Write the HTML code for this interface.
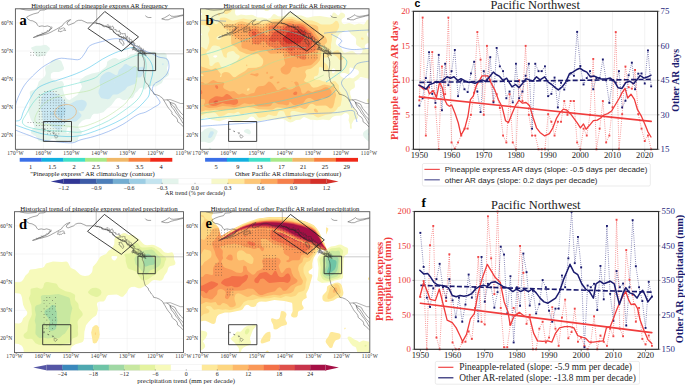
<!DOCTYPE html>
<html><head><meta charset="utf-8"><title>AR trends</title>
<style>html,body{margin:0;padding:0;background:#fff;width:685px;height:385px;overflow:hidden}svg{display:block}text{white-space:pre}</style>
</head><body>
<svg width="685" height="385" viewBox="0 0 685 385"><clipPath id="clipa"><rect x="15.4" y="8.8" width="168.2" height="140.5"/></clipPath>
<g clip-path="url(#clipa)">
<path d="M43.4 8.8V149.3M71.5 8.8V149.3M99.5 8.8V149.3M127.5 8.8V149.3M155.6 8.8V149.3M15.4 135.2H183.6M15.4 107.1H183.6M15.4 79H183.6M15.4 51H183.6M15.4 22.9H183.6" stroke="#e4e4e4" stroke-width="0.35" fill="none"/>
<path d="M39.4 56.8L37.4 56.8L35.9 55.6L34.5 53.8L33.3 50.8L31.3 48.8L31.1 47.8L31.9 47.2L35.9 45.8L40.4 45.8L44.9 44.8L46.7 45.3L49.6 47.8L49.9 48.8L49.6 49.8L47.9 51.6L45.4 55.1L39.4 56.8ZM76.4 142.0L73.4 142.0L67.9 140.5L62.4 141.8L58.9 141.9L57.4 141.4L54.4 139.1L52.9 138.6L51.4 139.0L48.4 141.3L46.9 142.0L44.9 142.2L41.0 141.8L38.6 140.8L35.8 136.3L31.6 133.8L30.8 132.8L31.0 130.8L31.9 129.8L34.2 128.3L34.6 127.3L33.1 123.3L30.9 119.7L28.4 111.8L28.3 109.3L29.3 105.8L29.4 102.3L30.4 98.3L29.7 92.8L30.1 91.8L30.9 90.9L34.4 89.7L36.1 88.3L37.4 86.3L38.7 81.8L44.8 76.3L45.5 74.8L45.8 72.8L44.9 68.3L45.9 66.1L49.4 64.5L51.4 60.9L53.4 59.8L55.9 59.3L58.4 59.6L60.3 60.3L61.4 61.3L64.0 67.8L64.0 69.3L62.4 70.5L58.9 72.0L53.9 71.9L52.4 72.4L51.4 73.3L50.9 74.3L50.7 77.8L51.2 78.8L51.9 79.3L56.4 81.2L57.9 81.5L61.4 81.0L62.9 81.7L64.1 84.8L62.8 87.8L62.8 89.3L64.4 94.8L65.6 97.3L66.9 98.9L67.9 99.6L69.4 99.9L70.9 99.3L73.4 97.4L77.4 95.1L81.4 88.3L81.9 86.8L81.8 85.8L79.7 81.8L79.7 80.8L80.4 79.8L85.4 76.0L91.9 73.6L97.9 72.3L100.4 71.2L105.9 66.7L106.7 65.3L107.1 62.3L107.6 61.3L112.4 58.5L114.4 57.9L115.9 57.9L118.4 59.6L119.4 59.7L121.4 58.7L126.4 57.6L127.9 56.8L130.4 54.4L133.9 54.0L137.4 51.6L139.4 51.0L141.4 51.1L145.9 52.6L153.9 51.5L158.4 53.0L164.4 52.7L166.2 53.8L166.7 54.8L166.7 57.3L168.1 60.3L168.5 62.3L168.3 64.3L167.0 67.8L166.9 69.3L169.0 73.3L169.1 74.3L168.1 75.8L163.8 78.8L161.9 83.0L155.9 86.5L154.9 86.6L151.4 85.8L148.9 86.4L147.4 87.3L145.4 89.6L144.4 89.4L142.4 87.5L140.4 87.9L139.3 88.8L137.5 91.3L135.2 93.3L133.2 97.3L131.9 98.3L128.9 98.6L124.9 100.3L122.9 99.9L119.4 97.9L117.1 98.3L115.4 99.7L111.4 105.2L106.9 108.7L103.4 112.3L97.9 113.8L93.9 113.7L92.1 115.3L90.7 118.3L89.9 119.1L85.9 119.2L82.2 120.8L79.3 123.8L78.5 125.3L78.2 126.8L78.9 128.5L81.5 131.3L81.9 132.3L81.8 133.3L78.6 136.8L77.6 140.8L76.4 142.0ZM68.1 133.3L69.7 131.8L70.5 129.8L70.0 127.8L68.9 127.2L67.4 127.9L66.4 130.3L66.4 132.3L66.8 133.3L67.4 133.5L68.1 133.3Z" fill="#e4f4ec" fill-rule="evenodd"/>
<path d="M163.4 65.0L162.9 65.2L162.2 64.8L162.2 63.8L162.9 63.3L163.8 63.8L163.4 65.0ZM107.9 99.3L101.4 98.2L100.1 96.8L98.5 93.3L98.6 90.8L100.2 86.8L99.5 82.3L99.7 79.8L100.8 76.8L102.6 74.8L105.9 72.4L108.4 71.8L110.4 72.3L115.4 75.0L116.9 75.1L117.7 74.3L118.4 71.3L119.1 69.8L121.9 67.5L124.4 64.4L125.4 63.9L126.4 63.9L129.2 65.8L130.9 66.4L133.9 66.6L137.9 67.6L142.9 66.8L144.4 67.4L145.0 68.3L145.1 69.8L141.4 76.6L139.9 77.4L136.9 77.3L135.9 78.3L136.2 81.8L135.4 83.4L134.0 84.3L127.4 86.8L125.1 89.8L118.4 93.9L116.9 94.4L113.9 94.5L112.8 94.8L109.9 98.4L107.9 99.3ZM114.6 82.3L114.7 81.8L114.4 81.7L113.7 82.3L114.6 82.3ZM59.4 130.6L57.9 130.4L55.3 128.3L51.9 126.7L48.4 123.5L47.4 123.4L45.4 123.9L44.4 123.7L43.2 121.8L42.5 118.3L42.0 112.3L40.2 108.3L40.0 106.8L41.3 102.3L41.4 97.3L43.9 93.6L45.9 92.2L49.4 91.3L50.9 91.2L58.9 94.9L60.4 96.2L65.4 102.2L67.9 103.8L69.4 104.0L70.9 103.6L76.4 100.6L81.9 99.7L84.4 100.4L86.0 101.8L86.6 102.8L86.8 104.3L86.4 105.8L83.9 110.2L81.9 111.2L78.4 110.4L78.4 111.3L81.5 114.8L81.3 116.3L80.1 117.8L76.9 120.7L75.4 121.6L73.9 121.7L69.9 120.5L68.4 120.7L64.1 124.3L59.4 130.6Z" fill="#cae7f1" fill-rule="evenodd"/>
<path d="M59.9 122.9L59.0 122.8L58.8 122.3L60.0 118.8L60.1 117.3L59.5 116.3L56.8 113.8L56.2 112.8L59.3 104.8L59.9 104.1L60.9 104.0L61.9 104.5L65.1 107.8L65.6 108.8L65.8 110.3L65.2 112.8L62.8 116.8L61.9 120.5L60.9 122.1L59.9 122.9ZM52.9 114.8L51.4 114.9L50.4 114.3L49.7 113.3L49.9 112.5L51.9 112.1L54.3 112.8L54.5 113.3L54.3 113.8L52.9 114.8Z" fill="#b3dbec" fill-rule="evenodd"/>
<path d="M13 114C13.3 113.6 14.5 113.4 15 111.6C15.5 109.8 15.1 106.4 16 103.3C16.9 100.2 18.4 96.4 20.2 92.9C21.9 89.4 23.4 86.3 26.5 82.5C29.6 78.7 35.5 73.1 39 70C42.5 66.9 44.3 65.9 47.6 64C50.9 62.1 55.2 59.3 58.9 58.5C62.6 57.7 66.6 58.9 70 59C73.4 59.1 76.9 60.4 79.4 59.4C81.9 58.4 83.2 55.2 85 52.9C86.8 50.6 87.1 47.5 90 45.6C92.9 43.7 98.3 42.5 102.5 41.4C106.7 40.2 111.2 38.9 115 38.7C118.8 38.5 122.2 39 125.3 40C128.4 41 131.1 43 133.7 44.6C136.3 46.2 138.2 48.1 141 49.5C143.8 50.9 147.4 51.6 150.3 52.9C153.2 54.1 155.8 56 158.6 57C161.4 58 165.3 57.5 167 59.1C168.7 60.7 169 64 169 66.4C169 68.8 168.4 71.4 167 73.7C165.6 76 162.8 78.3 160.7 80C158.6 81.7 155.8 82.3 154.4 84C153 85.7 152.1 88.2 152.4 90.3C152.8 92.4 155.2 94.4 156.5 96.5C157.8 98.6 160.4 101.1 160 102.9C159.6 104.7 156.7 105.6 154.3 107.1C151.9 108.6 148.6 110.8 145.7 112.1C142.8 113.4 140.9 113 137.1 115C133.3 117 127.7 121.6 122.9 124.3C118.2 127 113.4 129.4 108.6 131.4C103.8 133.4 99.1 135 94.3 136.4C89.5 137.8 83.7 138.9 80 140C76.3 141.1 76.3 142.5 72.2 142.8C68.1 143.1 60.8 142.2 55.6 141.7C50.4 141.2 45.9 140.8 41 139.6C36.1 138.4 30.7 135.9 26.5 134.4C22.3 132.9 18.2 131.2 16 130.3C13.8 129.4 13.5 129.2 13 129" fill="none" stroke="#5a8ce4" stroke-width="0.5" stroke-linejoin="round"/>
<path d="M13 121C14.2 120.8 18.5 121.5 20.2 119.9C21.9 118.3 22 114.7 23.4 111.6C24.8 108.5 26.4 105 28.6 101.2C30.9 97.4 33.5 91.8 36.9 88.7C40.3 85.6 45.8 84 49.3 82.5C52.8 81 53.5 81.5 58 80C62.5 78.5 71.1 75.8 76.4 73.6C81.7 71.4 85.7 69.4 90 67C94.3 64.6 98.3 61.5 102.5 59.1C106.7 56.8 110.8 54.6 115 52.9C119.2 51.2 124.3 49.6 127.4 48.7C130.5 47.8 131.4 47 133.7 47.7C136 48.4 138.6 51.3 141 53C143.4 54.7 146.1 55.8 148 58C149.9 60.2 151.7 63.2 152.4 66C153.1 68.8 152.8 72 152.4 75C152 78 150.5 80.8 150 84C149.5 87.2 150 91.6 149.3 94.3C148.6 97 147.7 97.6 145.7 100C143.7 102.4 140.9 105.5 137.1 108.6C133.3 111.7 127.7 115.8 122.9 118.6C118.2 121.4 113.4 123.6 108.6 125.7C103.8 127.8 99.1 129.7 94.3 131.4C89.5 133.1 84.7 134.8 80 135.7C75.3 136.5 71.8 136.7 66 136.5C60.2 136.3 51.1 135.4 45.2 134.4C39.3 133.4 35.1 131.7 30.6 130.3C26.1 128.9 21.1 127 18.2 126C15.3 125 13.9 124.3 13 124" fill="none" stroke="#30bce6" stroke-width="0.5" stroke-linejoin="round"/>
<path d="M26.5 113.7C28.2 110.6 30.3 106.4 32.7 103.3C35.1 100.2 37.2 97.4 41 95C44.8 92.6 50.4 90.4 55.6 88.7C60.8 87 65.8 86.3 72.2 84.6C78.6 82.9 89 80.5 94 78.3C99 76.1 99 73.8 102.5 71.6C106 69.4 110.8 67.4 115 65.3C119.2 63.2 123.6 60.8 127.4 59.1C131.2 57.4 135 55.4 137.8 55C140.6 54.6 142.6 55.3 144 57C145.4 58.7 145.9 61.8 146.1 65.3C146.3 68.8 145.5 73.9 145 78C144.5 82.1 144.2 86.3 142.9 90C141.6 93.7 140.4 96.4 137.1 100C133.8 103.6 127.7 108 122.9 111.4C118.2 114.9 113.4 118.1 108.6 120.7C103.8 123.3 99.1 125.2 94.3 127.1C89.5 129 84.7 131.4 80 132.1C75.3 132.8 71.8 131.6 66 131.3C60.2 131 51.5 131 45.2 130.3C38.9 129.6 31.8 128.4 28 127C24.2 125.6 22.6 124.2 22.3 122C22.1 119.8 24.8 116.8 26.5 113.7" fill="none" stroke="#5ad8c8" stroke-width="0.5" stroke-linejoin="round"/>
<path d="M39 109.5C41.1 106.4 43.8 103.5 47.3 101.2C50.8 99 54.9 97.4 59.7 96C64.6 94.6 71.4 93.9 76.4 92.9C81.5 92 85.7 91.8 90 90.3C94.3 88.8 98.3 86.1 102.5 84C106.7 81.9 110.8 79.9 115 77.8C119.2 75.7 124 73.5 127.4 71.6C130.8 69.7 134.1 65.8 135.7 66.4C137.3 67 137.2 71.1 137 75C136.8 78.9 135.8 85.8 134.3 90C132.8 94.2 129.9 97.4 128 100C126.1 102.6 126.1 103.1 122.9 105.7C119.7 108.3 113.4 112.8 108.6 115.7C103.8 118.6 99.1 121 94.3 122.9C89.5 124.8 84.7 126.6 80 127.1C75.3 127.6 72.5 126.5 66 126C59.5 125.5 46.2 125 41 124C35.8 123 35.1 122.3 34.8 119.9C34.5 117.5 36.9 112.6 39 109.5" fill="none" stroke="#b4e296" stroke-width="0.5" stroke-linejoin="round"/>
<ellipse cx="65.5" cy="112.3" rx="11.0" ry="7.8" fill="none" stroke="#eeb06c" stroke-width="0.6" transform="rotate(-8 65.5 112.3)"/>
<path d="M27.7 122.3h.7v.7h-.7zM30.5 122.3h.7v.7h-.7zM33.3 122.3h.7v.7h-.7zM36.1 125.1h.7v.7h-.7zM36.1 122.3h.7v.7h-.7zM38.9 125.1h.7v.7h-.7zM38.9 122.3h.7v.7h-.7zM38.9 119.4h.7v.7h-.7zM38.9 116.6h.7v.7h-.7zM38.9 113.8h.7v.7h-.7zM38.9 111h.7v.7h-.7zM38.9 108.2h.7v.7h-.7zM38.9 105.4h.7v.7h-.7zM38.9 102.6h.7v.7h-.7zM38.9 99.8h.7v.7h-.7zM38.9 97h.7v.7h-.7zM38.9 94.2h.7v.7h-.7zM41.7 127.9h.7v.7h-.7zM41.7 125.1h.7v.7h-.7zM41.7 122.3h.7v.7h-.7zM41.7 119.4h.7v.7h-.7zM41.7 116.6h.7v.7h-.7zM41.7 113.8h.7v.7h-.7zM41.7 111h.7v.7h-.7zM41.7 108.2h.7v.7h-.7zM41.7 105.4h.7v.7h-.7zM41.7 102.6h.7v.7h-.7zM41.7 99.8h.7v.7h-.7zM41.7 97h.7v.7h-.7zM41.7 94.2h.7v.7h-.7zM44.5 130.7h.7v.7h-.7zM44.5 127.9h.7v.7h-.7zM44.5 125.1h.7v.7h-.7zM44.5 122.3h.7v.7h-.7zM44.5 119.4h.7v.7h-.7zM44.5 116.6h.7v.7h-.7zM44.5 113.8h.7v.7h-.7zM44.5 111h.7v.7h-.7zM44.5 108.2h.7v.7h-.7zM44.5 105.4h.7v.7h-.7zM44.5 102.6h.7v.7h-.7zM44.5 99.8h.7v.7h-.7zM44.5 97h.7v.7h-.7zM44.5 94.2h.7v.7h-.7zM44.5 91.3h.7v.7h-.7zM47.3 133.5h.7v.7h-.7zM47.3 130.7h.7v.7h-.7zM47.3 127.9h.7v.7h-.7zM47.3 125.1h.7v.7h-.7zM47.3 122.3h.7v.7h-.7zM47.3 119.4h.7v.7h-.7zM47.3 116.6h.7v.7h-.7zM47.3 113.8h.7v.7h-.7zM47.3 111h.7v.7h-.7zM47.3 108.2h.7v.7h-.7zM47.3 105.4h.7v.7h-.7zM47.3 102.6h.7v.7h-.7zM47.3 99.8h.7v.7h-.7zM47.3 97h.7v.7h-.7zM47.3 94.2h.7v.7h-.7zM47.3 91.3h.7v.7h-.7zM50.1 133.5h.7v.7h-.7zM50.1 130.7h.7v.7h-.7zM50.1 127.9h.7v.7h-.7zM50.1 125.1h.7v.7h-.7zM50.1 122.3h.7v.7h-.7zM50.1 119.4h.7v.7h-.7zM50.1 116.6h.7v.7h-.7zM50.1 113.8h.7v.7h-.7zM50.1 111h.7v.7h-.7zM50.1 108.2h.7v.7h-.7zM50.1 105.4h.7v.7h-.7zM50.1 102.6h.7v.7h-.7zM50.1 99.8h.7v.7h-.7zM50.1 97h.7v.7h-.7zM50.1 94.2h.7v.7h-.7zM50.1 91.3h.7v.7h-.7zM52.9 133.5h.7v.7h-.7zM52.9 130.7h.7v.7h-.7zM52.9 127.9h.7v.7h-.7zM52.9 125.1h.7v.7h-.7zM52.9 122.3h.7v.7h-.7zM52.9 119.4h.7v.7h-.7zM52.9 116.6h.7v.7h-.7zM52.9 113.8h.7v.7h-.7zM52.9 111h.7v.7h-.7zM52.9 108.2h.7v.7h-.7zM52.9 105.4h.7v.7h-.7zM52.9 102.6h.7v.7h-.7zM52.9 99.8h.7v.7h-.7zM52.9 97h.7v.7h-.7zM52.9 94.2h.7v.7h-.7zM52.9 91.3h.7v.7h-.7zM55.7 133.5h.7v.7h-.7zM55.7 130.7h.7v.7h-.7zM55.7 127.9h.7v.7h-.7zM55.7 125.1h.7v.7h-.7zM55.7 122.3h.7v.7h-.7zM55.7 119.4h.7v.7h-.7zM55.7 116.6h.7v.7h-.7zM55.7 113.8h.7v.7h-.7zM55.7 111h.7v.7h-.7zM55.7 108.2h.7v.7h-.7zM55.7 105.4h.7v.7h-.7zM55.7 102.6h.7v.7h-.7zM55.7 99.8h.7v.7h-.7zM55.7 97h.7v.7h-.7zM55.7 94.2h.7v.7h-.7zM55.7 91.3h.7v.7h-.7zM58.5 133.5h.7v.7h-.7zM58.5 130.7h.7v.7h-.7zM58.5 127.9h.7v.7h-.7zM58.5 125.1h.7v.7h-.7zM58.5 122.3h.7v.7h-.7zM58.5 119.4h.7v.7h-.7zM58.5 116.6h.7v.7h-.7zM58.5 113.8h.7v.7h-.7zM58.5 111h.7v.7h-.7zM58.5 108.2h.7v.7h-.7zM58.5 105.4h.7v.7h-.7zM58.5 102.6h.7v.7h-.7zM58.5 99.8h.7v.7h-.7zM58.5 97h.7v.7h-.7zM58.5 94.2h.7v.7h-.7zM61.3 130.7h.7v.7h-.7zM61.3 127.9h.7v.7h-.7zM61.3 125.1h.7v.7h-.7zM61.3 122.3h.7v.7h-.7zM61.3 119.4h.7v.7h-.7zM61.3 116.6h.7v.7h-.7zM61.3 113.8h.7v.7h-.7zM61.3 111h.7v.7h-.7zM61.3 108.2h.7v.7h-.7zM61.3 105.4h.7v.7h-.7zM61.3 102.6h.7v.7h-.7zM61.3 99.8h.7v.7h-.7zM61.3 97h.7v.7h-.7zM64.1 125.1h.7v.7h-.7zM64.1 122.3h.7v.7h-.7zM64.1 119.4h.7v.7h-.7zM64.1 116.6h.7v.7h-.7zM64.1 113.8h.7v.7h-.7zM64.1 111h.7v.7h-.7zM64.1 108.2h.7v.7h-.7zM64.1 105.4h.7v.7h-.7zM64.1 102.6h.7v.7h-.7zM64.1 99.8h.7v.7h-.7zM30.5 54.8h.7v.7h-.7zM30.5 52h.7v.7h-.7zM33.3 54.8h.7v.7h-.7zM33.3 52h.7v.7h-.7zM36.1 54.8h.7v.7h-.7zM36.1 52h.7v.7h-.7zM38.9 54.8h.7v.7h-.7zM38.9 52h.7v.7h-.7zM41.7 54.8h.7v.7h-.7zM41.7 52h.7v.7h-.7zM44.5 54.8h.7v.7h-.7zM44.5 52h.7v.7h-.7z" fill="#333" opacity="0.8"/>
<polyline points="47.6,8.2 44.8,9.9 40.1,10.2 38.4,12.7 33.6,13.9 30,15.3 26.6,17.2 28.3,19.5 30.5,20.6 32.8,20.9 36.4,22.9 37.5,25.1 38.9,26.5 42,25.9 44.8,26.5 47.4,25.9 50.4,26.8 51.3,28.8 49,30.7 46.8,32.4 43.4,33.8 39.5,34.9 36.1,36.3 33.3,37.5 36.1,36.9 38.9,35.8 42,35.2 44.8,34.4 47.9,33.5 51,32.1 53.5,30.7 56.3,29.3 59.7,27.3 62.2,25.9 63.1,24.3 65.3,22.3 67,20.9 70.6,19.5 69.2,21.2 67.5,22 67,24 68.7,25.1 71.5,24 74.3,22.9 76.2,21.2 78.5,20.3 81.6,20.3 84.1,21.4 87.2,22.9 91.1,22.9 95.3,23.1 98.7,23.7 101.2,24.5 104.3,25.7 107.3,27.1 109.9,27.9 112.1,29.9 114.4,32.4 116.9,34.7 120.2,36.6 123.9,38 126.7,39.1 128.1,41.4 130.3,43.1 133.1,45.3 134.3,47.3 133.4,49.3 135.9,50.7 138.7,52.1 141,53.8 143.2,54.9 142.4,56 143.8,58.8 144.4,61.6 144.4,65 144.1,67.8 143.2,70.6 143.8,73.4 143.8,76.2 144.4,78.2 144.9,80.5 145.5,82.1 147.2,84.1 148.6,85.2 148.8,86.9 150.2,88.6 151.6,90.9 153.3,92.5 153.9,94.2 156.7,94.8 159.5,95.9 160.6,96.8 162.3,97.9 163.4,99.6 164,100.7 165.1,102.4 166.2,104.3 167.3,106.3 168.7,108.3 170.7,110.5 172.1,112.8 171.8,113.9 174.1,115.9 176.3,117.5 177.4,119.5 177.7,121.8 179.7,123.2 181.9,125.1 183.6,127.1 185.3,126.8" fill="none" stroke="#333" stroke-width="0.45" stroke-linejoin="round"/>
<polyline points="185.3,126.8 184.4,124.6 182.8,123.2 181.9,121.5 180.5,119 179.1,117 177.7,115 176,113.1 174.9,111.1 173.5,109.1 171.8,107.1 170.7,104.9 170.1,102.4 171.8,102.9 173.8,103.5 175.5,104.6 176.3,106.6 177.4,108.6 179.1,110.5 180.8,112.8 182.2,114.2 183.9,115.6 185.3,117.3 186.1,119.5" fill="none" stroke="#333" stroke-width="0.45" stroke-linejoin="round"/>
<polyline points="166.8,99.8 169,101 171.3,104.3 173.5,106 175.2,108.3 176.9,111.1 178.6,113.9 180.2,116.1 182.5,118.4 184.2,120.6" fill="none" stroke="#333" stroke-width="0.45" stroke-linejoin="round"/>
<polyline points="19.3,8.2 21.6,9.1 25.5,9.9 28.9,10.2 32.8,9.9 36.7,9.6 38.9,8.2" fill="none" stroke="#333" stroke-width="0.45" stroke-linejoin="round"/>
<polyline points="161.7,18.9 165.4,19.8 168.2,19.8 171.3,18.4 174.6,17.5 177.2,16.9 180.2,16.1 183,15.5 183.6,14.7 180,15.5 176.6,16.1 173.8,16.4 171,16.1 169.6,14.7 167.9,15.8 164.5,17.8 161.7,18.9" fill="none" stroke="#333" stroke-width="0.45" stroke-linejoin="round"/>
<polyline points="145.5,15.5 146.3,16.7 148.3,17.5 151.4,17.5" fill="none" stroke="#333" stroke-width="0.45" stroke-linejoin="round"/>
<polyline points="95.3,23.1 95.7,22.6 96.1,22.2 96.4,23 96.6,23.7 96.9,23.8 97.3,23.5 97.7,23.3 98,23.3 98.2,24.1 98.6,23.8 99.2,23.2 99.5,23.7 99.8,23.8 100,24.4 100.5,24.3 101,23.9 101.3,24.3 101.5,24.8 101.9,24.6 102.2,25 102.2,26 102.7,25.6 103.2,25.4 103.2,26.4 103.5,26.6 104.1,26.2 104.3,26.4 104.4,27 104.9,26.6 105.7,25.9 105.9,26.1 105.9,26.9 106.4,26.8 106.9,26.4 107.1,26.8 107.4,27 107.9,26.6 108.2,27 108.3,27.8 108.7,27.7 109.2,27.4 109.7,27.3 109.8,28 109.6,28.8 110,28.9 110,29.5 110.6,29.4 111.5,28.9 111.5,29.4 112,29.4 112.8,29.2 112.8,29.7 112.9,30.1 113.2,30.3 112.9,31 113,31.3 113.8,31.1 113.3,32 113.5,32.3 114.2,32.1 114.5,32.2 114.7,32.5 114.7,33 115.2,33 115.2,33.5 115.5,33.6 116,33.6 116.2,33.9 116.4,34.2 116.8,34.3 117.3,34.1 117.3,34.7 117.6,34.8 118.2,34.5 118.7,34.3 118.5,35.5 118.6,36 119.3,35.4 119.4,35.9 119.4,36.7 120,36.4 120.2,36.6 120.5,37 121.2,36.1 121.2,37.1 121.3,37.9 121.7,37.9 122.1,37.8 122.8,36.8 123.4,36.3 123.3,37.7 123.2,38.8 123.9,38 124.6,37.3 124.9,37.5 124.9,38.6 125.2,38.8 125.7,38.6 126,39 126.2,39.4 126.6,39.3 127.1,39.3 127.2,39.7 127.2,40.2 127,40.8 127.1,41.1 128.1,40.9 128.4,41.1 128,42.2 128.6,41.9 129.4,41.4 129.9,41.4 130,41.7 129.7,42.8 129.6,43.5 130.3,43.1 131.6,42 131.4,43 130.8,44.2 131.4,44 131.7,44.3 131.7,44.8 132.1,44.9 132.5,44.9 133.2,44.7 133.5,45 133.7,45.5 133.7,45.9 133.7,46.3 133.2,47 132.8,47.7 134,47.5 134.6,47.5 134.7,47.9 135.3,47.8 135.8,47.9 136.1,48.1 136.3,48.5 136.2,49 136.2,49.7 136.4,50.1 136.8,50.1 137.1,50.4 137.4,50.5 137.9,50.2 138.3,50 138.6,50.2 138.7,51.2 139,51.2 139.6,50.5 140.2,50.2 140.6,50.2 140.5,51 140.6,51.7 141.4,50.8 142,50.4 142.3,50.7 142.8,50.3 142.7,51.5 142.7,52.3 143.2,51.9 143.5,52 143.9,52.2 144.1,52.5 144.4,52.7 144.4,53.5 144.6,53.8 145.1,53.7 145.5,53.8 145.9,53.8 146.3,53.8 146.9,53.5" fill="none" stroke="#222" stroke-width="0.45" stroke-linejoin="round"/>
<polyline points="106.5,25.7 107,25.1 107.4,24.7 107.7,25 108.2,24.6 108.3,25.8 108.4,27.2 108.7,27.3 109.1,27 109.8,25.8 110.2,25.9 110.4,26.3 110.3,27.5 110.6,27.9 111.1,27.4 111.8,26.6 112.5,25.8 112.7,26.3 112.8,27 113.1,27.3 113.7,27.2 113.6,27.9 113.5,28.6 113.9,28.7 114.1,29 114.2,29.4 114.6,29.4 114.9,29.7 115.5,29.4 115.5,30 115.8,30.2 116.4,29.9 116.2,30.8 116.2,31.3 116.6,31.3 117.3,31 117.7,31 117.9,31.3 118.1,31.6 119.2,30.6 119.7,30.7 119.1,32.1 119.5,32 120,32 120.1,32.4 120.7,32.3 120.6,33 120,34.4 120.3,34.7 121.5,33.6 121.8,33.8 122,34 122.7,33.5 122.8,34.1 123.1,34.2 124.1,33.2 124.3,33.5 124.5,33.9 124.7,34 125.3,33.5 125.4,34.1 125.3,35.5 125.7,35.4 125.9,36.1 125.7,37.4 126.1,37.6 126.8,36.6 127.6,36.3 126.9,37.3 126,38.4 126.8,38.3 127.8,37.9 128.1,38.1 128.7,38.1 129.5,37.8 129.5,38.1 129.5,38.6 129.3,39.5 129,40.5 129.7,40.1 130.7,39.4 131.1,39.4 131.4,39.7 131.7,39.9 132.1,40.1 131.2,41.4 130.8,42.3 132,41.6 132.8,41.3 132.3,42.4 132.7,42.4 133.5,42.2 133.1,43.1 133.7,43 134.3,42.8 133.8,43.8 134.2,44 135.1,43.6 134.6,44.6 134.7,45 134.4,45.9 134.6,46.3 135.8,45.4 136,45.7 136.1,46.1 136.6,46.1 137,46.1 137.7,45.8 138,46 137.8,46.9 138.3,46.8 139.4,45.8 139.3,46.5 139.1,47.4 138.9,48.2 139.5,48 140.6,47.1 140.8,47.3 140.9,47.9 140.3,49.2 140.9,49 141.8,48.3 141.5,49.3 141,50.6 141.8,50.2 142.5,49.7 143.5,48.9 143.6,49.3 142.8,51 143.3,51 143.2,51.7 143.2,52.3 144.6,50.9 145.2,50.8 144.6,52.1 144.5,52.8 145.2,52.5 146.2,51.8" fill="none" stroke="#333" stroke-width="0.4" stroke-linejoin="round"/>
<polyline points="119.2,39 119.5,39.8 119.8,40 120.3,39.3 120.7,39.3 121,39.2 121.6,39.2 122,39.7 121.8,40.4 122.2,40.5 122.7,40.7 122.8,41.1 122.8,41.5 123.3,41.7 123.7,41.9 123.6,42.4 123.6,42.8 123.5,43.3 124.1,43.4 124.2,43.9 123.9,44.1 123.8,44.5 123.7,44.9 123.1,45.6 122.5,44.9 122.2,44.6 122.1,44.1 121.9,43.9 121.7,43.5 121.5,43.1 120.8,43.3 120.6,43 120.6,42.5 120.6,42.1 120.4,41.8 119.8,41.8 119.3,41.6 119.4,41.1 119.9,40.6 119.5,40.4 119.5,40 119.7,39.6 119.4,39.3" fill="none" stroke="#333" stroke-width="0.4" stroke-linejoin="round"/>
<polyline points="132.1,48.5 132.3,48.9 132.5,49.5 132.7,50.1 133.1,49.9 133.8,49.1 134.2,49.2 134.5,49.5 134.9,49.4 135.1,49.8 135.6,49.5 135.9,49.7 136.1,50.3 136.7,49.6 137,49.9 137.2,50.6 137.5,50.8 137.8,50.9 138,51.3 138.1,51.7 138.9,51.1 139.3,51.1 139.3,51.7 139.6,51.9 140,51.9 140.2,52.1 140.5,52.3 140.6,52.8 140.8,53.1 141.3,53.1 141.6,53.2 141.9,53.3 142,53.9 142.2,54.1 142.5,54.3 143,54.3 143.4,54.2 143.7,54.4 144,54.8 144.4,54.7 144.8,54.6 145.1,54.8 145.5,54.7 145.7,55.4 146.2,55.6 145.9,55.1 145.6,54.9 145,54.9 144.7,54.6 144.6,54.3 144.6,53.8 144.5,53.4 144,53.5 143.6,53.5 143.4,53.1 143.2,52.8 142.8,52.8 142.8,52.1 142.8,51.6 142.2,51.8 141.9,51.6 141.9,51 141.3,51.2 140.8,51.3 140.7,50.9 140.4,50.6 140.1,50.4 139.9,50.1 139.6,49.9 139.2,50 138.7,50.2 138.4,49.8 138.3,49.3 137.9,49.2 137.7,48.8 137.3,48.8 136.8,49.2 136.5,48.9 136.2,48.8 135.8,48.8 135.5,48.7 135,49.1 134.8,48.6 134.4,47.9 134.1,47.9 133.7,48.1 133.4,47.9 133,48.2 132.7,48.9 132.4,49 132,48.6" fill="none" stroke="#333" stroke-width="0.4" stroke-linejoin="round"/>
<polyline points="57.9,31 58.2,31.4 58.7,31.1 59.1,31.2 59.4,31.3 59.9,31.1 60.1,31.7 60.4,31.8 60.8,31.7 61,31.4 61.2,31 61.8,31.4 62.1,31.4 62.4,31.1 62.7,30.9 62.9,30.6 63.2,30.4 63.5,30.2 63.9,30.1 64.3,30.3 64.8,30.6 65.6,30.5 65.3,29.8 64.7,29.5 64.4,29.2 64.6,28.8 64.8,28.4 64.4,28.3 64,28.1 63.7,27.7 63.3,28 62.9,28.3 62.6,28.1 62.2,28.3 61.9,28.5 61.4,28.3 61.2,28.7 61,29.2 60.6,29.2 60.1,29 59.6,28.7 59,28.7 58.8,29.3 58.8,29.9 58.5,30.1 58.5,30.6 58.3,31.1" fill="none" stroke="#333" stroke-width="0.4" stroke-linejoin="round"/>
<polyline points="51.7,26.4 51.7,26.8 52,27.4 52,27.8 52,28.2 51.4,28.3 50.9,28.4 50.7,28.7 50,28.7 49.7,28.9 50,29.5 49.7,29.6 49.4,29.6 49.5,30.4 49.4,30.8 49,30.9 48.7,31 48.2,31 47.5,30.5 47.5,31 47.2,31.3 46.8,31.2 46.7,31.8 46.3,31.9 46,32.2 45.6,32.2 45.4,32.5 44.9,32.4 44.6,32.5 44.2,32.5 43.9,32.8 43.7,33.3 43.3,33.2 43.2,33.9 42.6,33.2 42.1,32.7 42.1,33.8 41.9,34.3 41.6,34.6 41.3,34.7 40.9,34.5 40.5,34.5 40.1,34.5 39.8,34.6 39.5,34.9 39.2,35.1 38.8,35.1 38.6,35.7 38.4,36 37.8,35.4 37.3,35.1 37.1,35.6 36.7,35.5" fill="none" stroke="#444" stroke-width="0.4" stroke-linejoin="round"/>
<polyline points="54.9,134.7 57.2,135.5 58,136.7 55.8,138.2 54.8,136.9 54.9,134.7" fill="none" stroke="#444" stroke-width="0.4" stroke-linejoin="round"/>
<polyline points="52.7,132.6 54.6,133 53.5,133.7 52.7,132.6" fill="none" stroke="#444" stroke-width="0.4" stroke-linejoin="round"/>
<polyline points="48.2,130.8 49.9,131.6 48.8,131.6 48.2,130.8" fill="none" stroke="#444" stroke-width="0.4" stroke-linejoin="round"/>
<polyline points="44,129.1 45.4,129.1 44.8,129.9 44,129.1" fill="none" stroke="#444" stroke-width="0.4" stroke-linejoin="round"/>
<polyline points="146.6,53.8 189.2,53.8" fill="none" stroke="#999" stroke-width="0.5" stroke-linejoin="round"/>
<polyline points="96.7,7.4 96.7,22" fill="none" stroke="#666" stroke-width="0.4" stroke-linejoin="round"/>
<polyline points="163.7,100 170.4,99.6 180.5,103.5 188.6,103.5" fill="none" stroke="#555" stroke-width="0.45" stroke-linejoin="round"/>
<polygon points="104.8,11.5 138.5,36.9 121.6,51.2 88,28.5" fill="none" stroke="#222" stroke-width="0.85"/>
<polygon points="138.2,53.2 155.6,53.2 155.6,70.6 138.2,70.6" fill="none" stroke="#222" stroke-width="0.85"/>
<polygon points="43.4,121.5 71.5,121.5 71.5,141.4 43.4,141.4" fill="none" stroke="#222" stroke-width="0.85"/>
</g>
<rect x="15.4" y="8.8" width="168.2" height="140.5" fill="none" stroke="#555" stroke-width="0.9"/>
<text x="13.1" y="137.2" font-size="5.6" font-family='"Liberation Serif", serif' text-anchor="end" fill="#333">20°N</text>
<text x="13.1" y="109" font-size="5.6" font-family='"Liberation Serif", serif' text-anchor="end" fill="#333">30°N</text>
<text x="13.1" y="81" font-size="5.6" font-family='"Liberation Serif", serif' text-anchor="end" fill="#333">40°N</text>
<text x="13.1" y="52.9" font-size="5.6" font-family='"Liberation Serif", serif' text-anchor="end" fill="#333">50°N</text>
<text x="13.1" y="24.8" font-size="5.6" font-family='"Liberation Serif", serif' text-anchor="end" fill="#333">60°N</text>
<text x="15.5" y="154.9" font-size="5.4" font-family='"Liberation Serif", serif' text-anchor="middle" fill="#333" letter-spacing="0.28">170°W</text>
<text x="43.6" y="154.9" font-size="5.4" font-family='"Liberation Serif", serif' text-anchor="middle" fill="#333" letter-spacing="0.28">160°W</text>
<text x="71.6" y="154.9" font-size="5.4" font-family='"Liberation Serif", serif' text-anchor="middle" fill="#333" letter-spacing="0.28">150°W</text>
<text x="99.6" y="154.9" font-size="5.4" font-family='"Liberation Serif", serif' text-anchor="middle" fill="#333" letter-spacing="0.28">140°W</text>
<text x="127.7" y="154.9" font-size="5.4" font-family='"Liberation Serif", serif' text-anchor="middle" fill="#333" letter-spacing="0.28">130°W</text>
<text x="155.7" y="154.9" font-size="5.4" font-family='"Liberation Serif", serif' text-anchor="middle" fill="#333" letter-spacing="0.28">120°W</text>
<text x="183.7" y="154.9" font-size="5.4" font-family='"Liberation Serif", serif' text-anchor="middle" fill="#333" letter-spacing="0.28">110°W</text>
<text x="99.5" y="7.9" font-size="6.65" font-family='"Liberation Serif", serif' text-anchor="middle" fill="#111">Historical trend of pineapple express AR frequency</text>
<clipPath id="clipb"><rect x="200.5" y="8.8" width="168.5" height="140.5"/></clipPath>
<g clip-path="url(#clipb)">
<path d="M228.6 8.8V149.3M256.7 8.8V149.3M284.8 8.8V149.3M312.8 8.8V149.3M340.9 8.8V149.3M200.5 135.2H369M200.5 107.1H369M200.5 79H369M200.5 51H369M200.5 22.9H369" stroke="#e4e4e4" stroke-width="0.35" fill="none"/>
<path d="M351.0 129.0L350.5 128.8L349.9 127.8L349.9 124.3L348.5 120.3L349.2 116.8L348.9 115.3L347.9 113.8L346.0 112.9L344.5 113.2L341.5 115.6L336.0 115.8L334.0 116.3L332.3 117.3L330.0 119.8L329.0 120.2L323.0 119.6L317.0 120.3L313.0 119.7L310.5 119.8L305.5 117.4L304.0 117.1L303.0 117.5L300.2 119.8L296.0 120.0L293.0 121.8L290.5 122.4L288.5 121.9L284.5 119.6L282.0 119.1L277.5 119.5L273.5 119.4L270.0 120.0L265.0 120.0L260.5 120.9L258.5 121.0L256.4 120.3L253.5 117.1L251.5 116.4L249.5 117.2L248.0 118.9L246.7 119.8L242.0 120.6L238.5 121.8L231.5 120.0L228.0 118.6L219.5 121.3L211.8 119.8L206.5 117.5L205.0 117.8L202.0 119.4L200.5 119.7L200.5 35.7L201.5 35.3L202.0 34.3L201.5 33.5L200.5 33.2L200.5 15.7L201.5 15.3L202.2 14.3L202.0 13.3L200.5 12.5L200.5 8.8L206.7 8.8L207.0 9.3L208.0 9.6L208.9 8.8L235.4 8.8L234.9 12.8L235.5 14.6L236.5 15.6L238.0 15.6L241.0 14.5L246.0 15.3L252.0 14.7L253.5 15.2L257.5 17.5L262.5 17.6L267.5 18.7L269.0 18.4L270.5 17.7L273.0 14.6L274.0 14.0L275.5 14.5L278.1 16.3L281.0 16.5L284.5 15.7L288.0 13.0L289.5 12.6L291.5 13.0L296.5 15.3L301.5 15.6L306.5 17.5L308.5 17.4L314.0 16.3L320.0 16.0L329.5 17.6L330.5 17.4L331.2 16.8L332.7 13.3L333.5 12.5L335.0 12.7L337.5 15.2L338.5 15.6L340.5 12.9L342.0 12.6L344.0 13.4L345.1 14.8L345.1 16.3L344.7 17.3L342.0 19.1L341.5 20.3L341.6 21.8L342.3 23.3L343.5 24.1L344.5 24.3L349.0 23.0L354.5 24.8L359.0 23.6L363.5 24.6L364.5 23.9L366.7 20.3L367.5 19.8L369.0 19.4L369.0 32.3L367.3 32.8L366.8 34.3L367.6 36.3L369.0 37.4L369.0 43.2L367.5 43.3L366.0 44.0L365.0 45.3L364.7 46.8L365.5 48.1L369.0 50.1L369.0 78.7L361.0 77.1L360.0 77.2L357.5 79.7L354.4 81.8L355.0 85.8L354.8 87.3L354.0 88.3L351.2 89.8L350.1 91.3L350.2 94.3L351.9 99.8L349.9 101.8L349.7 103.3L352.5 107.5L355.0 108.9L356.2 112.8L358.2 117.3L357.5 118.8L354.5 119.6L353.7 120.3L351.6 124.3L351.8 127.8L351.5 128.8L351.0 129.0ZM267.5 10.9L266.0 11.0L265.0 10.7L264.3 9.8L264.1 8.8L269.9 8.8L269.0 10.2L267.5 10.9ZM359.7 54.3L361.0 53.5L362.0 52.3L362.6 50.8L362.7 49.3L361.8 48.3L357.5 45.8L356.4 44.8L356.0 43.3L356.2 39.3L355.0 37.0L351.2 34.3L348.9 31.3L347.3 30.3L345.5 30.4L340.0 33.5L338.6 35.3L336.0 40.8L335.7 43.3L336.5 45.1L340.5 47.4L341.7 48.8L343.0 51.4L344.0 52.4L345.5 52.5L350.0 51.3L352.5 51.1L354.0 51.7L355.5 53.3L357.0 54.2L358.5 54.5L359.7 54.3ZM215.5 57.8L217.1 56.8L217.3 55.8L217.0 55.4L215.0 55.2L213.5 55.8L213.3 56.8L213.7 57.3L215.5 57.8ZM353.3 78.3L358.4 74.3L358.9 72.8L358.8 71.3L357.5 69.8L353.5 68.6L351.0 67.4L350.0 67.5L349.4 68.3L349.5 72.8L349.0 74.2L348.5 74.6L345.0 73.1L343.5 72.9L340.8 73.3L340.0 74.3L340.4 75.8L341.3 76.8L344.5 78.4L347.0 78.6L349.5 77.4L352.5 78.4L353.3 78.3ZM334.0 72.8L335.2 71.8L335.6 70.3L334.8 68.8L333.0 68.3L331.9 69.3L332.0 72.3L332.5 73.0L333.0 73.2L334.0 72.8ZM369.0 103.5L367.5 102.6L366.7 100.8L367.2 99.3L369.0 98.3L369.0 103.5Z" fill="#f7f8c9" fill-rule="evenodd"/>
<path d="M227.0 14.0L225.0 14.0L223.7 12.8L224.9 8.8L232.0 8.8L231.5 10.5L230.5 11.9L227.0 14.0ZM219.0 15.8L218.0 15.1L217.5 13.8L218.0 13.2L219.5 12.9L220.4 13.3L220.5 13.8L220.0 15.2L219.0 15.8ZM290.5 119.4L289.3 119.3L287.8 118.3L285.4 115.3L284.1 111.8L283.5 111.2L282.0 110.9L280.0 111.1L278.6 111.8L277.9 112.8L277.1 115.3L276.5 115.8L274.0 115.9L268.5 114.4L265.3 116.8L259.5 117.7L258.0 117.2L256.0 114.0L253.5 112.8L246.0 113.0L241.5 114.4L240.5 114.0L239.0 112.3L238.0 111.8L234.0 113.6L229.5 112.9L228.0 113.1L224.0 115.4L220.0 116.4L218.5 116.0L215.9 113.3L214.0 112.6L209.5 113.3L206.0 113.5L200.5 116.1L200.5 46.8L202.6 47.3L206.0 49.5L207.0 48.9L209.3 42.3L209.2 38.8L208.0 34.3L208.3 32.8L209.5 30.8L209.9 29.3L209.2 27.3L207.8 26.3L204.5 25.3L200.5 24.9L200.5 19.9L203.5 19.5L207.5 20.3L211.5 20.8L213.0 21.6L214.7 23.8L216.0 24.2L217.0 23.9L218.2 22.8L219.1 21.3L220.0 18.3L221.0 17.8L224.5 17.6L226.5 17.9L231.0 20.2L233.0 20.7L243.5 18.4L248.0 19.6L251.5 19.4L255.5 20.8L264.0 21.3L268.5 20.7L273.5 19.0L278.5 19.0L291.5 16.5L293.5 16.9L297.8 18.8L302.0 19.1L307.5 20.2L312.0 20.5L317.5 22.6L320.5 24.2L322.0 24.5L330.0 24.6L332.5 23.8L335.8 20.8L337.0 20.9L338.0 21.7L339.2 24.8L339.1 27.3L336.4 32.3L335.1 33.3L333.0 33.8L332.4 34.3L332.0 35.5L331.8 40.3L331.0 44.3L331.1 47.8L330.1 50.8L331.3 54.3L330.2 55.8L328.5 57.1L327.0 57.6L324.5 57.6L324.0 57.8L323.5 58.8L323.5 60.5L324.0 62.1L327.0 64.8L328.0 66.3L328.4 68.3L328.2 70.3L327.5 71.3L326.5 71.5L325.5 70.9L322.0 67.5L320.5 66.8L319.5 67.1L318.8 68.3L318.8 71.8L318.1 74.8L317.0 75.7L315.0 76.3L314.3 76.8L313.9 77.8L314.2 78.8L315.5 79.7L319.0 79.8L323.0 81.3L328.5 82.4L330.5 82.3L334.0 80.9L335.5 81.5L338.8 85.3L339.0 89.7L341.8 94.3L341.8 99.3L340.7 105.3L340.0 106.2L338.0 107.3L336.9 109.3L335.5 110.8L331.5 113.4L329.5 114.2L326.0 114.7L318.5 117.6L316.9 117.3L313.5 115.1L309.5 114.2L306.0 112.7L301.0 112.4L294.5 111.1L292.0 111.1L290.9 111.8L290.4 112.8L290.4 114.3L291.6 117.8L291.2 118.8L290.5 119.4ZM218.7 39.8L220.1 39.3L221.5 37.8L221.9 36.3L221.5 35.3L220.5 35.1L219.5 35.4L217.7 36.3L216.6 37.3L216.4 38.3L216.9 39.3L218.7 39.8ZM363.5 39.4L362.5 39.8L361.5 39.4L361.0 38.8L361.1 37.8L362.0 37.4L363.0 37.7L363.6 38.3L363.5 39.4ZM225.1 67.3L229.5 66.3L232.5 63.2L236.5 61.3L239.4 57.8L239.7 56.8L239.5 55.8L238.5 54.9L236.0 53.7L233.9 51.3L232.5 50.9L229.0 51.8L227.5 52.7L226.7 54.3L226.9 57.3L226.0 57.7L225.0 57.5L223.5 56.3L221.0 48.9L219.5 46.5L215.5 45.4L213.5 45.6L212.0 46.2L210.0 49.6L209.0 50.5L207.0 51.4L206.3 52.8L206.3 53.8L208.0 56.0L208.9 58.3L209.4 61.3L209.4 64.8L210.5 65.9L212.0 66.0L215.3 62.8L218.0 62.0L219.2 62.8L221.0 67.1L222.5 67.6L225.1 67.3ZM341.5 60.0L340.5 60.2L339.5 59.9L337.0 56.8L332.7 54.3L332.5 53.3L334.0 51.3L337.0 50.3L338.0 50.3L339.0 50.9L341.0 55.3L344.2 57.3L344.4 57.8L343.6 58.8L341.5 60.0Z" fill="#fee79a" fill-rule="evenodd"/>
<path d="M202.0 111.4L200.5 111.8L200.5 75.8L202.5 76.2L203.5 75.8L203.6 75.3L202.9 74.3L200.5 74.0L200.5 66.2L210.5 69.6L212.0 69.4L215.5 68.1L216.5 68.4L220.6 73.8L220.8 74.3L220.0 76.3L220.0 76.8L220.5 77.2L221.6 76.3L221.6 74.3L222.3 73.3L224.0 72.3L226.0 72.0L227.5 72.2L229.0 72.8L230.5 74.0L232.9 76.8L234.0 77.3L235.5 76.9L239.0 74.5L244.7 71.3L246.0 70.3L248.0 67.9L256.0 67.8L260.5 66.6L262.0 65.6L263.1 63.3L263.3 60.8L262.7 58.8L258.5 54.2L257.0 53.8L253.5 54.6L246.5 54.0L240.0 51.2L239.0 50.4L236.5 47.2L231.8 44.8L231.3 43.8L231.0 36.3L229.5 31.7L228.5 30.0L227.5 29.1L224.5 28.5L223.5 27.8L223.8 26.3L225.5 24.1L234.0 23.9L238.8 21.8L242.0 21.2L247.5 22.7L254.0 23.4L258.5 23.6L262.5 24.6L272.5 21.2L278.0 20.8L283.5 19.5L292.0 18.8L296.5 20.6L305.0 21.9L309.5 24.3L314.0 24.7L316.5 25.4L317.6 26.3L318.2 27.3L318.4 30.8L319.0 32.4L320.5 33.7L324.0 35.4L326.0 37.8L326.9 39.8L327.0 41.8L326.5 42.8L323.1 46.3L321.7 48.3L321.2 53.3L319.9 60.3L317.1 63.8L312.0 68.0L310.5 68.8L307.0 69.6L305.6 70.8L305.2 72.3L306.1 74.3L306.3 75.8L305.6 77.8L304.0 80.3L304.4 81.3L305.0 81.8L309.5 83.5L311.7 86.8L313.5 87.7L317.2 87.3L322.5 84.9L324.5 84.6L332.0 86.0L333.5 86.8L334.6 88.8L336.2 95.3L334.9 99.3L334.4 102.8L333.2 106.8L332.1 108.3L330.0 108.4L327.0 106.1L325.5 105.5L316.0 105.7L313.0 104.1L311.5 103.8L310.5 104.0L309.3 104.8L306.8 108.3L305.0 108.9L303.5 108.7L299.5 107.3L295.0 108.7L277.5 107.5L276.0 107.8L273.0 109.5L271.0 109.8L258.5 109.2L253.5 107.8L246.5 107.1L242.5 108.0L238.0 108.5L233.5 109.8L229.0 109.4L221.5 110.4L215.0 109.7L210.0 110.5L205.5 110.2L202.0 111.4ZM247.0 66.4L246.2 65.8L246.1 65.3L246.5 64.5L247.0 64.5L247.4 65.3L247.0 66.4ZM301.6 72.8L301.7 72.3L301.5 72.3L301.6 72.8ZM248.4 90.8L249.7 89.3L249.3 88.3L248.0 88.3L247.1 89.3L247.0 90.3L247.3 90.8L248.4 90.8ZM317.5 112.5L316.0 112.4L314.3 111.3L313.8 109.8L314.5 108.7L315.5 108.4L317.0 109.7L317.9 111.3L318.0 111.8L317.5 112.5Z" fill="#fdc676" fill-rule="evenodd"/>
<path d="M287.0 74.4L285.0 74.5L282.5 73.5L281.3 72.3L280.6 70.3L280.6 68.8L281.0 67.9L284.4 65.3L285.2 63.8L285.0 62.3L283.9 59.3L284.1 54.8L283.5 53.6L282.0 53.2L271.0 53.7L269.0 52.9L267.0 50.7L265.5 49.9L261.0 50.6L257.5 50.0L254.0 50.9L251.5 50.9L249.5 50.5L246.5 49.0L242.6 48.3L241.4 46.8L241.5 43.3L240.5 40.8L239.0 39.3L235.0 36.9L233.5 35.1L232.4 31.3L232.7 28.8L235.5 27.1L238.5 24.6L240.5 23.9L242.0 23.9L245.0 25.1L250.5 26.1L257.0 26.1L260.5 27.8L262.0 28.0L264.0 27.3L268.2 24.3L271.0 23.3L291.0 20.9L292.5 21.1L295.0 22.3L299.5 22.5L303.5 23.4L305.2 24.3L308.5 27.3L313.5 28.6L315.1 33.3L318.8 38.3L320.1 42.3L318.5 50.3L316.9 54.3L317.6 57.8L317.2 59.3L312.2 64.3L310.5 65.2L303.0 66.2L297.5 67.7L294.0 66.8L292.5 67.3L291.5 68.3L290.6 71.3L289.7 72.8L288.5 73.8L287.0 74.4ZM267.5 74.0L266.5 73.8L266.2 72.8L266.9 71.8L267.5 71.7L268.0 72.8L267.5 74.0ZM257.0 76.4L255.5 76.3L253.5 75.4L250.4 74.8L250.1 74.3L251.5 73.5L254.5 74.1L257.0 73.3L258.0 73.3L258.5 73.8L258.6 74.8L258.0 75.7L257.0 76.4ZM271.5 78.9L270.5 79.1L269.9 78.8L269.5 77.8L269.8 76.8L271.0 76.2L273.2 76.3L273.6 76.8L273.2 77.8L271.5 78.9ZM213.5 107.8L209.0 108.1L205.1 106.8L203.8 105.8L203.9 104.8L205.0 102.3L204.9 99.8L203.5 99.1L200.5 99.1L200.5 81.7L203.0 82.2L204.5 83.6L205.5 84.1L207.5 83.5L212.0 80.5L213.5 79.9L217.5 81.9L223.0 82.0L224.0 82.6L224.3 83.3L223.2 86.3L223.2 87.3L223.7 88.3L225.1 89.3L230.0 91.4L234.0 90.9L238.0 94.3L239.5 94.4L242.0 93.4L243.0 93.4L247.0 95.3L251.0 93.6L254.0 92.9L254.8 91.8L255.9 88.8L257.5 87.0L259.0 86.3L262.5 86.1L264.0 85.7L265.5 84.8L268.0 82.1L269.0 81.6L270.5 82.0L272.6 83.8L275.5 87.6L276.5 89.4L277.6 90.3L279.0 90.1L282.0 87.7L284.0 87.1L286.0 87.5L289.0 89.8L292.0 89.2L294.5 87.8L295.6 86.8L295.7 85.3L294.4 83.3L294.1 82.3L296.0 81.6L297.0 81.8L298.2 82.8L299.3 86.3L300.7 88.8L301.4 92.3L302.0 93.2L303.0 93.7L304.9 93.3L307.5 90.7L308.5 90.6L311.0 91.8L312.5 91.9L316.0 90.6L321.0 89.6L324.0 87.8L325.5 87.3L327.5 87.6L329.7 88.8L331.0 90.2L331.6 91.8L331.6 93.3L331.0 94.8L329.0 96.7L327.0 97.8L322.5 97.9L321.5 98.3L318.5 100.6L316.5 101.1L314.5 100.6L310.5 98.1L308.0 98.1L305.9 99.3L303.0 103.5L295.5 105.0L294.0 105.0L293.0 104.5L290.0 101.7L289.5 102.0L289.2 103.8L288.6 104.8L287.0 105.4L283.0 104.5L278.5 104.3L274.0 102.0L273.0 102.8L271.0 105.6L269.5 106.2L267.0 106.5L258.5 106.4L256.5 105.7L253.5 103.6L249.5 104.3L244.5 103.3L243.0 103.7L239.5 105.8L234.5 107.3L229.5 106.5L222.5 106.1L216.5 107.5L213.5 107.8ZM292.5 81.8L292.0 82.1L291.4 81.8L292.0 81.2L292.5 81.8ZM278.5 83.3L277.0 83.6L276.7 82.8L276.9 82.3L278.0 81.6L279.4 81.8L279.6 82.3L278.5 83.3Z" fill="#fca85e" fill-rule="evenodd"/>
<path d="M305.0 59.8L302.0 59.4L298.0 57.0L293.0 56.3L290.0 54.4L286.5 51.3L285.0 50.5L276.0 49.7L273.0 47.3L268.5 45.8L265.4 42.3L263.5 41.1L262.0 41.4L259.5 44.1L258.5 44.6L253.0 43.7L252.5 43.1L252.2 40.3L251.5 38.3L248.2 34.3L248.4 32.3L249.3 30.8L251.0 29.6L253.5 28.7L255.5 28.6L257.0 29.3L259.5 31.8L263.5 32.7L265.5 35.1L267.0 35.4L268.2 34.8L269.0 33.3L269.1 31.8L268.4 28.8L268.8 27.3L269.5 26.3L271.0 25.6L275.5 25.1L280.5 26.1L282.0 26.1L286.5 23.7L289.5 23.1L294.0 24.3L299.5 24.0L303.0 25.0L304.5 26.0L307.0 28.6L311.5 31.9L315.5 38.3L316.2 41.3L316.5 47.8L316.0 49.8L314.5 51.2L307.8 53.8L306.2 54.8L305.8 55.8L305.9 58.8L305.0 59.8ZM217.5 88.9L216.5 88.7L215.4 87.3L215.0 86.3L215.5 85.3L217.0 85.3L218.0 86.3L218.2 87.8L217.5 88.9ZM201.0 94.3L200.5 94.4L200.5 89.4L201.6 90.3L202.4 92.3L202.0 93.7L201.0 94.3ZM296.0 95.0L294.0 94.9L293.0 93.8L293.9 92.3L295.5 91.6L296.7 91.8L297.3 92.8L297.0 94.2L296.0 95.0ZM265.5 94.3L265.2 93.8L265.5 93.4L266.0 93.5L266.0 94.0L265.5 94.3ZM216.0 105.8L213.0 105.9L210.2 105.3L208.9 104.3L208.6 102.8L209.0 101.0L210.0 99.6L214.5 96.8L216.0 96.3L217.5 96.2L222.0 97.1L223.5 96.4L225.5 94.4L226.5 94.1L227.5 94.1L229.7 95.3L233.0 98.5L235.5 98.5L237.0 99.2L238.1 100.8L238.1 102.3L237.7 103.3L236.6 104.3L235.2 104.8L233.5 104.9L230.5 104.2L227.0 104.2L222.5 103.1L216.0 105.8Z" fill="#f67f4b" fill-rule="evenodd"/>
<path d="M306.0 50.8L303.5 50.5L295.5 48.2L294.5 48.7L292.5 50.6L290.5 50.8L289.0 50.1L286.0 47.8L281.9 45.8L278.0 40.6L277.0 40.4L275.0 42.1L273.5 42.3L269.7 40.8L269.0 40.1L268.9 39.3L270.8 36.8L272.5 33.6L274.0 32.0L279.5 29.5L283.5 28.5L287.5 25.6L289.5 25.4L295.0 26.7L299.0 26.2L301.5 26.5L303.5 27.6L309.5 33.3L312.3 37.8L312.9 39.3L312.7 41.3L311.4 44.3L310.5 47.8L308.5 50.0L306.0 50.8ZM255.5 36.5L254.0 36.3L252.2 34.3L252.0 32.8L252.7 31.8L253.5 31.3L255.0 31.5L256.1 32.8L256.5 35.3L255.5 36.5ZM216.0 103.4L214.1 103.3L213.6 102.8L213.6 101.8L215.5 100.5L217.5 100.5L218.0 101.3L217.9 101.8L217.2 102.8L216.0 103.4Z" fill="#e7573a" fill-rule="evenodd"/>
<path d="M299.0 43.4L292.5 43.2L289.0 43.8L287.5 43.5L286.0 42.7L283.5 40.6L282.7 39.3L282.7 37.8L285.9 35.3L287.5 31.8L288.5 30.9L292.5 30.6L296.0 30.9L300.5 30.0L302.0 30.1L303.5 31.0L304.6 32.3L305.3 33.8L305.2 35.3L303.4 39.3L300.5 42.6L299.0 43.4Z" fill="#d42f28" fill-rule="evenodd"/>
<path d="M210.0 142.9L208.5 142.9L204.5 141.8L200.5 142.0L200.5 132.2L202.5 131.6L204.7 129.3L208.5 127.8L210.5 127.4L212.5 127.9L215.3 129.3L217.4 130.8L217.7 131.8L214.5 139.3L212.5 141.4L210.0 142.9ZM369.0 141.4L367.5 140.7L364.4 137.8L363.4 136.3L362.9 134.3L363.2 132.8L364.4 131.3L369.0 128.2L369.0 141.4ZM249.5 134.4L248.0 134.0L244.5 132.3L243.9 131.3L244.3 130.3L245.5 129.4L247.0 129.1L248.5 129.3L249.5 129.8L250.5 131.0L250.9 132.3L250.5 133.8L249.5 134.4ZM211.0 149.3L208.3 149.3L209.0 148.0L210.0 147.5L211.1 148.3L211.4 149.3L211.0 149.3Z" fill="#e4f4ec" fill-rule="evenodd"/>
<path d="M210.5 137.9L209.5 138.1L208.5 137.8L208.2 137.3L208.2 136.3L210.1 131.8L211.0 131.2L212.5 131.2L213.6 131.8L213.8 133.3L212.0 136.7L210.5 137.9ZM369.0 135.5L368.0 134.8L367.8 134.3L368.2 133.3L369.0 132.9L369.0 135.5ZM201.0 138.3L200.5 138.5L200.5 137.0L201.3 137.8L201.0 138.3Z" fill="#cae7f1" fill-rule="evenodd"/>
<path d="M200.5 20.3C202.4 20.3 207.8 20.4 212 20.5C216.2 20.6 223.7 21.1 226 21.2" fill="none" stroke="#5a8ce4" stroke-width="0.5" stroke-linejoin="round"/>
<path d="M200 55.4C202.2 54.9 208.7 53.4 213 52.1C217.3 50.8 221.5 49.3 226 47.6C230.5 45.9 235.2 43.9 240 42C244.8 40.1 250.7 37.8 255 36C259.3 34.2 262.4 32.6 266 31.5C269.6 30.4 272 29.2 276.8 29.5C281.6 29.8 289.6 31.7 295 33.2C300.4 34.7 305.6 36.8 309.5 38.6C313.4 40.4 315.9 42.2 318.6 44C321.3 45.8 324.7 48.6 325.9 49.5" fill="none" stroke="#5ad8c8" stroke-width="0.5" stroke-linejoin="round"/>
<path d="M200 72.3C202.2 72 208.7 71.3 213 70.3C217.3 69.3 221.7 68 226 66.4C230.3 64.8 234.7 62.7 239 60.6C243.3 58.5 248.5 55.6 252 54.1C255.5 52.6 256.5 52.3 260 51.5C263.5 50.7 267.8 50.3 273 49.5C278.2 48.7 285.9 47.1 291.4 46.8C296.9 46.5 303.6 47.6 306 47.7" fill="none" stroke="#5ad8c8" stroke-width="0.5" stroke-linejoin="round"/>
<path d="M200 84C202.2 84 208.7 84.3 213 84C217.3 83.7 221.7 83.1 226 82C230.3 80.9 234.7 79.3 239 77.5C243.3 75.7 248.5 72.5 252 71C255.5 69.5 256.5 69.9 260 68.4C263.5 67 267.8 64.2 273 62.3C278.2 60.4 285.3 58.2 291.4 56.8C297.5 55.4 304.1 54.7 309.5 54.1C314.9 53.5 321.6 53.4 324 53.2" fill="none" stroke="#b4e296" stroke-width="0.5" stroke-linejoin="round"/>
<path d="M200 106.4C201.9 105.9 206.8 104.6 211.7 103.5C216.6 102.4 223.3 101 229.2 99.9C235 98.8 242.5 97.6 246.8 97C251.1 96.4 249.3 97.5 255 96.4C260.7 95.3 272.3 92.9 281 90.6C289.7 88.3 299.9 85.4 307 82.8C314.1 80.2 321 76.3 323.8 75" fill="none" stroke="#b4e296" stroke-width="0.5" stroke-linejoin="round"/>
<path d="M200 113.4C202.9 113 211.7 111.8 217.5 111C223.3 110.2 228.8 109.6 235 108.7C241.2 107.8 247.3 106.8 255 105.5C262.7 104.2 272.3 102.8 281 101C289.7 99.2 299.2 96.5 307 94.5C314.8 92.5 323.2 91 327.7 89.3C332.2 87.5 332.8 84.9 333.8 84" fill="none" stroke="#5ad8c8" stroke-width="0.5" stroke-linejoin="round"/>
<path d="M200 119.8C202.9 119.4 211.7 118.2 217.5 117.5C223.3 116.8 228.8 116.5 235 115.7C241.2 114.9 247.3 113.8 255 112.7C262.7 111.7 272.3 111 281 109.4C289.7 107.8 299.2 105.1 307 103C314.8 100.9 322.9 99.2 327.7 97C332.5 94.8 334.6 91.2 336 90" fill="none" stroke="#30bce6" stroke-width="0.5" stroke-linejoin="round"/>
<path d="M200 126.3C202.9 126.1 211.7 125.5 217.5 125.1C223.3 124.7 228.8 124.4 235 123.9C241.2 123.5 247.3 123.4 255 122.4C262.7 121.4 272.3 119.3 281 117.9C289.7 116.5 298 114.9 307 114C316 113.1 327.5 113.3 335 112.7C342.5 112.1 348.7 110.1 352 110.5C355.3 110.9 354.2 113.1 355 115C355.8 116.9 356.7 120.8 357 122" fill="none" stroke="#5a8ce4" stroke-width="0.5" stroke-linejoin="round"/>
<path d="M331 34C332.8 35.1 340.3 38.5 341.6 40.4C342.9 42.3 337.3 44.1 339 45.6C340.7 47.1 346.8 49.1 352 49.5C357.2 49.9 367 48.4 370 48.2" fill="none" stroke="#5a8ce4" stroke-width="0.5" stroke-linejoin="round"/>
<path d="M370 61C367.8 61.5 360 62 357 63.8C354 65.6 354.6 68.6 352 71.6C349.4 74.6 342.5 78.5 341.6 82C340.7 85.5 345.5 89.3 346.8 92.3C348.1 95.3 348.5 97.4 349.4 100C350.3 102.6 351.6 106.7 352 108" fill="none" stroke="#5a8ce4" stroke-width="0.5" stroke-linejoin="round"/>
<path d="M341.6 56C342.5 56.8 346.4 58.8 346.8 61C347.2 63.2 346.2 66.4 344 69C341.8 71.6 336.8 74.6 333.8 76.8C330.8 79 327.3 81.1 326 82" fill="none" stroke="#30bce6" stroke-width="0.5" stroke-linejoin="round"/>
<path d="M324 33.2C325.2 33.1 327.9 32.6 331.4 32.3C334.9 32 340.6 31.7 345 31.4C349.4 31.1 353.8 30.7 358 30.5C362.2 30.3 368 30.1 370 30" fill="none" stroke="#5a8ce4" stroke-width="0.5" stroke-linejoin="round"/>
<path d="M224 26.7h.7v.7h-.7zM224 23.9h.7v.7h-.7zM226.8 32.3h.7v.7h-.7zM226.8 29.5h.7v.7h-.7zM226.8 26.7h.7v.7h-.7zM226.8 23.9h.7v.7h-.7zM229.6 35.1h.7v.7h-.7zM229.6 32.3h.7v.7h-.7zM229.6 29.5h.7v.7h-.7zM229.6 26.7h.7v.7h-.7zM229.6 23.9h.7v.7h-.7zM232.4 35.1h.7v.7h-.7zM232.4 32.3h.7v.7h-.7zM232.4 29.5h.7v.7h-.7zM232.4 26.7h.7v.7h-.7zM232.4 23.9h.7v.7h-.7zM235.3 38h.7v.7h-.7zM235.3 35.1h.7v.7h-.7zM235.3 32.3h.7v.7h-.7zM235.3 29.5h.7v.7h-.7zM235.3 26.7h.7v.7h-.7zM235.3 23.9h.7v.7h-.7zM238.1 38h.7v.7h-.7zM238.1 35.1h.7v.7h-.7zM238.1 32.3h.7v.7h-.7zM238.1 29.5h.7v.7h-.7zM238.1 26.7h.7v.7h-.7zM238.1 23.9h.7v.7h-.7zM240.9 40.8h.7v.7h-.7zM240.9 38h.7v.7h-.7zM240.9 35.1h.7v.7h-.7zM240.9 32.3h.7v.7h-.7zM240.9 29.5h.7v.7h-.7zM240.9 26.7h.7v.7h-.7zM240.9 23.9h.7v.7h-.7zM243.7 40.8h.7v.7h-.7zM243.7 38h.7v.7h-.7zM243.7 35.1h.7v.7h-.7zM243.7 32.3h.7v.7h-.7zM243.7 29.5h.7v.7h-.7zM243.7 26.7h.7v.7h-.7zM243.7 23.9h.7v.7h-.7zM246.5 40.8h.7v.7h-.7zM246.5 38h.7v.7h-.7zM246.5 35.1h.7v.7h-.7zM246.5 32.3h.7v.7h-.7zM246.5 29.5h.7v.7h-.7zM246.5 26.7h.7v.7h-.7zM246.5 23.9h.7v.7h-.7zM249.3 40.8h.7v.7h-.7zM249.3 38h.7v.7h-.7zM249.3 35.1h.7v.7h-.7zM249.3 32.3h.7v.7h-.7zM249.3 29.5h.7v.7h-.7zM249.3 26.7h.7v.7h-.7zM249.3 23.9h.7v.7h-.7zM252.1 43.6h.7v.7h-.7zM252.1 40.8h.7v.7h-.7zM252.1 38h.7v.7h-.7zM252.1 35.1h.7v.7h-.7zM252.1 32.3h.7v.7h-.7zM252.1 29.5h.7v.7h-.7zM252.1 26.7h.7v.7h-.7zM252.1 23.9h.7v.7h-.7zM254.9 43.6h.7v.7h-.7zM254.9 40.8h.7v.7h-.7zM254.9 38h.7v.7h-.7zM254.9 35.1h.7v.7h-.7zM254.9 32.3h.7v.7h-.7zM254.9 29.5h.7v.7h-.7zM254.9 26.7h.7v.7h-.7zM254.9 23.9h.7v.7h-.7zM257.7 43.6h.7v.7h-.7zM257.7 40.8h.7v.7h-.7zM257.7 38h.7v.7h-.7zM257.7 35.1h.7v.7h-.7zM257.7 32.3h.7v.7h-.7zM257.7 29.5h.7v.7h-.7zM257.7 26.7h.7v.7h-.7zM257.7 23.9h.7v.7h-.7zM260.5 43.6h.7v.7h-.7zM260.5 40.8h.7v.7h-.7zM260.5 38h.7v.7h-.7zM260.5 35.1h.7v.7h-.7zM260.5 32.3h.7v.7h-.7zM260.5 29.5h.7v.7h-.7zM260.5 26.7h.7v.7h-.7zM260.5 23.9h.7v.7h-.7zM263.3 46.4h.7v.7h-.7zM263.3 43.6h.7v.7h-.7zM263.3 40.8h.7v.7h-.7zM263.3 38h.7v.7h-.7zM263.3 35.1h.7v.7h-.7zM263.3 32.3h.7v.7h-.7zM263.3 29.5h.7v.7h-.7zM263.3 26.7h.7v.7h-.7zM263.3 23.9h.7v.7h-.7zM266.1 46.4h.7v.7h-.7zM266.1 43.6h.7v.7h-.7zM266.1 40.8h.7v.7h-.7zM266.1 38h.7v.7h-.7zM266.1 35.1h.7v.7h-.7zM266.1 32.3h.7v.7h-.7zM266.1 29.5h.7v.7h-.7zM266.1 26.7h.7v.7h-.7zM266.1 23.9h.7v.7h-.7zM269 46.4h.7v.7h-.7zM269 43.6h.7v.7h-.7zM269 40.8h.7v.7h-.7zM269 38h.7v.7h-.7zM269 35.1h.7v.7h-.7zM269 32.3h.7v.7h-.7zM269 29.5h.7v.7h-.7zM269 26.7h.7v.7h-.7zM269 23.9h.7v.7h-.7zM271.8 49.2h.7v.7h-.7zM271.8 46.4h.7v.7h-.7zM271.8 43.6h.7v.7h-.7zM271.8 40.8h.7v.7h-.7zM271.8 38h.7v.7h-.7zM271.8 35.1h.7v.7h-.7zM271.8 32.3h.7v.7h-.7zM271.8 29.5h.7v.7h-.7zM271.8 26.7h.7v.7h-.7zM271.8 23.9h.7v.7h-.7zM274.6 49.2h.7v.7h-.7zM274.6 46.4h.7v.7h-.7zM274.6 43.6h.7v.7h-.7zM274.6 40.8h.7v.7h-.7zM274.6 38h.7v.7h-.7zM274.6 35.1h.7v.7h-.7zM274.6 32.3h.7v.7h-.7zM274.6 29.5h.7v.7h-.7zM274.6 26.7h.7v.7h-.7zM274.6 23.9h.7v.7h-.7zM277.4 52h.7v.7h-.7zM277.4 49.2h.7v.7h-.7zM277.4 46.4h.7v.7h-.7zM277.4 43.6h.7v.7h-.7zM277.4 40.8h.7v.7h-.7zM277.4 38h.7v.7h-.7zM277.4 35.1h.7v.7h-.7zM277.4 32.3h.7v.7h-.7zM277.4 29.5h.7v.7h-.7zM277.4 26.7h.7v.7h-.7zM277.4 23.9h.7v.7h-.7zM280.2 52h.7v.7h-.7zM280.2 49.2h.7v.7h-.7zM280.2 46.4h.7v.7h-.7zM280.2 43.6h.7v.7h-.7zM280.2 40.8h.7v.7h-.7zM280.2 38h.7v.7h-.7zM280.2 35.1h.7v.7h-.7zM280.2 32.3h.7v.7h-.7zM280.2 29.5h.7v.7h-.7zM280.2 26.7h.7v.7h-.7zM283 54.8h.7v.7h-.7zM283 52h.7v.7h-.7zM283 49.2h.7v.7h-.7zM283 46.4h.7v.7h-.7zM283 43.6h.7v.7h-.7zM283 40.8h.7v.7h-.7zM283 38h.7v.7h-.7zM283 35.1h.7v.7h-.7zM283 32.3h.7v.7h-.7zM283 29.5h.7v.7h-.7zM283 26.7h.7v.7h-.7zM285.8 54.8h.7v.7h-.7zM285.8 52h.7v.7h-.7zM285.8 49.2h.7v.7h-.7zM285.8 46.4h.7v.7h-.7zM285.8 43.6h.7v.7h-.7zM285.8 40.8h.7v.7h-.7zM285.8 38h.7v.7h-.7zM285.8 35.1h.7v.7h-.7zM285.8 32.3h.7v.7h-.7zM285.8 29.5h.7v.7h-.7zM285.8 26.7h.7v.7h-.7zM288.6 54.8h.7v.7h-.7zM288.6 52h.7v.7h-.7zM288.6 49.2h.7v.7h-.7zM288.6 46.4h.7v.7h-.7zM288.6 43.6h.7v.7h-.7zM288.6 40.8h.7v.7h-.7zM288.6 38h.7v.7h-.7zM288.6 35.1h.7v.7h-.7zM288.6 32.3h.7v.7h-.7zM288.6 29.5h.7v.7h-.7zM288.6 26.7h.7v.7h-.7zM291.4 54.8h.7v.7h-.7zM291.4 52h.7v.7h-.7zM291.4 49.2h.7v.7h-.7zM291.4 46.4h.7v.7h-.7zM291.4 43.6h.7v.7h-.7zM291.4 40.8h.7v.7h-.7zM291.4 38h.7v.7h-.7zM291.4 35.1h.7v.7h-.7zM291.4 32.3h.7v.7h-.7zM291.4 29.5h.7v.7h-.7zM291.4 26.7h.7v.7h-.7zM294.2 54.8h.7v.7h-.7zM294.2 52h.7v.7h-.7zM294.2 49.2h.7v.7h-.7zM294.2 46.4h.7v.7h-.7zM294.2 43.6h.7v.7h-.7zM294.2 40.8h.7v.7h-.7zM294.2 38h.7v.7h-.7zM294.2 35.1h.7v.7h-.7zM294.2 32.3h.7v.7h-.7zM294.2 29.5h.7v.7h-.7zM294.2 26.7h.7v.7h-.7zM297 57.6h.7v.7h-.7zM297 54.8h.7v.7h-.7zM297 52h.7v.7h-.7zM297 49.2h.7v.7h-.7zM297 46.4h.7v.7h-.7zM297 43.6h.7v.7h-.7zM297 40.8h.7v.7h-.7zM297 38h.7v.7h-.7zM297 35.1h.7v.7h-.7zM297 32.3h.7v.7h-.7zM297 29.5h.7v.7h-.7zM297 26.7h.7v.7h-.7zM299.8 57.6h.7v.7h-.7zM299.8 54.8h.7v.7h-.7zM299.8 52h.7v.7h-.7zM299.8 49.2h.7v.7h-.7zM299.8 46.4h.7v.7h-.7zM299.8 43.6h.7v.7h-.7zM299.8 40.8h.7v.7h-.7zM299.8 38h.7v.7h-.7zM299.8 35.1h.7v.7h-.7zM299.8 32.3h.7v.7h-.7zM299.8 29.5h.7v.7h-.7zM302.7 57.6h.7v.7h-.7zM302.7 54.8h.7v.7h-.7zM302.7 52h.7v.7h-.7zM302.7 49.2h.7v.7h-.7zM302.7 46.4h.7v.7h-.7zM302.7 43.6h.7v.7h-.7zM302.7 40.8h.7v.7h-.7zM302.7 38h.7v.7h-.7zM302.7 35.1h.7v.7h-.7zM302.7 32.3h.7v.7h-.7zM305.5 57.6h.7v.7h-.7zM305.5 54.8h.7v.7h-.7zM305.5 52h.7v.7h-.7zM305.5 49.2h.7v.7h-.7zM305.5 46.4h.7v.7h-.7zM305.5 43.6h.7v.7h-.7zM305.5 40.8h.7v.7h-.7zM305.5 38h.7v.7h-.7zM305.5 35.1h.7v.7h-.7zM305.5 32.3h.7v.7h-.7zM308.3 57.6h.7v.7h-.7zM308.3 54.8h.7v.7h-.7zM308.3 52h.7v.7h-.7zM308.3 49.2h.7v.7h-.7zM308.3 46.4h.7v.7h-.7zM308.3 43.6h.7v.7h-.7zM308.3 40.8h.7v.7h-.7zM308.3 38h.7v.7h-.7zM308.3 35.1h.7v.7h-.7zM311.1 57.6h.7v.7h-.7zM311.1 54.8h.7v.7h-.7zM311.1 52h.7v.7h-.7zM311.1 49.2h.7v.7h-.7zM311.1 46.4h.7v.7h-.7zM311.1 43.6h.7v.7h-.7zM311.1 40.8h.7v.7h-.7zM311.1 38h.7v.7h-.7zM313.9 57.6h.7v.7h-.7zM313.9 54.8h.7v.7h-.7zM313.9 52h.7v.7h-.7zM313.9 49.2h.7v.7h-.7zM313.9 46.4h.7v.7h-.7zM313.9 43.6h.7v.7h-.7zM313.9 40.8h.7v.7h-.7zM316.7 57.6h.7v.7h-.7zM316.7 54.8h.7v.7h-.7zM316.7 52h.7v.7h-.7zM316.7 49.2h.7v.7h-.7zM316.7 46.4h.7v.7h-.7z" fill="#333" opacity="0.8"/>
<polyline points="232.8,8.2 230,9.9 225.2,10.2 223.5,12.7 218.8,13.9 215.1,15.3 211.7,17.2 213.4,19.5 215.7,20.6 217.9,20.9 221.6,22.9 222.7,25.1 224.1,26.5 227.2,25.9 230,26.5 232.5,25.9 235.6,26.8 236.4,28.8 234.2,30.7 232,32.4 228.6,33.8 224.7,34.9 221.3,36.3 218.5,37.5 221.3,36.9 224.1,35.8 227.2,35.2 230,34.4 233.1,33.5 236.2,32.1 238.7,30.7 241.5,29.3 244.9,27.3 247.4,25.9 248.2,24.3 250.5,22.3 252.2,20.9 255.8,19.5 254.4,21.2 252.7,22 252.2,24 253.9,25.1 256.7,24 259.5,22.9 261.4,21.2 263.7,20.3 266.8,20.3 269.3,21.4 272.4,22.9 276.3,22.9 280.5,23.1 283.9,23.7 286.4,24.5 289.5,25.7 292.6,27.1 295.1,27.9 297.4,29.9 299.6,32.4 302.2,34.7 305.5,36.6 309.2,38 312,39.1 313.4,41.4 315.6,43.1 318.4,45.3 319.6,47.3 318.7,49.3 321.3,50.7 324.1,52.1 326.3,53.8 328.6,54.9 327.7,56 329.1,58.8 329.7,61.6 329.7,65 329.4,67.8 328.6,70.6 329.1,73.4 329.1,76.2 329.7,78.2 330.2,80.5 330.8,82.1 332.5,84.1 333.9,85.2 334.2,86.9 335.6,88.6 337,90.9 338.7,92.5 339.2,94.2 342,94.8 344.8,95.9 346,96.8 347.7,97.9 348.8,99.6 349.3,100.7 350.5,102.4 351.6,104.3 352.7,106.3 354.1,108.3 356.1,110.5 357.5,112.8 357.2,113.9 359.5,115.9 361.7,117.5 362.8,119.5 363.1,121.8 365.1,123.2 367.3,125.1 369,127.1 370.7,126.8" fill="none" stroke="#333" stroke-width="0.45" stroke-linejoin="round"/>
<polyline points="370.7,126.8 369.8,124.6 368.2,123.2 367.3,121.5 365.9,119 364.5,117 363.1,115 361.4,113.1 360.3,111.1 358.9,109.1 357.2,107.1 356.1,104.9 355.5,102.4 357.2,102.9 359.2,103.5 360.9,104.6 361.7,106.6 362.8,108.6 364.5,110.5 366.2,112.8 367.6,114.2 369.3,115.6 370.7,117.3 371.5,119.5" fill="none" stroke="#333" stroke-width="0.45" stroke-linejoin="round"/>
<polyline points="352.1,99.8 354.4,101 356.6,104.3 358.9,106 360.6,108.3 362.3,111.1 363.9,113.9 365.6,116.1 367.9,118.4 369.6,120.6" fill="none" stroke="#333" stroke-width="0.45" stroke-linejoin="round"/>
<polyline points="204.4,8.2 206.7,9.1 210.6,9.9 214,10.2 217.9,9.9 221.8,9.6 224.1,8.2" fill="none" stroke="#333" stroke-width="0.45" stroke-linejoin="round"/>
<polyline points="347.1,18.9 350.7,19.8 353.6,19.8 356.6,18.4 360,17.5 362.5,16.9 365.6,16.1 368.4,15.5 369,14.7 365.3,15.5 362,16.1 359.2,16.4 356.4,16.1 355,14.7 353.3,15.8 349.9,17.8 347.1,18.9" fill="none" stroke="#333" stroke-width="0.45" stroke-linejoin="round"/>
<polyline points="330.8,15.5 331.6,16.7 333.6,17.5 336.7,17.5" fill="none" stroke="#333" stroke-width="0.45" stroke-linejoin="round"/>
<polyline points="280.5,23.1 281,22.6 281.4,22.2 281.6,23 281.8,23.7 282.2,23.8 282.6,23.5 282.9,23.3 283.3,23.3 283.5,24.1 283.9,23.8 284.5,23.2 284.7,23.7 285.1,23.8 285.3,24.4 285.7,24.3 286.2,23.9 286.5,24.3 286.7,24.8 287.2,24.6 287.4,25 287.5,26 288,25.6 288.5,25.4 288.5,26.4 288.8,26.6 289.3,26.2 289.5,26.4 289.7,27 290.2,26.6 290.9,25.9 291.2,26.1 291.2,26.9 291.6,26.8 292.2,26.4 292.4,26.8 292.7,27 293.2,26.6 293.4,27 293.6,27.8 294,27.7 294.5,27.4 295,27.3 295.1,28 294.9,28.8 295.3,28.9 295.3,29.5 295.8,29.4 296.7,28.9 296.8,29.4 297.3,29.4 298,29.2 298.1,29.7 298.2,30.1 298.5,30.3 298.2,31 298.3,31.3 299.1,31.1 298.6,32 298.7,32.3 299.4,32.1 299.8,32.2 300,32.5 300,33 300.5,33 300.5,33.5 300.8,33.6 301.3,33.6 301.5,33.9 301.6,34.2 302.1,34.3 302.6,34.1 302.6,34.7 302.9,34.8 303.5,34.5 304,34.3 303.7,35.5 303.9,36 304.6,35.4 304.7,35.9 304.7,36.7 305.3,36.4 305.5,36.6 305.8,37 306.5,36.1 306.5,37.1 306.6,37.9 307,37.9 307.4,37.8 308.1,36.8 308.7,36.3 308.6,37.7 308.5,38.8 309.2,38 309.9,37.3 310.2,37.5 310.2,38.6 310.5,38.8 311,38.6 311.3,39 311.5,39.4 311.9,39.3 312.4,39.3 312.5,39.7 312.5,40.2 312.3,40.8 312.4,41.1 313.4,40.9 313.7,41.1 313.3,42.2 313.9,41.9 314.7,41.4 315.2,41.4 315.3,41.7 315,42.8 314.9,43.5 315.6,43.1 316.9,42 316.7,43 316.1,44.2 316.8,44 317,44.3 317,44.8 317.4,44.9 317.8,44.9 318.5,44.7 318.8,45 319,45.5 319,45.9 319,46.3 318.5,47 318.1,47.7 319.4,47.5 319.9,47.5 320.1,47.9 320.7,47.8 321.1,47.9 321.5,48.1 321.6,48.5 321.5,49 321.5,49.7 321.7,50.1 322.1,50.1 322.4,50.4 322.7,50.5 323.2,50.2 323.6,50 323.9,50.2 324,51.2 324.3,51.2 325,50.5 325.5,50.2 325.9,50.2 325.9,51 325.9,51.7 326.7,50.8 327.3,50.4 327.6,50.7 328.2,50.3 328,51.5 328,52.3 328.5,51.9 328.9,52 329.2,52.2 329.4,52.5 329.7,52.7 329.7,53.5 329.9,53.8 330.4,53.7 330.8,53.8 331.2,53.8 331.6,53.8 332.2,53.5" fill="none" stroke="#222" stroke-width="0.45" stroke-linejoin="round"/>
<polyline points="291.8,25.7 292.2,25.1 292.7,24.7 293,25 293.5,24.6 293.6,25.8 293.7,27.2 294,27.3 294.3,27 295.1,25.8 295.5,25.9 295.7,26.3 295.6,27.5 295.9,27.9 296.4,27.4 297.1,26.6 297.8,25.8 298,26.3 298.1,27 298.4,27.3 298.9,27.2 298.9,27.9 298.8,28.6 299.1,28.7 299.4,29 299.5,29.4 299.9,29.4 300.1,29.7 300.8,29.4 300.8,30 301.1,30.2 301.7,29.9 301.5,30.8 301.5,31.3 301.9,31.3 302.6,31 303,31 303.2,31.3 303.4,31.6 304.5,30.6 304.9,30.7 304.3,32.1 304.8,32 305.3,32 305.4,32.4 306,32.3 305.9,33 305.2,34.4 305.6,34.7 306.7,33.6 307,33.8 307.3,34 308,33.5 308,34.1 308.4,34.2 309.4,33.2 309.6,33.5 309.8,33.9 310,34 310.6,33.5 310.7,34.1 310.6,35.5 311,35.4 311.2,36.1 311,37.4 311.4,37.6 312.1,36.6 312.9,36.3 312.2,37.3 311.3,38.4 312.1,38.3 313.1,37.9 313.4,38.1 314,38.1 314.8,37.8 314.8,38.1 314.8,38.6 314.6,39.5 314.3,40.5 315,40.1 316,39.4 316.4,39.4 316.7,39.7 317,39.9 317.4,40.1 316.6,41.4 316.1,42.3 317.3,41.6 318.1,41.3 317.6,42.4 318.1,42.4 318.8,42.2 318.4,43.1 319,43 319.6,42.8 319.2,43.8 319.5,44 320.4,43.6 319.9,44.6 320,45 319.7,45.9 319.9,46.3 321.1,45.4 321.3,45.7 321.4,46.1 321.9,46.1 322.3,46.1 323.1,45.8 323.3,46 323.1,46.9 323.6,46.8 324.7,45.8 324.7,46.5 324.4,47.4 324.3,48.2 324.8,48 325.9,47.1 326.2,47.3 326.2,47.9 325.7,49.2 326.3,49 327.2,48.3 326.8,49.3 326.3,50.6 327.1,50.2 327.8,49.7 328.8,48.9 329,49.3 328.2,51 328.6,51 328.5,51.7 328.5,52.3 330,50.9 330.5,50.8 330,52.1 329.8,52.8 330.6,52.5 331.5,51.8" fill="none" stroke="#333" stroke-width="0.4" stroke-linejoin="round"/>
<polyline points="304.5,39 304.7,39.8 305.1,40 305.6,39.3 305.9,39.3 306.3,39.2 306.9,39.2 307.3,39.7 307.1,40.4 307.5,40.5 308,40.7 308.1,41.1 308.1,41.5 308.6,41.7 309,41.9 308.9,42.4 308.9,42.8 308.8,43.3 309.4,43.4 309.5,43.9 309.2,44.1 309.1,44.5 309,44.9 308.4,45.6 307.8,44.9 307.5,44.6 307.4,44.1 307.2,43.9 307,43.5 306.8,43.1 306.1,43.3 305.9,43 305.9,42.5 305.9,42.1 305.7,41.8 305.1,41.8 304.5,41.6 304.7,41.1 305.1,40.6 304.8,40.4 304.8,40 305,39.6 304.7,39.3" fill="none" stroke="#333" stroke-width="0.4" stroke-linejoin="round"/>
<polyline points="317.4,48.5 317.6,48.9 317.8,49.5 318,50.1 318.4,49.9 319.1,49.1 319.5,49.2 319.8,49.5 320.2,49.4 320.4,49.8 320.9,49.5 321.2,49.7 321.4,50.3 322,49.6 322.3,49.9 322.5,50.6 322.8,50.8 323.1,50.9 323.3,51.3 323.4,51.7 324.2,51.1 324.6,51.1 324.6,51.7 324.9,51.9 325.3,51.9 325.5,52.1 325.8,52.3 325.9,52.8 326.2,53.1 326.6,53.1 326.9,53.2 327.3,53.3 327.3,53.9 327.6,54.1 327.8,54.3 328.3,54.3 328.7,54.2 329,54.4 329.3,54.8 329.7,54.7 330.1,54.6 330.4,54.8 330.9,54.7 331,55.4 331.5,55.6 331.2,55.1 330.9,54.9 330.3,54.9 330.1,54.6 329.9,54.3 330,53.8 329.8,53.4 329.3,53.5 328.9,53.5 328.8,53.1 328.6,52.8 328.1,52.8 328.2,52.1 328.1,51.6 327.5,51.8 327.3,51.6 327.2,51 326.6,51.2 326.1,51.3 326,50.9 325.8,50.6 325.5,50.4 325.2,50.1 324.9,49.9 324.5,50 324,50.2 323.8,49.8 323.6,49.3 323.3,49.2 323,48.8 322.6,48.8 322.1,49.2 321.8,48.9 321.5,48.8 321.1,48.8 320.8,48.7 320.3,49.1 320.1,48.6 319.7,47.9 319.4,47.9 319,48.1 318.7,47.9 318.3,48.2 318.1,48.9 317.7,49 317.3,48.6" fill="none" stroke="#333" stroke-width="0.4" stroke-linejoin="round"/>
<polyline points="243.1,31 243.3,31.4 243.8,31.1 244.2,31.2 244.6,31.3 245.1,31.1 245.2,31.7 245.6,31.8 246,31.7 246.2,31.4 246.4,31 247,31.4 247.3,31.4 247.6,31.1 247.9,30.9 248.1,30.6 248.4,30.4 248.7,30.2 249,30.1 249.5,30.3 250,30.6 250.8,30.5 250.5,29.8 249.9,29.5 249.6,29.2 249.8,28.8 250,28.4 249.6,28.3 249.2,28.1 248.9,27.7 248.5,28 248.1,28.3 247.8,28.1 247.4,28.3 247.1,28.5 246.6,28.3 246.4,28.7 246.2,29.2 245.7,29.2 245.3,29 244.8,28.7 244.2,28.7 244,29.3 244,29.9 243.7,30.1 243.6,30.6 243.5,31.1" fill="none" stroke="#333" stroke-width="0.4" stroke-linejoin="round"/>
<polyline points="236.8,26.4 236.9,26.8 237.2,27.4 237.1,27.8 237.2,28.2 236.6,28.3 236,28.4 235.9,28.7 235.1,28.7 234.8,28.9 235.2,29.5 234.9,29.6 234.5,29.6 234.7,30.4 234.5,30.8 234.1,30.9 233.8,31 233.4,31 232.7,30.5 232.6,31 232.4,31.3 231.9,31.2 231.8,31.8 231.5,31.9 231.2,32.2 230.8,32.2 230.6,32.5 230.1,32.4 229.7,32.5 229.3,32.5 229.1,32.8 228.9,33.3 228.5,33.2 228.4,33.9 227.8,33.2 227.2,32.7 227.2,33.8 227,34.3 226.8,34.6 226.4,34.7 226,34.5 225.6,34.5 225.3,34.5 224.9,34.6 224.7,34.9 224.3,35.1 224,35.1 223.8,35.7 223.5,36 222.9,35.4 222.5,35.1 222.2,35.6 221.9,35.5" fill="none" stroke="#444" stroke-width="0.4" stroke-linejoin="round"/>
<polyline points="240.1,134.7 242.3,135.5 243.2,136.7 240.9,138.2 240,136.9 240.1,134.7" fill="none" stroke="#444" stroke-width="0.4" stroke-linejoin="round"/>
<polyline points="237.9,132.6 239.8,133 238.7,133.7 237.9,132.6" fill="none" stroke="#444" stroke-width="0.4" stroke-linejoin="round"/>
<polyline points="233.4,130.8 235,131.6 233.9,131.6 233.4,130.8" fill="none" stroke="#444" stroke-width="0.4" stroke-linejoin="round"/>
<polyline points="229.1,129.1 230.5,129.1 230,129.9 229.1,129.1" fill="none" stroke="#444" stroke-width="0.4" stroke-linejoin="round"/>
<polyline points="331.9,53.8 374.6,53.8" fill="none" stroke="#999" stroke-width="0.5" stroke-linejoin="round"/>
<polyline points="281.9,7.4 281.9,22" fill="none" stroke="#666" stroke-width="0.4" stroke-linejoin="round"/>
<polyline points="349.1,100 355.8,99.6 365.9,103.5 374.1,103.5" fill="none" stroke="#555" stroke-width="0.45" stroke-linejoin="round"/>
<polygon points="290.1,11.5 323.8,36.9 306.9,51.2 273.2,28.5" fill="none" stroke="#222" stroke-width="0.85"/>
<polygon points="323.5,53.2 340.9,53.2 340.9,70.6 323.5,70.6" fill="none" stroke="#222" stroke-width="0.85"/>
<polygon points="228.6,121.5 256.7,121.5 256.7,141.4 228.6,141.4" fill="none" stroke="#222" stroke-width="0.85"/>
</g>
<rect x="200.5" y="8.8" width="168.5" height="140.5" fill="none" stroke="#555" stroke-width="0.9"/>
<text x="198.2" y="137.2" font-size="5.6" font-family='"Liberation Serif", serif' text-anchor="end" fill="#333">20°N</text>
<text x="198.2" y="109" font-size="5.6" font-family='"Liberation Serif", serif' text-anchor="end" fill="#333">30°N</text>
<text x="198.2" y="81" font-size="5.6" font-family='"Liberation Serif", serif' text-anchor="end" fill="#333">40°N</text>
<text x="198.2" y="52.9" font-size="5.6" font-family='"Liberation Serif", serif' text-anchor="end" fill="#333">50°N</text>
<text x="198.2" y="24.8" font-size="5.6" font-family='"Liberation Serif", serif' text-anchor="end" fill="#333">60°N</text>
<text x="200.6" y="154.9" font-size="5.4" font-family='"Liberation Serif", serif' text-anchor="middle" fill="#333" letter-spacing="0.28">170°W</text>
<text x="228.7" y="154.9" font-size="5.4" font-family='"Liberation Serif", serif' text-anchor="middle" fill="#333" letter-spacing="0.28">160°W</text>
<text x="256.8" y="154.9" font-size="5.4" font-family='"Liberation Serif", serif' text-anchor="middle" fill="#333" letter-spacing="0.28">150°W</text>
<text x="284.9" y="154.9" font-size="5.4" font-family='"Liberation Serif", serif' text-anchor="middle" fill="#333" letter-spacing="0.28">140°W</text>
<text x="313" y="154.9" font-size="5.4" font-family='"Liberation Serif", serif' text-anchor="middle" fill="#333" letter-spacing="0.28">130°W</text>
<text x="341.1" y="154.9" font-size="5.4" font-family='"Liberation Serif", serif' text-anchor="middle" fill="#333" letter-spacing="0.28">120°W</text>
<text x="369.1" y="154.9" font-size="5.4" font-family='"Liberation Serif", serif' text-anchor="middle" fill="#333" letter-spacing="0.28">110°W</text>
<text x="284.8" y="7.9" font-size="6.65" font-family='"Liberation Serif", serif' text-anchor="middle" fill="#111">Historical trend of other Pacific AR frequency</text>
<clipPath id="clipd"><rect x="14.5" y="211.7" width="169" height="140.9"/></clipPath>
<g clip-path="url(#clipd)">
<path d="M42.7 211.7V352.6M70.8 211.7V352.6M99 211.7V352.6M127.2 211.7V352.6M155.3 211.7V352.6M14.5 338.5H183.5M14.5 310.3H183.5M14.5 282.1H183.5M14.5 254H183.5M14.5 225.8H183.5" stroke="#e4e4e4" stroke-width="0.35" fill="none"/>
<path d="M95.5 343.3L94.0 343.4L92.8 342.2L91.2 332.7L91.8 329.7L92.7 327.2L94.1 325.7L96.0 325.1L97.5 325.6L98.8 327.2L99.7 334.2L99.2 337.2L98.0 340.2L96.8 342.2L95.5 343.3Z" fill="#fee99a" fill-rule="evenodd"/>
<path d="M96.0 334.7L95.5 334.9L94.8 334.2L95.0 332.5L95.5 332.3L96.0 332.9L96.0 334.7Z" fill="#fdd680" fill-rule="evenodd"/>
<path d="M70.5 352.2L23.9 352.2L23.4 348.7L22.5 346.8L21.5 345.6L18.5 344.0L14.5 343.5L14.5 323.3L19.0 323.4L21.0 322.7L22.1 321.2L23.1 318.2L26.5 315.2L27.3 313.2L27.1 311.7L24.6 308.2L23.1 304.7L21.9 297.2L21.0 294.8L20.0 293.8L19.0 293.5L14.5 293.1L14.5 282.0L19.5 282.3L21.5 281.4L23.1 279.7L25.5 275.5L28.5 272.7L29.5 270.3L30.5 269.4L35.5 269.1L38.5 268.2L42.5 267.7L44.1 266.7L45.5 264.2L46.5 263.3L53.0 261.6L62.0 262.0L66.0 261.6L67.0 261.7L68.1 262.7L70.5 267.4L71.5 268.2L75.0 269.8L80.0 274.6L82.0 275.4L85.0 276.0L88.5 275.5L90.0 274.5L91.6 272.7L92.3 271.2L92.9 266.7L96.5 262.7L100.0 257.1L101.5 255.9L106.0 253.9L108.5 250.7L111.0 249.3L113.0 246.8L114.3 244.2L114.4 239.2L115.5 236.7L116.5 236.0L120.0 235.1L122.5 233.5L124.0 232.9L125.5 233.2L128.5 234.9L132.0 234.8L133.5 235.2L139.6 239.7L143.0 243.6L144.6 244.7L147.0 245.2L152.0 244.7L154.0 245.0L161.0 248.5L163.8 251.7L165.0 252.6L168.0 253.0L172.0 252.2L173.0 252.9L173.9 255.2L174.1 259.2L175.4 262.2L175.3 264.2L174.0 265.3L170.5 265.9L169.0 266.7L168.1 268.2L167.2 271.7L164.6 275.2L163.2 278.7L161.9 280.2L160.0 280.8L155.0 280.1L153.0 280.3L151.5 281.3L148.0 284.5L140.5 288.2L138.5 288.2L134.5 286.8L131.5 287.0L130.0 287.7L128.8 288.7L126.5 293.1L123.0 296.7L121.0 296.7L118.0 294.9L116.5 294.5L108.5 295.1L107.0 296.1L105.3 299.7L104.0 301.2L103.0 301.5L99.5 301.5L97.5 302.6L96.9 304.2L97.7 307.7L97.9 309.7L96.8 314.2L95.8 315.7L92.5 317.9L88.8 321.7L86.0 325.3L84.4 331.7L84.1 338.2L83.5 340.7L82.8 341.7L81.5 342.6L75.5 344.3L72.0 346.6L70.6 348.7L70.5 352.2ZM115.3 260.2L117.1 257.7L117.3 256.7L117.0 256.2L112.5 256.1L111.5 256.5L111.5 258.0L112.6 259.7L114.0 260.5L115.3 260.2Z" fill="#f7fabb" fill-rule="evenodd"/>
<path d="M144.0 280.2L142.0 279.9L141.0 279.2L138.5 275.7L137.1 272.7L136.2 271.7L133.1 270.2L129.0 269.1L128.0 268.3L127.4 267.2L125.7 261.2L125.6 257.2L124.4 255.2L124.4 254.2L125.5 253.7L129.0 253.5L133.0 251.7L133.6 250.7L133.6 249.7L131.1 246.7L131.1 245.7L136.0 242.8L138.0 243.5L140.5 246.7L142.0 247.4L145.5 247.6L151.5 247.1L154.5 247.9L156.9 249.7L162.0 254.5L165.6 257.2L166.2 258.2L166.2 259.2L165.0 261.7L164.0 265.7L162.5 268.1L157.8 271.2L155.5 274.6L153.0 275.7L148.5 279.0L146.0 279.9L144.0 280.2ZM61.0 345.4L59.5 345.6L56.0 345.0L47.0 344.6L41.5 345.0L39.0 344.7L35.5 343.2L32.4 339.2L31.0 338.8L28.0 339.1L26.0 338.8L24.4 337.7L23.6 336.2L23.5 335.2L24.0 334.0L26.8 331.7L27.4 330.7L27.8 326.7L28.8 321.2L31.3 316.2L31.9 314.2L31.4 305.7L28.8 298.2L30.5 294.2L30.5 289.4L31.5 288.5L37.0 287.6L40.5 288.8L42.0 288.7L43.2 287.2L44.3 283.2L46.0 281.9L48.0 281.9L51.5 282.8L56.0 283.4L57.0 284.2L58.5 287.1L59.5 287.9L65.5 291.2L70.5 292.3L74.4 294.2L75.2 295.7L74.9 298.7L75.2 300.2L78.0 303.3L78.5 304.7L78.9 308.2L81.8 311.7L82.6 313.2L82.7 314.7L82.3 315.7L78.5 319.8L77.7 321.2L77.5 322.7L78.1 326.7L77.8 330.7L78.2 334.2L77.6 336.2L76.5 337.1L72.5 338.6L70.9 341.7L69.5 342.9L68.0 343.5L64.0 343.9L61.0 345.4ZM98.0 296.8L96.0 296.9L91.0 295.2L88.5 293.2L88.0 292.2L88.1 291.7L90.5 289.0L92.5 287.9L96.0 287.8L99.0 288.7L101.0 290.6L101.5 292.7L100.5 295.1L98.0 296.8Z" fill="#e4f3a0" fill-rule="evenodd"/>
<path d="M147.0 274.3L146.0 274.5L144.5 273.7L142.0 271.2L139.0 267.3L135.9 264.7L135.2 263.2L134.4 258.7L135.4 256.7L139.0 252.7L140.5 251.6L145.0 250.2L151.5 249.6L153.9 250.7L156.5 253.9L160.6 257.7L161.1 259.2L160.8 262.7L160.1 264.7L158.8 266.2L155.5 268.3L150.5 270.2L147.0 274.3ZM58.5 338.2L53.5 337.7L47.5 338.5L43.0 337.4L40.0 338.2L39.0 337.8L37.5 336.6L35.6 334.2L35.4 332.7L35.8 324.7L34.7 320.7L35.9 314.7L34.9 309.7L34.9 307.7L35.5 306.3L36.5 305.2L40.0 304.2L41.2 303.2L41.5 301.7L40.8 297.2L41.0 296.2L42.0 295.3L44.5 294.9L49.5 295.0L58.5 294.0L68.5 297.2L69.3 297.7L69.9 298.7L70.7 303.7L72.3 308.2L70.6 315.2L69.7 326.2L65.0 333.4L62.5 334.9L60.0 337.5L58.5 338.2Z" fill="#c8e8a0" fill-rule="evenodd"/>
<path d="M147.0 266.3L145.5 266.7L144.8 266.2L144.2 265.2L143.5 257.2L144.3 255.7L145.5 254.5L147.0 253.8L148.5 253.7L150.5 254.7L153.7 258.2L154.5 260.1L154.8 262.7L154.5 263.8L153.5 264.7L149.5 265.2L147.0 266.3ZM52.0 330.7L50.0 330.6L48.6 329.2L48.5 327.7L50.0 323.7L50.1 321.7L47.6 317.2L44.9 314.2L44.4 312.2L44.6 311.2L45.5 310.0L49.4 307.7L51.4 305.2L53.0 304.9L54.6 305.2L55.5 306.2L55.8 309.2L56.8 312.2L56.7 316.2L57.4 320.2L56.1 328.7L54.5 330.1L52.0 330.7Z" fill="#a0d8a4" fill-rule="evenodd"/>
<path d="M40.9 311.4h.7v.7h-.7zM43.7 331.1h.7v.7h-.7zM43.7 328.3h.7v.7h-.7zM43.7 322.7h.7v.7h-.7zM43.7 317h.7v.7h-.7zM43.7 314.2h.7v.7h-.7zM43.7 308.6h.7v.7h-.7zM43.7 302.9h.7v.7h-.7zM43.7 300.1h.7v.7h-.7zM46.5 328.3h.7v.7h-.7zM46.5 325.5h.7v.7h-.7zM46.5 319.8h.7v.7h-.7zM46.5 314.2h.7v.7h-.7zM46.5 311.4h.7v.7h-.7zM46.5 305.8h.7v.7h-.7zM46.5 300.1h.7v.7h-.7zM46.5 297.3h.7v.7h-.7zM49.4 331.1h.7v.7h-.7zM49.4 325.5h.7v.7h-.7zM49.4 322.7h.7v.7h-.7zM49.4 317h.7v.7h-.7zM49.4 311.4h.7v.7h-.7zM49.4 308.6h.7v.7h-.7zM49.4 302.9h.7v.7h-.7zM49.4 297.3h.7v.7h-.7zM52.2 328.3h.7v.7h-.7zM52.2 322.7h.7v.7h-.7zM52.2 319.8h.7v.7h-.7zM52.2 314.2h.7v.7h-.7zM52.2 308.6h.7v.7h-.7zM52.2 305.8h.7v.7h-.7zM52.2 300.1h.7v.7h-.7zM55 325.5h.7v.7h-.7zM55 319.8h.7v.7h-.7zM55 317h.7v.7h-.7zM55 311.4h.7v.7h-.7zM55 305.8h.7v.7h-.7zM55 302.9h.7v.7h-.7zM55 297.3h.7v.7h-.7z" fill="#333" opacity="0.8"/>
<polyline points="46.9,211.1 44.1,212.8 39.3,213.1 37.6,215.6 32.8,216.8 29.1,218.2 25.8,220.2 27.5,222.4 29.7,223.5 32,223.8 35.6,225.8 36.8,228 38.2,229.5 41.3,228.9 44.1,229.5 46.6,228.9 49.7,229.7 50.6,231.7 48.3,233.7 46,235.4 42.7,236.8 38.7,237.9 35.3,239.3 32.5,240.4 35.3,239.9 38.2,238.8 41.3,238.2 44.1,237.3 47.2,236.5 50.3,235.1 52.8,233.7 55.6,232.3 59,230.3 61.5,228.9 62.4,227.2 64.6,225.2 66.3,223.8 70,222.4 68.6,224.1 66.9,224.9 66.3,226.9 68,228 70.8,226.9 73.7,225.8 75.6,224.1 77.9,223.3 81,223.3 83.5,224.4 86.6,225.8 90.5,225.8 94.8,226.1 98.2,226.6 100.7,227.5 103.8,228.6 106.9,230 109.4,230.9 111.7,232.8 113.9,235.4 116.5,237.6 119.8,239.6 123.5,241 126.3,242.1 127.7,244.4 130,246.1 132.8,248.3 133.9,250.3 133.1,252.3 135.6,253.7 138.4,255.1 140.7,256.8 142.9,257.9 142.1,259 143.5,261.9 144.1,264.7 144.1,268.1 143.8,270.9 142.9,273.7 143.5,276.5 143.5,279.3 144.1,281.3 144.6,283.6 145.2,285.2 146.9,287.2 148.3,288.3 148.6,290 150,291.7 151.4,294 153.1,295.7 153.6,297.4 156.5,297.9 159.3,299.1 160.4,299.9 162.1,301 163.2,302.7 163.8,303.8 164.9,305.5 166,307.5 167.2,309.5 168.6,311.5 170.5,313.7 172,316 171.7,317.1 173.9,319.1 176.2,320.8 177.3,322.7 177.6,325 179.6,326.4 181.8,328.4 183.5,330.3 185.2,330.1" fill="none" stroke="#333" stroke-width="0.45" stroke-linejoin="round"/>
<polyline points="185.2,330.1 184.3,327.8 182.7,326.4 181.8,324.7 180.4,322.2 179,320.2 177.6,318.2 175.9,316.2 174.8,314.3 173.4,312.3 171.7,310.3 170.5,308.1 170,305.5 171.7,306.1 173.6,306.7 175.3,307.8 176.2,309.8 177.3,311.7 179,313.7 180.7,316 182.1,317.4 183.8,318.8 185.2,320.5 186,322.7" fill="none" stroke="#333" stroke-width="0.45" stroke-linejoin="round"/>
<polyline points="166.6,303 168.9,304.1 171.1,307.5 173.4,309.2 175,311.5 176.7,314.3 178.4,317.1 180.1,319.3 182.4,321.6 184.1,323.9" fill="none" stroke="#333" stroke-width="0.45" stroke-linejoin="round"/>
<polyline points="18.4,211.1 20.7,212 24.6,212.8 28,213.1 32,212.8 35.9,212.5 38.2,211.1" fill="none" stroke="#333" stroke-width="0.45" stroke-linejoin="round"/>
<polyline points="161.5,221.8 165.2,222.7 168,222.7 171.1,221.3 174.5,220.4 177,219.9 180.1,219 182.9,218.5 183.5,217.6 179.8,218.5 176.5,219 173.6,219.3 170.8,219 169.4,217.6 167.7,218.7 164.3,220.7 161.5,221.8" fill="none" stroke="#333" stroke-width="0.45" stroke-linejoin="round"/>
<polyline points="145.2,218.5 146,219.6 148,220.4 151.1,220.4" fill="none" stroke="#333" stroke-width="0.45" stroke-linejoin="round"/>
<polyline points="94.8,226.1 95.2,225.6 95.6,225.1 95.8,225.9 96.1,226.6 96.4,226.7 96.8,226.4 97.2,226.3 97.5,226.2 97.7,227 98.1,226.7 98.7,226.2 99,226.6 99.3,226.8 99.5,227.3 100,227.2 100.5,226.8 100.8,227.2 101,227.7 101.5,227.5 101.7,227.9 101.7,228.9 102.3,228.5 102.7,228.3 102.7,229.4 103.1,229.6 103.6,229.1 103.8,229.4 103.9,229.9 104.5,229.6 105.2,228.8 105.5,229.1 105.5,229.8 105.9,229.7 106.5,229.3 106.6,229.7 106.9,229.9 107.5,229.5 107.7,229.9 107.8,230.8 108.3,230.7 108.8,230.4 109.2,230.2 109.4,230.9 109.2,231.7 109.6,231.8 109.6,232.4 110.1,232.4 111,231.9 111.1,232.4 111.6,232.4 112.3,232.2 112.4,232.7 112.4,233.1 112.8,233.2 112.5,234 112.6,234.3 113.4,234 112.9,234.9 113,235.3 113.7,235.1 114.1,235.2 114.3,235.5 114.3,236 114.8,235.9 114.8,236.4 115.1,236.6 115.6,236.6 115.8,236.8 115.9,237.2 116.4,237.2 116.9,237.1 116.9,237.7 117.2,237.8 117.8,237.5 118.3,237.2 118,238.4 118.2,239 118.9,238.4 119,238.9 119,239.6 119.6,239.3 119.8,239.6 120.1,240 120.8,239.1 120.8,240.1 120.9,240.9 121.3,240.9 121.7,240.8 122.4,239.8 123,239.2 122.9,240.7 122.8,241.8 123.5,241 124.2,240.3 124.5,240.5 124.5,241.6 124.8,241.7 125.3,241.6 125.6,241.9 125.8,242.4 126.2,242.2 126.8,242.3 126.8,242.7 126.8,243.2 126.6,243.8 126.7,244.1 127.8,243.9 128,244.1 127.6,245.1 128.3,244.8 129,244.4 129.5,244.4 129.7,244.7 129.3,245.8 129.2,246.5 130,246.1 131.3,245 131,246 130.4,247.2 131.1,247 131.3,247.3 131.4,247.8 131.8,247.9 132.2,247.9 132.9,247.7 133.2,248 133.3,248.5 133.4,248.9 133.3,249.3 132.9,250 132.4,250.7 133.7,250.5 134.2,250.5 134.4,250.9 135,250.8 135.5,250.9 135.8,251.1 136,251.5 135.8,252 135.8,252.7 136.1,253.1 136.5,253.1 136.8,253.4 137.1,253.5 137.6,253.2 138,253 138.3,253.2 138.4,254.2 138.7,254.2 139.3,253.5 139.9,253.2 140.2,253.3 140.2,254.1 140.3,254.7 141.1,253.9 141.7,253.5 142,253.7 142.6,253.3 142.4,254.5 142.4,255.3 142.9,255 143.3,255.1 143.6,255.2 143.8,255.5 144.1,255.8 144.1,256.6 144.3,256.8 144.8,256.7 145.2,256.8 145.6,256.9 146,256.8 146.6,256.5" fill="none" stroke="#222" stroke-width="0.45" stroke-linejoin="round"/>
<polyline points="106,228.6 106.5,228.1 107,227.7 107.3,228 107.7,227.5 107.9,228.7 107.9,230.1 108.3,230.3 108.6,230 109.4,228.8 109.7,228.9 110,229.3 109.9,230.5 110.1,230.8 110.7,230.4 111.4,229.6 112.1,228.7 112.3,229.3 112.4,230 112.7,230.3 113.2,230.2 113.2,230.8 113.1,231.6 113.4,231.7 113.7,231.9 113.8,232.4 114.2,232.4 114.4,232.7 115.1,232.3 115,233 115.4,233.1 116,232.8 115.8,233.7 115.8,234.3 116.2,234.3 116.9,233.9 117.3,234 117.5,234.3 117.7,234.5 118.8,233.6 119.3,233.7 118.7,235 119.1,235 119.6,235 119.7,235.4 120.3,235.3 120.2,236 119.5,237.4 119.9,237.6 121.1,236.6 121.4,236.7 121.6,237 122.3,236.4 122.4,237.1 122.7,237.1 123.7,236.2 123.9,236.4 124.1,236.8 124.4,237 124.9,236.5 125,237.1 124.9,238.5 125.3,238.4 125.5,239.1 125.3,240.4 125.7,240.5 126.4,239.6 127.2,239.3 126.5,240.3 125.6,241.4 126.4,241.2 127.4,240.9 127.8,241.1 128.4,241.1 129.1,240.8 129.1,241.1 129.2,241.6 129,242.4 128.6,243.5 129.4,243.1 130.3,242.4 130.8,242.4 131.1,242.7 131.4,242.9 131.7,243.1 130.9,244.4 130.5,245.3 131.7,244.6 132.5,244.3 131.9,245.4 132.4,245.4 133.1,245.2 132.8,246.1 133.3,246 134,245.8 133.5,246.8 133.9,247 134.8,246.6 134.3,247.6 134.4,248 134.1,248.9 134.3,249.3 135.4,248.4 135.7,248.7 135.8,249.1 136.3,249.1 136.7,249.1 137.4,248.8 137.7,249.1 137.5,249.9 138,249.8 139.1,248.8 139,249.5 138.8,250.4 138.6,251.3 139.2,251 140.3,250.1 140.5,250.3 140.6,250.9 140,252.3 140.6,252 141.5,251.3 141.2,252.4 140.7,253.7 141.5,253.2 142.2,252.8 143.2,251.9 143.3,252.3 142.5,254.1 143,254 142.9,254.8 142.9,255.3 144.3,254 144.9,253.8 144.4,255.1 144.2,255.9 144.9,255.5 145.9,254.8" fill="none" stroke="#333" stroke-width="0.4" stroke-linejoin="round"/>
<polyline points="118.8,242 119.1,242.8 119.4,243 119.9,242.3 120.3,242.3 120.6,242.2 121.2,242.2 121.6,242.7 121.4,243.3 121.8,243.5 122.3,243.6 122.4,244.1 122.5,244.5 122.9,244.7 123.3,244.9 123.2,245.4 123.2,245.8 123.1,246.3 123.8,246.4 123.8,246.9 123.6,247.1 123.5,247.5 123.3,247.9 122.7,248.6 122.1,247.9 121.8,247.6 121.7,247.1 121.5,246.9 121.3,246.5 121.2,246.1 120.4,246.3 120.2,246 120.2,245.5 120.2,245 120,244.8 119.4,244.8 118.9,244.6 119,244.1 119.5,243.6 119.1,243.4 119.1,243 119.3,242.6 119,242.3" fill="none" stroke="#333" stroke-width="0.4" stroke-linejoin="round"/>
<polyline points="131.7,251.6 132,251.9 132.1,252.5 132.3,253.1 132.8,253 133.5,252.1 133.8,252.2 134.1,252.5 134.6,252.4 134.8,252.8 135.3,252.6 135.6,252.7 135.8,253.3 136.4,252.6 136.7,252.9 136.8,253.6 137.1,253.8 137.5,253.9 137.7,254.4 137.8,254.7 138.6,254.1 139,254.1 139,254.7 139.3,254.9 139.7,254.9 139.9,255.2 140.2,255.3 140.3,255.9 140.5,256.1 141,256.1 141.3,256.3 141.6,256.4 141.7,256.9 141.9,257.1 142.2,257.4 142.7,257.4 143.1,257.3 143.4,257.4 143.7,257.8 144.1,257.7 144.5,257.7 144.8,257.9 145.3,257.7 145.4,258.4 145.9,258.6 145.6,258.2 145.3,257.9 144.7,257.9 144.5,257.7 144.3,257.4 144.4,256.8 144.2,256.5 143.7,256.5 143.3,256.5 143.2,256.1 142.9,255.8 142.5,255.8 142.5,255.2 142.5,254.7 141.9,254.8 141.6,254.6 141.6,254.1 141,254.3 140.5,254.3 140.4,253.9 140.1,253.7 139.8,253.4 139.6,253.1 139.3,252.9 138.9,253 138.3,253.2 138.1,252.8 138,252.3 137.6,252.2 137.3,251.8 137,251.9 136.5,252.3 136.2,251.9 135.9,251.8 135.5,251.8 135.1,251.8 134.7,252.1 134.5,251.6 134.1,250.9 133.7,250.9 133.4,251.1 133,250.9 132.7,251.2 132.4,251.9 132.1,252 131.7,251.6" fill="none" stroke="#333" stroke-width="0.4" stroke-linejoin="round"/>
<polyline points="57.2,234 57.5,234.3 58,234.1 58.4,234.1 58.7,234.2 59.2,234.1 59.4,234.7 59.7,234.8 60.1,234.7 60.3,234.4 60.5,234 61.1,234.4 61.5,234.4 61.7,234.1 62,233.9 62.3,233.5 62.6,233.4 62.9,233.2 63.2,233 63.7,233.3 64.2,233.6 65,233.5 64.6,232.7 64,232.5 63.7,232.2 63.9,231.8 64.2,231.3 63.7,231.2 63.4,231.1 63.1,230.7 62.7,230.9 62.3,231.2 61.9,231 61.6,231.2 61.3,231.5 60.8,231.2 60.5,231.6 60.3,232.2 59.9,232.1 59.4,232 58.9,231.7 58.3,231.7 58.1,232.3 58.2,232.8 57.8,233 57.8,233.6 57.7,234" fill="none" stroke="#333" stroke-width="0.4" stroke-linejoin="round"/>
<polyline points="50.9,229.4 51,229.8 51.3,230.4 51.2,230.7 51.3,231.2 50.7,231.2 50.2,231.3 50,231.7 49.2,231.6 48.9,231.9 49.3,232.4 49,232.5 48.6,232.6 48.8,233.4 48.6,233.8 48.2,233.8 47.9,233.9 47.5,233.9 46.8,233.5 46.7,234 46.5,234.2 46,234.1 45.9,234.7 45.6,234.9 45.3,235.1 44.9,235.1 44.6,235.5 44.2,235.4 43.8,235.5 43.4,235.5 43.2,235.8 43,236.3 42.6,236.1 42.5,236.9 41.8,236.2 41.3,235.7 41.3,236.7 41.1,237.2 40.9,237.6 40.5,237.6 40.1,237.5 39.7,237.4 39.3,237.5 39,237.6 38.7,237.9 38.4,238.1 38,238.1 37.8,238.7 37.6,238.9 37,238.4 36.5,238.1 36.3,238.6 35.9,238.5" fill="none" stroke="#444" stroke-width="0.4" stroke-linejoin="round"/>
<polyline points="54.2,337.9 56.5,338.8 57.3,339.9 55.1,341.5 54.1,340.2 54.2,337.9" fill="none" stroke="#444" stroke-width="0.4" stroke-linejoin="round"/>
<polyline points="52,335.8 53.9,336.3 52.8,337 52,335.8" fill="none" stroke="#444" stroke-width="0.4" stroke-linejoin="round"/>
<polyline points="47.5,334 49.1,334.8 48,334.8 47.5,334" fill="none" stroke="#444" stroke-width="0.4" stroke-linejoin="round"/>
<polyline points="43.2,332.3 44.6,332.3 44.1,333.2 43.2,332.3" fill="none" stroke="#444" stroke-width="0.4" stroke-linejoin="round"/>
<polyline points="146.3,256.8 189.1,256.8" fill="none" stroke="#999" stroke-width="0.5" stroke-linejoin="round"/>
<polyline points="96.2,210.3 96.2,224.9" fill="none" stroke="#666" stroke-width="0.4" stroke-linejoin="round"/>
<polyline points="163.5,303.1 170.3,302.7 180.4,306.7 188.6,306.7" fill="none" stroke="#555" stroke-width="0.45" stroke-linejoin="round"/>
<polygon points="104.4,214.4 138.2,239.9 121.3,254.3 87.5,231.4" fill="none" stroke="#222" stroke-width="0.85"/>
<polygon points="137.9,256.2 155.3,256.2 155.3,273.7 137.9,273.7" fill="none" stroke="#222" stroke-width="0.85"/>
<polygon points="42.7,324.7 70.8,324.7 70.8,344.7 42.7,344.7" fill="none" stroke="#222" stroke-width="0.85"/>
</g>
<rect x="14.5" y="211.7" width="169" height="140.9" fill="none" stroke="#555" stroke-width="0.9"/>
<text x="12.2" y="340.4" font-size="5.6" font-family='"Liberation Serif", serif' text-anchor="end" fill="#333">20°N</text>
<text x="12.2" y="312.2" font-size="5.6" font-family='"Liberation Serif", serif' text-anchor="end" fill="#333">30°N</text>
<text x="12.2" y="284" font-size="5.6" font-family='"Liberation Serif", serif' text-anchor="end" fill="#333">40°N</text>
<text x="12.2" y="255.9" font-size="5.6" font-family='"Liberation Serif", serif' text-anchor="end" fill="#333">50°N</text>
<text x="12.2" y="227.7" font-size="5.6" font-family='"Liberation Serif", serif' text-anchor="end" fill="#333">60°N</text>
<text x="14.6" y="358.2" font-size="5.4" font-family='"Liberation Serif", serif' text-anchor="middle" fill="#333" letter-spacing="0.28">170°W</text>
<text x="42.8" y="358.2" font-size="5.4" font-family='"Liberation Serif", serif' text-anchor="middle" fill="#333" letter-spacing="0.28">160°W</text>
<text x="71" y="358.2" font-size="5.4" font-family='"Liberation Serif", serif' text-anchor="middle" fill="#333" letter-spacing="0.28">150°W</text>
<text x="99.1" y="358.2" font-size="5.4" font-family='"Liberation Serif", serif' text-anchor="middle" fill="#333" letter-spacing="0.28">140°W</text>
<text x="127.3" y="358.2" font-size="5.4" font-family='"Liberation Serif", serif' text-anchor="middle" fill="#333" letter-spacing="0.28">130°W</text>
<text x="155.5" y="358.2" font-size="5.4" font-family='"Liberation Serif", serif' text-anchor="middle" fill="#333" letter-spacing="0.28">120°W</text>
<text x="183.6" y="358.2" font-size="5.4" font-family='"Liberation Serif", serif' text-anchor="middle" fill="#333" letter-spacing="0.28">110°W</text>
<text x="99" y="210.8" font-size="6.85" font-family='"Liberation Serif", serif' text-anchor="middle" fill="#111">Historical trend of pineapple express related precipitation</text>
<clipPath id="clipe"><rect x="200.4" y="211.7" width="169.4" height="140.9"/></clipPath>
<g clip-path="url(#clipe)">
<path d="M228.6 211.7V352.6M256.9 211.7V352.6M285.1 211.7V352.6M313.3 211.7V352.6M341.6 211.7V352.6M200.4 338.5H369.8M200.4 310.3H369.8M200.4 282.1H369.8M200.4 254H369.8M200.4 225.8H369.8" stroke="#e4e4e4" stroke-width="0.35" fill="none"/>
<path d="M213.9 323.9L211.9 323.8L207.9 321.7L205.4 320.8L203.9 320.8L200.4 321.6L200.4 211.7L213.6 211.7L213.2 213.2L211.7 215.7L211.6 217.2L215.4 222.2L216.9 223.1L218.4 223.4L225.4 223.4L229.4 224.9L231.0 224.7L236.4 222.9L247.4 223.8L252.4 223.0L254.4 221.7L255.9 218.7L256.9 217.6L258.9 216.3L263.9 213.9L264.4 213.2L264.8 211.7L300.3 211.7L300.0 215.2L300.5 216.2L301.4 217.0L303.4 217.8L312.4 218.6L315.9 219.5L318.0 220.7L320.9 224.2L323.9 226.5L327.9 228.0L328.3 228.7L328.1 230.2L325.7 235.2L326.1 241.7L325.8 243.2L323.2 246.7L318.4 250.3L313.8 257.7L313.0 259.7L312.3 263.7L312.5 267.7L311.8 268.7L309.1 270.7L308.5 271.7L308.9 273.3L309.9 274.0L311.9 274.5L312.4 275.7L308.7 288.7L306.2 293.7L306.8 297.7L303.4 299.7L302.0 301.7L301.9 304.2L303.6 307.2L303.7 308.2L302.4 309.8L299.4 310.7L298.1 311.7L297.6 315.7L296.5 317.2L294.9 317.6L293.4 317.5L291.8 316.7L291.1 315.7L291.2 314.2L292.3 312.2L292.7 310.7L292.3 303.7L291.8 302.7L284.4 301.0L274.4 300.1L265.9 301.7L261.4 301.4L259.3 301.7L257.0 303.2L255.7 306.2L253.4 307.1L250.9 306.8L248.4 305.0L246.9 304.7L244.9 305.8L242.7 309.2L240.9 310.3L229.9 312.5L224.9 312.6L218.9 314.5L217.1 316.2L216.2 318.7L215.6 322.2L214.9 323.3L213.9 323.9ZM369.4 280.4L368.4 279.8L367.9 278.7L368.2 277.7L369.4 277.1L369.4 280.4ZM328.4 301.7L325.9 301.7L324.1 301.2L322.9 300.2L322.4 298.7L322.4 296.7L322.8 295.2L325.9 292.0L326.7 290.7L327.0 287.2L327.4 286.3L329.0 285.2L335.4 282.7L337.9 282.6L340.4 283.6L341.7 285.2L343.4 292.2L343.3 294.2L342.4 296.2L340.9 297.4L337.4 298.0L333.4 300.5L328.4 301.7ZM276.9 329.2L274.9 329.4L273.6 328.7L273.1 324.7L271.3 321.2L271.0 319.2L271.4 318.6L272.4 318.3L276.4 319.5L278.4 319.1L279.3 318.2L280.0 316.7L280.9 311.6L281.9 310.9L283.9 311.2L285.4 312.2L286.4 313.7L286.5 314.7L285.3 318.7L285.6 320.2L287.0 322.7L286.9 324.2L285.9 324.9L281.4 326.2L276.9 329.2ZM344.9 329.3L344.3 329.2L344.2 328.7L344.9 327.6L345.4 327.8L345.7 328.7L344.9 329.3ZM263.4 343.3L261.9 343.6L260.9 343.0L260.6 341.2L261.4 338.9L263.8 335.2L265.9 333.0L267.9 331.9L269.9 331.7L270.4 332.4L270.7 336.2L269.9 341.0L263.4 343.3ZM331.9 347.8L330.9 348.1L329.7 347.7L326.3 343.2L325.6 341.7L326.0 339.7L328.4 336.5L329.9 332.9L330.9 332.0L332.4 331.9L339.4 333.4L340.3 334.2L340.7 335.2L340.7 336.7L340.4 337.8L339.0 339.2L336.4 339.9L335.2 340.7L333.5 343.7L332.4 347.2L331.9 347.8ZM268.9 352.2L265.5 352.2L265.9 351.2L267.4 350.6L268.6 351.2L268.9 352.2Z" fill="#fee99a" fill-rule="evenodd"/>
<path d="M201.4 316.3L200.4 316.7L200.4 234.6L201.0 234.2L200.4 233.1L200.4 228.4L201.3 226.7L201.8 223.7L203.6 221.2L204.4 218.7L204.1 217.7L203.3 217.2L200.4 216.3L200.4 214.7L202.9 215.2L203.8 215.7L205.1 218.2L211.4 222.2L214.4 225.0L220.4 225.9L224.4 226.1L227.9 227.5L229.4 227.4L232.9 226.1L235.4 225.6L248.4 225.4L253.4 224.6L255.4 223.5L257.9 219.2L260.4 217.6L266.9 216.2L272.9 216.7L277.4 214.8L282.4 215.0L284.8 213.7L285.7 211.7L291.9 211.7L290.9 214.2L290.8 215.2L291.6 216.2L293.4 217.2L306.4 220.3L310.4 222.2L313.9 222.3L315.5 223.2L317.6 228.7L318.8 233.2L320.7 237.2L321.7 240.7L321.8 242.7L320.7 245.2L316.9 249.1L314.5 254.2L312.1 257.2L310.4 260.1L309.4 261.0L306.4 262.3L303.6 267.2L303.4 269.2L303.7 272.7L306.4 278.2L306.7 279.7L305.7 283.7L305.4 287.8L304.9 289.2L303.9 290.4L302.4 291.3L298.4 292.6L295.9 295.5L294.9 296.1L290.9 296.9L285.9 295.9L280.9 298.0L274.4 296.9L269.4 298.2L257.9 298.6L252.9 299.9L247.9 300.3L243.9 302.0L240.9 306.3L239.4 307.6L231.9 309.8L229.4 310.0L225.9 309.3L222.4 309.8L218.4 308.9L214.4 309.7L213.3 309.2L211.4 307.0L210.4 306.3L207.4 305.9L206.0 306.7L205.7 307.7L208.9 309.7L209.4 310.7L209.3 311.7L208.5 312.7L207.5 313.2L203.9 313.9L201.4 316.3ZM295.9 211.9L295.5 211.7L296.3 211.7L295.9 211.9ZM330.9 298.8L328.4 298.9L327.9 298.7L327.3 297.7L327.6 295.2L328.9 291.7L329.8 287.7L331.4 286.2L334.4 284.5L335.9 284.0L337.5 284.2L338.9 285.2L339.4 286.2L340.7 290.7L340.6 292.7L339.4 294.1L335.5 295.7L332.4 298.1L330.9 298.8Z" fill="#fdd680" fill-rule="evenodd"/>
<path d="M232.4 307.3L230.9 307.2L229.9 306.9L227.1 304.2L223.9 302.9L222.2 303.2L220.4 305.3L218.4 305.2L217.4 304.7L215.9 302.3L215.4 302.0L210.9 302.8L205.9 301.9L200.4 304.4L200.4 266.2L202.4 265.2L204.4 261.9L206.9 260.5L210.5 257.7L211.3 256.2L211.5 254.2L211.1 251.7L209.9 250.4L204.4 249.2L203.4 250.0L201.4 253.7L200.4 254.9L200.4 238.8L203.4 239.8L204.9 239.5L206.9 236.1L209.4 234.6L210.3 233.7L211.5 230.2L212.7 229.2L214.9 228.3L217.4 227.9L220.7 228.2L223.4 228.9L226.4 230.4L227.9 230.7L229.4 230.2L232.4 228.0L234.4 227.4L239.9 227.5L254.4 226.6L256.4 225.5L259.4 220.4L260.9 219.5L262.9 219.1L272.9 219.1L278.4 217.4L285.4 217.0L288.9 218.6L295.9 221.1L301.4 221.2L305.4 221.9L307.4 222.9L311.3 225.7L314.8 231.7L316.4 235.7L318.7 239.7L319.2 242.2L318.7 243.7L315.6 247.7L313.4 252.4L312.2 254.2L308.9 257.6L307.9 257.9L304.9 257.2L303.9 257.6L303.4 258.3L302.4 261.9L299.4 264.6L298.7 265.7L298.1 268.2L298.3 270.2L299.2 272.2L300.1 275.7L302.9 280.7L302.7 282.7L301.9 284.3L300.9 285.0L297.9 285.7L295.9 286.7L295.0 287.7L293.5 291.2L290.9 293.0L288.9 293.6L283.9 293.9L279.9 295.4L273.9 294.8L261.4 297.0L257.9 296.3L254.2 294.7L252.9 294.5L249.4 296.5L247.4 296.9L245.9 296.6L240.5 293.7L238.4 293.3L236.9 293.5L235.4 294.7L234.4 297.7L234.6 299.7L235.8 303.7L235.8 305.2L234.4 306.6L232.4 307.3ZM252.4 263.7L253.2 262.2L253.6 258.7L253.1 257.7L250.4 254.6L249.4 254.0L246.4 253.5L243.8 251.2L241.9 250.2L239.4 250.4L237.5 251.7L236.9 253.7L236.9 256.6L237.4 258.8L238.4 260.2L239.4 260.4L243.4 259.7L246.8 262.2L249.9 263.7L251.4 264.1L252.4 263.7ZM334.9 292.7L333.8 292.7L333.0 292.2L332.7 290.7L333.9 288.4L334.9 287.6L335.9 287.3L336.9 288.3L337.5 290.7L336.9 291.8L334.9 292.7Z" fill="#fdb96a" fill-rule="evenodd"/>
<path d="M212.4 299.2L210.4 299.6L207.4 298.3L203.9 298.1L202.9 297.5L201.4 295.6L200.4 295.1L200.4 277.1L202.9 276.8L204.5 274.7L205.9 273.9L207.4 273.9L211.4 275.1L212.8 274.7L213.1 273.7L213.0 269.2L213.6 266.7L215.0 264.7L218.8 261.7L218.7 260.2L215.7 255.2L214.9 251.7L213.0 247.2L212.0 243.2L212.6 241.7L215.0 239.7L216.0 237.7L218.4 235.2L219.4 232.2L220.4 232.1L223.4 233.4L225.9 233.6L229.9 232.7L232.9 230.1L234.4 229.4L239.4 230.0L244.9 229.0L253.4 229.7L255.9 229.6L257.9 229.0L258.7 228.2L259.8 223.7L261.4 222.1L267.4 221.6L275.9 221.6L282.9 219.6L284.9 219.8L290.4 221.4L294.9 223.2L300.9 223.2L304.8 223.7L307.7 225.2L309.9 227.2L313.3 233.2L314.5 237.7L315.8 241.2L315.8 242.7L312.4 249.0L310.9 250.9L307.4 253.9L301.9 254.7L301.0 255.7L299.9 259.4L298.6 260.2L292.9 260.2L291.2 260.7L288.9 262.2L286.9 261.9L286.3 261.2L286.3 260.7L288.9 259.5L289.3 257.2L288.6 256.2L285.9 254.9L284.0 253.2L283.7 252.2L283.8 249.2L282.7 247.2L280.4 245.6L273.4 244.3L267.9 239.9L265.4 238.9L261.9 238.7L260.9 239.2L260.7 239.7L261.2 245.7L261.9 246.6L263.7 247.7L264.3 248.7L263.8 250.2L262.4 251.2L261.4 250.8L259.9 248.5L258.9 247.9L257.4 247.9L254.9 248.9L253.4 249.0L249.9 247.8L245.9 246.9L240.9 244.9L237.4 244.5L234.4 243.6L230.4 244.5L226.9 244.5L223.9 245.7L221.4 245.7L220.4 246.2L220.1 247.7L222.4 250.0L222.9 251.7L222.5 255.2L223.2 258.2L221.5 260.7L221.3 261.7L223.4 266.5L224.9 267.8L231.9 269.9L236.4 272.4L240.4 273.0L241.6 272.7L242.7 271.7L243.1 270.7L243.1 266.7L243.9 265.8L244.9 265.7L246.5 266.7L247.2 269.7L248.1 271.2L251.9 274.4L253.4 274.8L254.9 273.9L257.0 271.2L261.4 269.2L263.0 267.7L263.4 265.7L261.9 261.2L262.2 260.2L263.4 258.9L265.4 258.1L269.4 258.1L272.4 258.6L275.9 257.8L277.4 257.8L279.4 258.7L280.7 260.7L280.6 262.2L278.8 265.2L278.6 266.2L280.9 272.4L281.9 272.9L282.9 272.5L285.3 269.2L286.4 268.3L288.4 267.7L289.9 267.8L290.9 268.7L291.8 272.7L293.4 276.3L294.4 277.6L296.9 279.4L297.4 280.2L297.5 281.2L296.9 282.2L295.7 283.2L290.9 285.7L287.1 289.7L285.6 290.7L283.9 290.8L282.9 290.4L280.9 287.7L279.4 287.2L277.9 288.0L274.9 291.3L267.4 292.9L262.4 295.1L260.4 295.1L258.5 294.2L253.9 289.6L252.4 288.8L247.9 288.6L243.9 290.1L241.4 290.6L231.9 290.7L230.4 291.7L230.3 294.7L229.9 296.2L228.4 298.6L227.4 299.2L225.9 298.7L225.0 297.7L225.0 296.7L225.9 293.2L225.3 291.2L222.9 289.5L220.9 289.1L219.4 289.2L218.2 289.7L217.5 290.7L217.3 293.2L216.7 294.7L212.4 299.2ZM231.9 260.4L229.4 260.2L227.1 259.2L225.9 258.2L228.6 254.7L230.9 254.5L232.4 255.7L232.8 258.7L232.4 260.0L231.9 260.4Z" fill="#fa9858" fill-rule="evenodd"/>
<path d="M305.4 251.8L303.9 252.2L302.4 251.9L296.4 248.2L291.4 247.5L287.9 245.3L285.4 244.7L281.9 243.1L278.4 242.3L275.4 240.6L272.4 239.7L270.9 238.2L270.2 235.7L270.6 230.7L271.3 228.7L273.4 226.3L274.4 225.8L275.4 225.9L277.4 226.9L278.9 226.9L279.9 226.1L281.6 223.7L283.9 222.8L288.9 223.5L293.4 225.7L300.4 225.1L303.4 225.7L305.6 226.7L307.9 228.7L311.1 233.2L311.9 235.3L312.8 240.7L312.3 243.2L310.7 246.7L305.4 251.8ZM245.9 236.8L245.4 237.1L244.4 236.8L244.1 236.2L244.4 235.5L245.4 235.5L246.0 236.2L245.9 236.8ZM253.4 245.7L251.4 245.5L248.3 244.2L247.3 243.2L247.4 242.0L248.4 241.2L249.4 241.2L254.5 242.7L255.1 243.2L255.3 244.2L254.7 245.2L253.4 245.7ZM257.4 283.2L255.5 282.7L254.5 281.7L254.3 280.2L254.9 278.7L257.4 276.3L259.4 273.6L260.9 272.9L264.9 272.0L266.9 272.2L270.4 274.9L271.4 275.2L272.4 274.5L274.3 271.2L275.4 270.7L276.4 271.5L278.3 275.7L279.9 277.0L281.4 277.3L282.9 277.0L283.9 276.4L285.9 274.2L287.4 273.4L288.4 273.6L289.4 274.4L290.5 276.7L290.6 278.7L290.1 280.7L288.9 282.2L287.4 283.1L283.9 281.9L279.4 281.9L269.4 283.1L267.9 282.2L263.9 278.8L262.4 278.4L260.2 279.2L258.5 282.7L257.4 283.2ZM237.4 287.3L234.6 287.2L231.4 285.7L227.9 286.6L225.9 286.3L221.6 283.7L221.1 283.2L221.2 282.2L222.3 280.7L224.4 279.1L228.9 277.7L231.9 276.1L241.9 276.4L243.4 276.0L245.9 274.6L247.4 274.9L248.0 275.7L248.0 277.2L246.5 280.2L245.0 281.7L242.2 283.7L240.0 286.2L237.4 287.3ZM206.9 293.3L205.9 293.2L203.4 291.1L200.4 290.9L200.4 285.8L202.4 285.4L209.4 282.0L211.4 281.3L213.9 281.7L217.9 283.4L218.2 284.2L217.1 285.7L212.4 289.1L208.9 290.3L206.9 293.3Z" fill="#f37148" fill-rule="evenodd"/>
<path d="M300.9 243.3L297.9 241.3L294.4 241.0L291.9 238.8L290.4 238.0L279.4 236.7L278.0 235.7L277.3 234.2L277.9 233.7L281.9 233.1L284.4 231.9L285.6 230.7L286.4 228.0L286.9 227.8L288.7 228.7L292.4 229.3L294.9 229.1L298.9 228.1L300.9 228.3L301.9 229.2L302.0 230.2L299.4 232.5L299.0 233.7L299.5 235.7L302.0 241.2L301.8 242.7L300.9 243.3ZM308.4 242.5L307.9 242.4L307.6 241.7L307.5 237.7L306.4 234.7L306.9 233.8L307.9 234.0L308.8 235.2L309.6 239.2L309.4 241.2L308.4 242.5Z" fill="#df504a" fill-rule="evenodd"/>
<path d="M323.9 282.8L322.4 283.1L321.4 282.8L317.9 280.8L317.2 279.7L318.0 275.7L318.5 267.7L317.3 259.2L318.2 256.7L319.9 254.8L324.4 251.6L328.4 248.0L330.9 246.6L334.9 245.9L338.4 244.7L340.4 244.6L341.9 245.0L344.4 246.5L347.3 247.7L347.9 248.5L348.2 249.7L347.9 253.2L347.4 253.9L344.8 255.7L344.0 257.2L343.6 258.7L343.0 271.7L343.2 276.2L342.7 278.2L340.9 279.3L334.9 280.4L329.9 282.2L323.9 282.8ZM240.9 352.2L238.8 352.2L239.1 349.2L238.5 347.7L234.4 342.5L231.2 339.7L230.9 338.2L233.9 335.2L236.4 332.1L237.4 331.5L239.9 331.8L240.9 331.5L243.9 327.9L245.9 326.5L248.4 325.6L251.4 325.5L253.9 324.6L255.4 324.7L256.0 325.7L255.8 326.7L252.9 329.9L250.0 337.7L250.0 339.2L251.1 342.2L250.8 343.7L249.4 345.1L245.4 346.4L243.3 347.7L241.5 349.7L240.9 352.2ZM201.4 350.3L200.4 350.6L200.4 330.3L205.9 331.5L206.9 332.4L207.3 333.7L207.0 335.2L205.4 338.4L202.8 341.2L205.0 344.7L205.2 346.7L203.9 348.5L201.4 350.3ZM369.4 352.2L357.3 352.2L356.1 347.7L355.4 347.0L352.9 345.9L350.4 343.3L347.7 338.7L347.5 337.7L347.9 336.8L349.4 336.5L350.9 336.9L353.9 339.3L357.4 340.7L359.4 342.3L362.2 340.7L363.4 340.4L369.4 341.7L369.4 352.2Z" fill="#f7fabb" fill-rule="evenodd"/>
<path d="M329.9 280.8L327.4 280.9L323.9 280.0L322.4 278.7L321.0 276.2L320.1 273.2L320.7 267.2L319.5 260.7L319.6 258.7L320.6 257.2L324.9 254.0L330.4 248.8L331.9 248.2L335.4 248.1L338.4 247.4L339.9 247.6L342.4 249.7L343.0 250.7L343.2 251.7L342.3 255.7L341.5 262.7L341.4 269.7L340.6 276.2L340.0 277.2L338.3 278.2L333.9 279.2L329.9 280.8ZM246.9 334.4L245.9 334.3L245.2 333.7L244.9 332.7L245.0 331.2L246.4 329.0L247.4 328.6L248.4 328.6L249.4 329.4L249.4 331.2L248.4 333.1L246.9 334.4ZM239.9 342.7L238.9 342.2L238.7 341.2L239.0 340.7L239.8 340.7L240.3 341.2L240.4 342.2L239.9 342.7ZM365.4 346.7L364.4 346.2L364.6 345.2L365.4 344.8L366.6 345.2L366.7 345.7L366.4 346.2L365.4 346.7ZM369.4 352.2L368.0 352.2L368.4 350.6L369.4 350.0L369.4 352.2Z" fill="#e4f3a0" fill-rule="evenodd"/>
<path d="M330.4 278.7L328.4 279.0L325.7 278.2L323.9 276.8L322.5 274.7L322.2 272.7L323.5 264.2L322.6 261.2L322.5 259.7L323.3 258.2L324.6 256.7L330.9 251.0L332.4 250.7L335.4 251.2L338.4 250.6L339.4 251.1L340.0 252.2L340.5 257.7L339.7 263.7L339.7 269.2L339.4 271.4L338.3 274.7L337.4 276.2L336.4 276.8L330.4 278.7Z" fill="#c8e8a0" fill-rule="evenodd"/>
<path d="M330.9 275.8L328.4 276.2L326.4 275.7L324.9 274.5L324.3 272.7L324.9 269.7L326.4 265.2L325.6 260.2L325.8 258.7L326.6 257.2L328.4 255.4L329.9 254.5L330.9 254.3L334.4 256.3L337.4 256.9L338.3 258.2L338.6 260.2L337.8 268.2L337.1 270.7L334.4 274.2L330.9 275.8Z" fill="#a0d8a4" fill-rule="evenodd"/>
<path d="M329.4 273.2L328.4 273.2L327.4 272.7L327.0 271.2L328.8 266.2L328.9 259.7L329.4 258.7L330.4 258.4L335.9 260.5L336.5 261.7L336.5 263.2L335.9 266.7L334.9 269.2L332.4 271.6L329.4 273.2Z" fill="#6ec4a6" fill-rule="evenodd"/>
<polygon points="213,211 213,221 219,228 221,236.5 222,235.4 232,229.4 243.6,223.6 257,218.7 270,217 281,216.9 290,217.8 297,219.2 306,221.7 314,225.4 319,231.7 323,240.7 326,245.4 326,211" fill="#fff"/>
<path d="M219 241C219.5 240.4 219.8 239.1 222 237.3C224.2 235.6 228.4 232.7 232 230.5C235.6 228.2 239.4 225.8 243.6 223.8C247.8 221.9 252.6 220.1 257 219C261.4 217.9 266 217.6 270 217.4C274 217.1 277.7 217.2 281 217.3C284.3 217.4 287.3 217.8 290 218.2C292.7 218.6 294.3 218.9 297 219.6C299.7 220.2 303.2 221.1 306 222.1C308.8 223.1 311.8 224.1 314 225.8C316.2 227.5 317.5 229.6 319 232.1C320.5 234.6 321.8 238.5 323 241C324.2 243.6 325.5 245.8 326 247.3C326.5 248.9 326.5 249.8 326 250.3C325.5 250.7 324.2 250.2 323 249.9C321.8 249.6 320.5 249.1 319 248.5C317.5 247.9 316.2 247 314 246.2C311.8 245.4 308.8 244.5 306 243.5C303.2 242.5 299.7 241.2 297 240C294.3 238.8 292.7 237.7 290 236.4C287.3 235.1 284.3 233.5 281 232.3C277.7 231.1 274 230 270 229.4C266 228.8 261.4 228.7 257 228.9C252.6 229 247.8 229.3 243.6 230.3C239.4 231.3 235.6 233.2 232 234.9C228.4 236.5 224.2 239.2 222 240.3C219.8 241.3 219.5 240.9 219 241C218.5 241.1 219 241 219 241" fill="#fee99a" stroke="none" stroke-linejoin="round"/>
<path d="M219 241C219.5 240.5 219.8 239.4 222 237.8C224.2 236.2 228.4 233.4 232 231.2C235.6 229 239.4 226.6 243.6 224.8C247.8 223 252.6 221.3 257 220.3C261.4 219.3 266 219 270 218.8C274 218.6 277.7 218.7 281 218.9C284.3 219.1 287.3 219.4 290 219.8C292.7 220.2 294.3 220.5 297 221.2C299.7 221.8 303.2 222.7 306 223.7C308.8 224.7 311.8 225.7 314 227.4C316.2 229.1 317.5 231.2 319 233.7C320.5 236.2 321.8 240 323 242.3C324.2 244.7 325.5 246.5 326 247.8C326.5 249.1 326.5 249.9 326 250.3C325.5 250.6 324.2 250.2 323 249.9C321.8 249.6 320.5 249.1 319 248.5C317.5 247.9 316.2 247 314 246.2C311.8 245.4 308.8 244.5 306 243.5C303.2 242.5 299.7 241.2 297 240C294.3 238.8 292.7 237.7 290 236.4C287.3 235.1 284.3 233.5 281 232.3C277.7 231.1 274 230 270 229.4C266 228.8 261.4 228.7 257 228.9C252.6 229 247.8 229.3 243.6 230.3C239.4 231.3 235.6 233.2 232 234.9C228.4 236.5 224.2 239.2 222 240.3C219.8 241.3 219.5 240.9 219 241C218.5 241.1 219 241 219 241" fill="#fdd680" stroke="none" stroke-linejoin="round"/>
<path d="M219 241C219.5 240.5 219.8 239.7 222 238.1C224.2 236.6 228.4 233.8 232 231.7C235.6 229.6 239.4 227.2 243.6 225.5C247.8 223.7 252.6 222.1 257 221.2C261.4 220.2 266 220 270 219.8C274 219.6 277.7 219.8 281 220C284.3 220.2 287.3 220.5 290 220.9C292.7 221.3 294.3 221.7 297 222.3C299.7 223 303.2 223.8 306 224.8C308.8 225.8 311.8 226.8 314 228.5C316.2 230.2 317.5 232.4 319 234.8C320.5 237.2 321.8 241 323 243.2C324.2 245.4 325.5 246.9 326 248.1C326.5 249.3 326.5 250 326 250.3C325.5 250.5 324.2 250.2 323 249.9C321.8 249.6 320.5 249.1 319 248.5C317.5 247.9 316.2 247 314 246.2C311.8 245.4 308.8 244.5 306 243.5C303.2 242.5 299.7 241.2 297 240C294.3 238.8 292.7 237.7 290 236.4C287.3 235.1 284.3 233.5 281 232.3C277.7 231.1 274 230 270 229.4C266 228.8 261.4 228.7 257 228.9C252.6 229 247.8 229.3 243.6 230.3C239.4 231.3 235.6 233.2 232 234.9C228.4 236.5 224.2 239.2 222 240.3C219.8 241.3 219.5 240.9 219 241C218.5 241.1 219 241 219 241" fill="#fdb96a" stroke="none" stroke-linejoin="round"/>
<path d="M219 241C219.5 240.6 219.8 239.8 222 238.3C224.2 236.8 228.4 234.1 232 232C235.6 229.9 239.4 227.6 243.6 225.9C247.8 224.2 252.6 222.7 257 221.7C261.4 220.8 266 220.6 270 220.4C274 220.2 277.7 220.5 281 220.7C284.3 220.9 287.3 221.2 290 221.6C292.7 222 294.3 222.3 297 223C299.7 223.7 303.2 224.5 306 225.5C308.8 226.5 311.8 227.5 314 229.2C316.2 230.9 317.5 233.1 319 235.5C320.5 237.9 321.8 241.6 323 243.7C324.2 245.9 325.5 247.3 326 248.3C326.5 249.4 326.5 250 326 250.3C325.5 250.5 324.2 250.2 323 249.9C321.8 249.6 320.5 249.1 319 248.5C317.5 247.9 316.2 247 314 246.2C311.8 245.4 308.8 244.5 306 243.5C303.2 242.5 299.7 241.2 297 240C294.3 238.8 292.7 237.7 290 236.4C287.3 235.1 284.3 233.5 281 232.3C277.7 231.1 274 230 270 229.4C266 228.8 261.4 228.7 257 228.9C252.6 229 247.8 229.3 243.6 230.3C239.4 231.3 235.6 233.2 232 234.9C228.4 236.5 224.2 239.2 222 240.3C219.8 241.3 219.5 240.9 219 241C218.5 241.1 219 241 219 241" fill="#fa9858" stroke="none" stroke-linejoin="round"/>
<path d="M219 241C219.5 240.6 219.8 240 222 238.5C224.2 237.1 228.4 234.3 232 232.3C235.6 230.2 239.4 227.9 243.6 226.2C247.8 224.6 252.6 223.1 257 222.2C261.4 221.3 266 221.1 270 221C274 220.8 277.7 221.1 281 221.3C284.3 221.5 287.3 221.8 290 222.2C292.7 222.6 294.3 222.9 297 223.6C299.7 224.2 303.2 225.1 306 226.1C308.8 227.1 311.8 228.1 314 229.8C316.2 231.5 317.5 233.7 319 236.1C320.5 238.5 321.8 242.2 323 244.2C324.2 246.3 325.5 247.6 326 248.5C326.5 249.5 326.5 249.8 326 249.9C325.5 249.9 324.2 249.3 323 248.8C321.8 248.4 320.5 247.9 319 247.2C317.5 246.5 316.2 245.7 314 244.9C311.8 244.1 308.8 243.2 306 242.2C303.2 241.2 299.7 239.9 297 238.7C294.3 237.5 292.7 236.4 290 235.1C287.3 233.8 284.3 232.1 281 231C277.7 229.9 274 228.7 270 228.2C266 227.7 261.4 227.6 257 227.8C252.6 228 247.8 228.5 243.6 229.5C239.4 230.6 235.6 232.6 232 234.3C228.4 236 224.2 238.8 222 239.9C219.8 241 219.5 240.8 219 241C218.5 241.2 219 241 219 241" fill="#f37148" stroke="none" stroke-linejoin="round"/>
<path d="M219 241C219.5 240.6 219.8 240.1 222 238.7C224.2 237.3 228.4 234.5 232 232.5C235.6 230.5 239.4 228.2 243.6 226.6C247.8 224.9 252.6 223.5 257 222.7C261.4 221.8 266 221.6 270 221.5C274 221.3 277.7 221.6 281 221.8C284.3 222.1 287.3 222.4 290 222.8C292.7 223.1 294.3 223.5 297 224.2C299.7 224.8 303.2 225.6 306 226.7C308.8 227.7 311.8 228.7 314 230.3C316.2 232 317.5 234.3 319 236.7C320.5 239 321.8 242.7 323 244.7C324.2 246.7 325.5 247.9 326 248.7C326.5 249.5 326.5 249.7 326 249.6C325.5 249.5 324.2 248.6 323 248C321.8 247.5 320.5 246.9 319 246.2C317.5 245.5 316.2 244.7 314 243.9C311.8 243.1 308.8 242.2 306 241.2C303.2 240.2 299.7 238.9 297 237.7C294.3 236.5 292.7 235.4 290 234.1C287.3 232.8 284.3 231.1 281 230C277.7 228.9 274 227.8 270 227.3C266 226.8 261.4 226.7 257 227C252.6 227.3 247.8 227.8 243.6 228.9C239.4 230.1 235.6 232.1 232 233.9C228.4 235.6 224.2 238.4 222 239.6C219.8 240.8 219.5 240.8 219 241C218.5 241.2 219 241 219 241" fill="#df504a" stroke="none" stroke-linejoin="round"/>
<path d="M219 241C219.5 240.6 219.8 240.2 222 238.8C224.2 237.5 228.4 234.8 232 232.8C235.6 230.8 239.4 228.5 243.6 226.9C247.8 225.3 252.6 223.9 257 223.1C261.4 222.3 266 222.1 270 221.9C274 221.8 277.7 222.2 281 222.4C284.3 222.6 287.3 222.9 290 223.3C292.7 223.7 294.3 224 297 224.7C299.7 225.3 303.2 226.2 306 227.2C308.8 228.2 311.8 229.2 314 230.9C316.2 232.6 317.5 234.8 319 237.2C320.5 239.6 321.8 243.2 323 245.1C324.2 247 325.5 248.1 326 248.8C326.5 249.6 326.5 249.6 326 249.3C325.5 249 324.2 248 323 247.3C321.8 246.6 320.5 246 319 245.3C317.5 244.6 316.2 243.8 314 243C311.8 242.2 308.8 241.3 306 240.3C303.2 239.3 299.7 238 297 236.8C294.3 235.6 292.7 234.5 290 233.2C287.3 231.9 284.3 230.2 281 229.1C277.7 228 274 227 270 226.5C266 226 261.4 226 257 226.3C252.6 226.6 247.8 227.2 243.6 228.4C239.4 229.6 235.6 231.6 232 233.4C228.4 235.3 224.2 238 222 239.3C219.8 240.6 219.5 240.7 219 241C218.5 241.3 219 241 219 241" fill="#c7344b" stroke="none" stroke-linejoin="round"/>
<path d="M219 241C219.5 240.7 219.8 240.3 222 239C224.2 237.7 228.4 235 232 233C235.6 231 239.4 228.8 243.6 227.2C247.8 225.6 252.6 224.3 257 223.5C261.4 222.7 266 222.5 270 222.4C274 222.3 277.7 222.7 281 222.9C284.3 223.1 287.3 223.4 290 223.8C292.7 224.2 294.3 224.5 297 225.2C299.7 225.8 303.2 226.7 306 227.7C308.8 228.7 311.8 229.7 314 231.4C316.2 233.1 317.5 235.3 319 237.7C320.5 240 321.8 243.6 323 245.5C324.2 247.4 325.5 248.4 326 249C326.5 249.6 326.5 249.4 326 249C325.5 248.6 324.2 247.3 323 246.5C321.8 245.7 320.5 245.1 319 244.3C317.5 243.6 316.2 242.8 314 242C311.8 241.2 308.8 240.3 306 239.3C303.2 238.3 299.7 237 297 235.8C294.3 234.6 292.7 233.5 290 232.2C287.3 230.9 284.3 229.2 281 228.1C277.7 227 274 226 270 225.6C266 225.2 261.4 225.1 257 225.5C252.6 225.9 247.8 226.6 243.6 227.8C239.4 229.1 235.6 231.1 232 233C228.4 234.9 224.2 237.7 222 239C219.8 240.3 219.5 240.7 219 241C218.5 241.3 219 241 219 241" fill="#a50f45" stroke="none" stroke-linejoin="round"/>
<path d="M207.1 243.8h.7v.7h-.7zM207.1 240.9h.7v.7h-.7zM207.1 238.1h.7v.7h-.7zM207.1 235.3h.7v.7h-.7zM207.1 232.5h.7v.7h-.7zM207.1 229.7h.7v.7h-.7zM209.9 243.8h.7v.7h-.7zM209.9 240.9h.7v.7h-.7zM209.9 238.1h.7v.7h-.7zM209.9 235.3h.7v.7h-.7zM209.9 232.5h.7v.7h-.7zM209.9 229.7h.7v.7h-.7zM212.8 243.8h.7v.7h-.7zM212.8 240.9h.7v.7h-.7zM212.8 238.1h.7v.7h-.7zM212.8 235.3h.7v.7h-.7zM212.8 232.5h.7v.7h-.7zM212.8 229.7h.7v.7h-.7zM215.6 246.6h.7v.7h-.7zM215.6 243.8h.7v.7h-.7zM215.6 240.9h.7v.7h-.7zM215.6 238.1h.7v.7h-.7zM215.6 235.3h.7v.7h-.7zM215.6 232.5h.7v.7h-.7zM215.6 229.7h.7v.7h-.7zM218.4 246.6h.7v.7h-.7zM218.4 243.8h.7v.7h-.7zM218.4 240.9h.7v.7h-.7zM218.4 238.1h.7v.7h-.7zM218.4 235.3h.7v.7h-.7zM218.4 232.5h.7v.7h-.7zM218.4 229.7h.7v.7h-.7zM221.2 246.6h.7v.7h-.7zM221.2 243.8h.7v.7h-.7zM221.2 240.9h.7v.7h-.7zM221.2 238.1h.7v.7h-.7zM221.2 235.3h.7v.7h-.7zM221.2 232.5h.7v.7h-.7zM221.2 229.7h.7v.7h-.7zM224 246.6h.7v.7h-.7zM224 243.8h.7v.7h-.7zM224 240.9h.7v.7h-.7zM224 238.1h.7v.7h-.7zM224 235.3h.7v.7h-.7zM224 232.5h.7v.7h-.7zM224 229.7h.7v.7h-.7zM226.9 246.6h.7v.7h-.7zM226.9 243.8h.7v.7h-.7zM226.9 240.9h.7v.7h-.7zM226.9 238.1h.7v.7h-.7zM226.9 235.3h.7v.7h-.7zM226.9 232.5h.7v.7h-.7zM226.9 229.7h.7v.7h-.7zM229.7 246.6h.7v.7h-.7zM229.7 243.8h.7v.7h-.7zM229.7 240.9h.7v.7h-.7zM229.7 238.1h.7v.7h-.7zM229.7 235.3h.7v.7h-.7zM229.7 232.5h.7v.7h-.7zM232.5 246.6h.7v.7h-.7zM232.5 243.8h.7v.7h-.7zM232.5 240.9h.7v.7h-.7zM232.5 238.1h.7v.7h-.7zM232.5 235.3h.7v.7h-.7zM232.5 232.5h.7v.7h-.7zM235.3 246.6h.7v.7h-.7zM235.3 243.8h.7v.7h-.7zM235.3 240.9h.7v.7h-.7zM235.3 238.1h.7v.7h-.7zM235.3 235.3h.7v.7h-.7zM235.3 232.5h.7v.7h-.7zM238.2 246.6h.7v.7h-.7zM238.2 243.8h.7v.7h-.7zM238.2 240.9h.7v.7h-.7zM238.2 238.1h.7v.7h-.7zM238.2 235.3h.7v.7h-.7zM238.2 232.5h.7v.7h-.7zM238.2 229.7h.7v.7h-.7zM241 246.6h.7v.7h-.7zM241 243.8h.7v.7h-.7zM241 240.9h.7v.7h-.7zM241 238.1h.7v.7h-.7zM241 235.3h.7v.7h-.7zM241 232.5h.7v.7h-.7zM241 229.7h.7v.7h-.7zM243.8 246.6h.7v.7h-.7zM243.8 243.8h.7v.7h-.7zM243.8 240.9h.7v.7h-.7zM243.8 238.1h.7v.7h-.7zM243.8 235.3h.7v.7h-.7zM243.8 232.5h.7v.7h-.7zM243.8 229.7h.7v.7h-.7zM246.6 246.6h.7v.7h-.7zM246.6 243.8h.7v.7h-.7zM246.6 240.9h.7v.7h-.7zM246.6 238.1h.7v.7h-.7zM246.6 235.3h.7v.7h-.7zM246.6 232.5h.7v.7h-.7zM246.6 229.7h.7v.7h-.7zM249.5 246.6h.7v.7h-.7zM249.5 243.8h.7v.7h-.7zM249.5 240.9h.7v.7h-.7zM249.5 238.1h.7v.7h-.7zM249.5 235.3h.7v.7h-.7zM249.5 232.5h.7v.7h-.7zM249.5 229.7h.7v.7h-.7zM249.5 226.8h.7v.7h-.7zM252.3 246.6h.7v.7h-.7zM252.3 243.8h.7v.7h-.7zM252.3 240.9h.7v.7h-.7zM252.3 238.1h.7v.7h-.7zM252.3 235.3h.7v.7h-.7zM252.3 232.5h.7v.7h-.7zM252.3 229.7h.7v.7h-.7zM252.3 226.8h.7v.7h-.7zM255.1 246.6h.7v.7h-.7zM255.1 243.8h.7v.7h-.7zM255.1 240.9h.7v.7h-.7zM255.1 238.1h.7v.7h-.7zM255.1 235.3h.7v.7h-.7zM255.1 232.5h.7v.7h-.7zM255.1 229.7h.7v.7h-.7zM255.1 226.8h.7v.7h-.7zM257.9 246.6h.7v.7h-.7zM257.9 243.8h.7v.7h-.7zM257.9 240.9h.7v.7h-.7zM257.9 238.1h.7v.7h-.7zM257.9 235.3h.7v.7h-.7zM257.9 232.5h.7v.7h-.7zM257.9 229.7h.7v.7h-.7zM257.9 226.8h.7v.7h-.7zM260.8 246.6h.7v.7h-.7zM260.8 243.8h.7v.7h-.7zM260.8 240.9h.7v.7h-.7zM260.8 238.1h.7v.7h-.7zM260.8 235.3h.7v.7h-.7zM260.8 232.5h.7v.7h-.7zM260.8 229.7h.7v.7h-.7zM260.8 226.8h.7v.7h-.7zM263.6 246.6h.7v.7h-.7zM263.6 243.8h.7v.7h-.7zM263.6 240.9h.7v.7h-.7zM263.6 238.1h.7v.7h-.7zM263.6 235.3h.7v.7h-.7zM263.6 232.5h.7v.7h-.7zM263.6 229.7h.7v.7h-.7zM263.6 226.8h.7v.7h-.7zM266.4 246.6h.7v.7h-.7zM266.4 243.8h.7v.7h-.7zM266.4 240.9h.7v.7h-.7zM266.4 238.1h.7v.7h-.7zM266.4 235.3h.7v.7h-.7zM266.4 232.5h.7v.7h-.7zM266.4 229.7h.7v.7h-.7zM266.4 226.8h.7v.7h-.7zM269.2 246.6h.7v.7h-.7zM269.2 243.8h.7v.7h-.7zM269.2 240.9h.7v.7h-.7zM269.2 238.1h.7v.7h-.7zM269.2 235.3h.7v.7h-.7zM269.2 232.5h.7v.7h-.7zM269.2 229.7h.7v.7h-.7zM269.2 226.8h.7v.7h-.7zM272 246.6h.7v.7h-.7zM272 243.8h.7v.7h-.7zM272 240.9h.7v.7h-.7zM272 238.1h.7v.7h-.7zM272 235.3h.7v.7h-.7zM272 232.5h.7v.7h-.7zM272 229.7h.7v.7h-.7zM272 226.8h.7v.7h-.7zM274.9 246.6h.7v.7h-.7zM274.9 243.8h.7v.7h-.7zM274.9 240.9h.7v.7h-.7zM274.9 238.1h.7v.7h-.7zM274.9 235.3h.7v.7h-.7zM274.9 232.5h.7v.7h-.7zM274.9 229.7h.7v.7h-.7zM274.9 226.8h.7v.7h-.7zM277.7 246.6h.7v.7h-.7zM277.7 243.8h.7v.7h-.7zM277.7 240.9h.7v.7h-.7zM277.7 238.1h.7v.7h-.7zM277.7 235.3h.7v.7h-.7zM277.7 232.5h.7v.7h-.7zM277.7 229.7h.7v.7h-.7zM277.7 226.8h.7v.7h-.7zM280.5 246.6h.7v.7h-.7zM280.5 243.8h.7v.7h-.7zM280.5 240.9h.7v.7h-.7zM280.5 238.1h.7v.7h-.7zM280.5 235.3h.7v.7h-.7zM280.5 232.5h.7v.7h-.7zM280.5 229.7h.7v.7h-.7zM280.5 226.8h.7v.7h-.7zM283.3 249.4h.7v.7h-.7zM283.3 246.6h.7v.7h-.7zM283.3 243.8h.7v.7h-.7zM283.3 240.9h.7v.7h-.7zM283.3 238.1h.7v.7h-.7zM283.3 235.3h.7v.7h-.7zM283.3 232.5h.7v.7h-.7zM283.3 229.7h.7v.7h-.7zM283.3 226.8h.7v.7h-.7zM286.2 249.4h.7v.7h-.7zM286.2 246.6h.7v.7h-.7zM286.2 243.8h.7v.7h-.7zM286.2 240.9h.7v.7h-.7zM286.2 238.1h.7v.7h-.7zM286.2 235.3h.7v.7h-.7zM286.2 232.5h.7v.7h-.7zM286.2 229.7h.7v.7h-.7zM286.2 226.8h.7v.7h-.7zM289 249.4h.7v.7h-.7zM289 246.6h.7v.7h-.7zM289 243.8h.7v.7h-.7zM289 240.9h.7v.7h-.7zM289 238.1h.7v.7h-.7zM289 235.3h.7v.7h-.7zM289 232.5h.7v.7h-.7zM289 229.7h.7v.7h-.7zM289 226.8h.7v.7h-.7zM291.8 249.4h.7v.7h-.7zM291.8 246.6h.7v.7h-.7zM291.8 243.8h.7v.7h-.7zM291.8 240.9h.7v.7h-.7zM291.8 238.1h.7v.7h-.7zM291.8 235.3h.7v.7h-.7zM291.8 232.5h.7v.7h-.7zM291.8 229.7h.7v.7h-.7zM294.6 252.2h.7v.7h-.7zM294.6 249.4h.7v.7h-.7zM294.6 246.6h.7v.7h-.7zM294.6 243.8h.7v.7h-.7zM294.6 240.9h.7v.7h-.7zM294.6 238.1h.7v.7h-.7zM294.6 235.3h.7v.7h-.7zM294.6 232.5h.7v.7h-.7zM294.6 229.7h.7v.7h-.7zM297.5 252.2h.7v.7h-.7zM297.5 249.4h.7v.7h-.7zM297.5 246.6h.7v.7h-.7zM297.5 243.8h.7v.7h-.7zM297.5 240.9h.7v.7h-.7zM297.5 238.1h.7v.7h-.7zM297.5 235.3h.7v.7h-.7zM297.5 232.5h.7v.7h-.7zM297.5 229.7h.7v.7h-.7zM300.3 252.2h.7v.7h-.7zM300.3 249.4h.7v.7h-.7zM300.3 246.6h.7v.7h-.7zM300.3 243.8h.7v.7h-.7zM300.3 240.9h.7v.7h-.7zM300.3 238.1h.7v.7h-.7zM300.3 235.3h.7v.7h-.7zM300.3 232.5h.7v.7h-.7zM303.1 252.2h.7v.7h-.7zM303.1 249.4h.7v.7h-.7zM303.1 246.6h.7v.7h-.7zM303.1 243.8h.7v.7h-.7zM303.1 240.9h.7v.7h-.7zM303.1 238.1h.7v.7h-.7zM303.1 235.3h.7v.7h-.7zM303.1 232.5h.7v.7h-.7zM305.9 252.2h.7v.7h-.7zM305.9 249.4h.7v.7h-.7zM305.9 246.6h.7v.7h-.7zM305.9 243.8h.7v.7h-.7zM305.9 240.9h.7v.7h-.7zM305.9 238.1h.7v.7h-.7zM305.9 235.3h.7v.7h-.7zM308.7 252.2h.7v.7h-.7zM308.7 249.4h.7v.7h-.7zM308.7 246.6h.7v.7h-.7zM308.7 243.8h.7v.7h-.7zM308.7 240.9h.7v.7h-.7zM308.7 238.1h.7v.7h-.7zM311.6 252.2h.7v.7h-.7zM311.6 249.4h.7v.7h-.7zM311.6 246.6h.7v.7h-.7zM311.6 243.8h.7v.7h-.7zM311.6 240.9h.7v.7h-.7zM311.6 238.1h.7v.7h-.7zM314.4 252.2h.7v.7h-.7zM314.4 249.4h.7v.7h-.7zM314.4 246.6h.7v.7h-.7zM314.4 243.8h.7v.7h-.7zM314.4 240.9h.7v.7h-.7zM317.2 249.4h.7v.7h-.7zM317.2 246.6h.7v.7h-.7zM317.2 243.8h.7v.7h-.7zM320 249.4h.7v.7h-.7zM215.6 274.8h.7v.7h-.7zM215.6 271.9h.7v.7h-.7zM215.6 269.1h.7v.7h-.7zM215.6 266.3h.7v.7h-.7zM215.6 263.5h.7v.7h-.7zM218.4 274.8h.7v.7h-.7zM218.4 271.9h.7v.7h-.7zM218.4 269.1h.7v.7h-.7zM218.4 266.3h.7v.7h-.7zM218.4 263.5h.7v.7h-.7zM221.2 274.8h.7v.7h-.7zM221.2 271.9h.7v.7h-.7zM221.2 269.1h.7v.7h-.7zM221.2 266.3h.7v.7h-.7zM221.2 263.5h.7v.7h-.7zM263.6 269.1h.7v.7h-.7zM263.6 266.3h.7v.7h-.7zM263.6 263.5h.7v.7h-.7zM263.6 260.7h.7v.7h-.7zM263.6 257.8h.7v.7h-.7zM263.6 255h.7v.7h-.7zM266.4 269.1h.7v.7h-.7zM266.4 266.3h.7v.7h-.7zM266.4 263.5h.7v.7h-.7zM266.4 260.7h.7v.7h-.7zM266.4 257.8h.7v.7h-.7zM266.4 255h.7v.7h-.7zM269.2 269.1h.7v.7h-.7zM269.2 266.3h.7v.7h-.7zM269.2 263.5h.7v.7h-.7zM269.2 260.7h.7v.7h-.7zM269.2 257.8h.7v.7h-.7zM269.2 255h.7v.7h-.7zM272 269.1h.7v.7h-.7zM272 266.3h.7v.7h-.7zM272 263.5h.7v.7h-.7zM272 260.7h.7v.7h-.7zM272 257.8h.7v.7h-.7zM272 255h.7v.7h-.7zM274.9 269.1h.7v.7h-.7zM274.9 266.3h.7v.7h-.7zM274.9 263.5h.7v.7h-.7zM274.9 260.7h.7v.7h-.7zM274.9 257.8h.7v.7h-.7zM274.9 255h.7v.7h-.7zM226.9 294.5h.7v.7h-.7zM226.9 291.7h.7v.7h-.7zM226.9 288.8h.7v.7h-.7zM229.7 294.5h.7v.7h-.7zM229.7 291.7h.7v.7h-.7zM229.7 288.8h.7v.7h-.7zM232.5 294.5h.7v.7h-.7zM232.5 291.7h.7v.7h-.7zM232.5 288.8h.7v.7h-.7z" fill="#333" opacity="0.8"/>
<polyline points="232.9,211.1 230,212.8 225.2,213.1 223.6,215.6 218.8,216.8 215.1,218.2 211.7,220.2 213.4,222.4 215.6,223.5 217.9,223.8 221.6,225.8 222.7,228 224.1,229.5 227.2,228.9 230,229.5 232.6,228.9 235.7,229.7 236.5,231.7 234.3,233.7 232,235.4 228.6,236.8 224.7,237.9 221.3,239.3 218.5,240.4 221.3,239.9 224.1,238.8 227.2,238.2 230,237.3 233.2,236.5 236.3,235.1 238.8,233.7 241.6,232.3 245,230.3 247.5,228.9 248.4,227.2 250.7,225.2 252.3,223.8 256,222.4 254.6,224.1 252.9,224.9 252.3,226.9 254,228 256.9,226.9 259.7,225.8 261.7,224.1 263.9,223.3 267,223.3 269.6,224.4 272.7,225.8 276.6,225.8 280.9,226.1 284.3,226.6 286.8,227.5 289.9,228.6 293,230 295.5,230.9 297.8,232.8 300.1,235.4 302.6,237.6 306,239.6 309.7,241 312.5,242.1 313.9,244.4 316.2,246.1 319,248.3 320.1,250.3 319.3,252.3 321.8,253.7 324.6,255.1 326.9,256.8 329.1,257.9 328.3,259 329.7,261.9 330.3,264.7 330.3,268.1 330,270.9 329.1,273.7 329.7,276.5 329.7,279.3 330.3,281.3 330.8,283.6 331.4,285.2 333.1,287.2 334.5,288.3 334.8,290 336.2,291.7 337.6,294 339.3,295.7 339.9,297.4 342.7,297.9 345.5,299.1 346.6,299.9 348.3,301 349.5,302.7 350,303.8 351.2,305.5 352.3,307.5 353.4,309.5 354.8,311.5 356.8,313.7 358.2,316 357.9,317.1 360.2,319.1 362.5,320.8 363.6,322.7 363.9,325 365.8,326.4 368.1,328.4 369.8,330.3 371.5,330.1" fill="none" stroke="#333" stroke-width="0.45" stroke-linejoin="round"/>
<polyline points="371.5,330.1 370.6,327.8 369,326.4 368.1,324.7 366.7,322.2 365.3,320.2 363.9,318.2 362.2,316.2 361,314.3 359.6,312.3 357.9,310.3 356.8,308.1 356.2,305.5 357.9,306.1 359.9,306.7 361.6,307.8 362.5,309.8 363.6,311.7 365.3,313.7 367,316 368.4,317.4 370.1,318.8 371.5,320.5 372.3,322.7" fill="none" stroke="#333" stroke-width="0.45" stroke-linejoin="round"/>
<polyline points="352.9,303 355.1,304.1 357.4,307.5 359.6,309.2 361.3,311.5 363,314.3 364.7,317.1 366.4,319.3 368.7,321.6 370.4,323.9" fill="none" stroke="#333" stroke-width="0.45" stroke-linejoin="round"/>
<polyline points="204.4,211.1 206.6,212 210.6,212.8 214,213.1 217.9,212.8 221.9,212.5 224.1,211.1" fill="none" stroke="#333" stroke-width="0.45" stroke-linejoin="round"/>
<polyline points="347.8,221.8 351.4,222.7 354.3,222.7 357.4,221.3 360.8,220.4 363.3,219.9 366.4,219 369.2,218.5 369.8,217.6 366.1,218.5 362.7,219 359.9,219.3 357.1,219 355.7,217.6 354,218.7 350.6,220.7 347.8,221.8" fill="none" stroke="#333" stroke-width="0.45" stroke-linejoin="round"/>
<polyline points="331.4,218.5 332.2,219.6 334.2,220.4 337.3,220.4" fill="none" stroke="#333" stroke-width="0.45" stroke-linejoin="round"/>
<polyline points="280.9,226.1 281.3,225.6 281.7,225.1 281.9,225.9 282.2,226.6 282.5,226.7 282.9,226.4 283.3,226.3 283.6,226.2 283.8,227 284.2,226.7 284.8,226.2 285.1,226.6 285.4,226.8 285.6,227.3 286.1,227.2 286.6,226.8 286.9,227.2 287.1,227.7 287.6,227.5 287.8,227.9 287.8,228.9 288.4,228.5 288.8,228.3 288.8,229.4 289.2,229.6 289.7,229.1 289.9,229.4 290.1,229.9 290.6,229.6 291.3,228.8 291.6,229.1 291.6,229.8 292,229.7 292.6,229.3 292.8,229.7 293,229.9 293.6,229.5 293.8,229.9 294,230.8 294.4,230.7 294.9,230.4 295.4,230.2 295.5,230.9 295.3,231.7 295.7,231.8 295.7,232.4 296.2,232.4 297.1,231.9 297.2,232.4 297.7,232.4 298.5,232.2 298.5,232.7 298.6,233.1 298.9,233.2 298.6,234 298.7,234.3 299.5,234 299,234.9 299.2,235.3 299.9,235.1 300.2,235.2 300.4,235.5 300.4,236 300.9,235.9 300.9,236.4 301.3,236.6 301.7,236.6 302,236.8 302.1,237.2 302.5,237.2 303,237.1 303,237.7 303.3,237.8 303.9,237.5 304.5,237.2 304.2,238.4 304.3,239 305,238.4 305.1,238.9 305.1,239.6 305.7,239.3 306,239.6 306.2,240 306.9,239.1 306.9,240.1 307,240.9 307.4,240.9 307.8,240.8 308.6,239.8 309.2,239.2 309,240.7 309,241.8 309.7,241 310.4,240.3 310.7,240.5 310.7,241.6 311,241.7 311.5,241.6 311.7,241.9 312,242.4 312.4,242.2 312.9,242.3 313,242.7 313,243.2 312.8,243.8 312.9,244.1 314,243.9 314.2,244.1 313.8,245.1 314.4,244.8 315.2,244.4 315.7,244.4 315.9,244.7 315.5,245.8 315.4,246.5 316.1,246.1 317.5,245 317.2,246 316.6,247.2 317.3,247 317.5,247.3 317.6,247.8 318,247.9 318.4,247.9 319,247.7 319.3,248 319.5,248.5 319.5,248.9 319.5,249.3 319.1,250 318.6,250.7 319.9,250.5 320.4,250.5 320.6,250.9 321.2,250.8 321.7,250.9 322,251.1 322.1,251.5 322,252 322,252.7 322.3,253.1 322.7,253.1 322.9,253.4 323.3,253.5 323.8,253.2 324.2,253 324.5,253.2 324.6,254.2 324.9,254.2 325.5,253.5 326.1,253.2 326.4,253.3 326.4,254.1 326.5,254.7 327.3,253.9 327.9,253.5 328.2,253.7 328.8,253.3 328.6,254.5 328.6,255.3 329.1,255 329.5,255.1 329.8,255.2 330,255.5 330.3,255.8 330.3,256.6 330.5,256.8 331,256.7 331.4,256.8 331.8,256.9 332.2,256.8 332.8,256.5" fill="none" stroke="#222" stroke-width="0.45" stroke-linejoin="round"/>
<polyline points="292.2,228.6 292.6,228.1 293.1,227.7 293.4,228 293.8,227.5 294,228.7 294.1,230.1 294.4,230.3 294.7,230 295.5,228.8 295.9,228.9 296.1,229.3 296,230.5 296.3,230.8 296.8,230.4 297.5,229.6 298.2,228.7 298.4,229.3 298.5,230 298.8,230.3 299.4,230.2 299.3,230.8 299.2,231.6 299.6,231.7 299.8,231.9 299.9,232.4 300.3,232.4 300.6,232.7 301.2,232.3 301.2,233 301.5,233.1 302.1,232.8 301.9,233.7 301.9,234.3 302.4,234.3 303,233.9 303.4,234 303.6,234.3 303.9,234.5 305,233.6 305.4,233.7 304.8,235 305.3,235 305.7,235 305.9,235.4 306.4,235.3 306.4,236 305.7,237.4 306.1,237.6 307.2,236.6 307.5,236.7 307.8,237 308.5,236.4 308.5,237.1 308.9,237.1 309.8,236.2 310.1,236.4 310.3,236.8 310.5,237 311,236.5 311.2,237.1 311,238.5 311.5,238.4 311.6,239.1 311.5,240.4 311.9,240.5 312.6,239.6 313.4,239.3 312.7,240.3 311.8,241.4 312.6,241.2 313.6,240.9 313.9,241.1 314.6,241.1 315.3,240.8 315.3,241.1 315.3,241.6 315.1,242.4 314.8,243.5 315.5,243.1 316.5,242.4 316.9,242.4 317.2,242.7 317.6,242.9 317.9,243.1 317.1,244.4 316.7,245.3 317.9,244.6 318.7,244.3 318.1,245.4 318.6,245.4 319.3,245.2 318.9,246.1 319.5,246 320.2,245.8 319.7,246.8 320,247 320.9,246.6 320.4,247.6 320.5,248 320.3,248.9 320.5,249.3 321.6,248.4 321.9,248.7 322,249.1 322.5,249.1 322.9,249.1 323.6,248.8 323.9,249.1 323.7,249.9 324.2,249.8 325.3,248.8 325.2,249.5 325,250.4 324.8,251.3 325.4,251 326.5,250.1 326.7,250.3 326.8,250.9 326.2,252.3 326.8,252 327.7,251.3 327.4,252.4 326.9,253.7 327.7,253.2 328.4,252.8 329.4,251.9 329.6,252.3 328.7,254.1 329.2,254 329.1,254.8 329.1,255.3 330.5,254 331.1,253.8 330.6,255.1 330.4,255.9 331.2,255.5 332.1,254.8" fill="none" stroke="#333" stroke-width="0.4" stroke-linejoin="round"/>
<polyline points="304.9,242 305.2,242.8 305.6,243 306,242.3 306.4,242.3 306.8,242.2 307.4,242.2 307.7,242.7 307.6,243.3 308,243.5 308.4,243.6 308.5,244.1 308.6,244.5 309,244.7 309.4,244.9 309.4,245.4 309.4,245.8 309.3,246.3 309.9,246.4 310,246.9 309.7,247.1 309.6,247.5 309.5,247.9 308.9,248.6 308.2,247.9 308,247.6 307.9,247.1 307.6,246.9 307.4,246.5 307.3,246.1 306.6,246.3 306.4,246 306.4,245.5 306.4,245 306.1,244.8 305.5,244.8 305,244.6 305.2,244.1 305.6,243.6 305.3,243.4 305.2,243 305.4,242.6 305.2,242.3" fill="none" stroke="#333" stroke-width="0.4" stroke-linejoin="round"/>
<polyline points="317.9,251.6 318.2,251.9 318.3,252.5 318.5,253.1 319,253 319.7,252.1 320,252.2 320.3,252.5 320.7,252.4 321,252.8 321.4,252.6 321.8,252.7 321.9,253.3 322.6,252.6 322.9,252.9 323,253.6 323.3,253.8 323.7,253.9 323.9,254.4 324,254.7 324.8,254.1 325.2,254.1 325.2,254.7 325.5,254.9 325.9,254.9 326.1,255.2 326.4,255.3 326.5,255.9 326.7,256.1 327.2,256.1 327.5,256.3 327.8,256.4 327.9,256.9 328.1,257.1 328.4,257.4 328.9,257.4 329.3,257.3 329.6,257.4 329.9,257.8 330.3,257.7 330.7,257.7 331,257.9 331.5,257.7 331.6,258.4 332.1,258.6 331.8,258.2 331.5,257.9 330.9,257.9 330.7,257.7 330.5,257.4 330.6,256.8 330.4,256.5 329.9,256.5 329.5,256.5 329.4,256.1 329.2,255.8 328.7,255.8 328.7,255.2 328.7,254.7 328.1,254.8 327.8,254.6 327.8,254.1 327.2,254.3 326.7,254.3 326.6,253.9 326.3,253.7 326,253.4 325.8,253.1 325.5,252.9 325.1,253 324.5,253.2 324.3,252.8 324.2,252.3 323.8,252.2 323.5,251.8 323.2,251.9 322.7,252.3 322.4,251.9 322.1,251.8 321.7,251.8 321.3,251.8 320.9,252.1 320.7,251.6 320.3,250.9 319.9,250.9 319.6,251.1 319.2,250.9 318.9,251.2 318.6,251.9 318.2,252 317.8,251.6" fill="none" stroke="#333" stroke-width="0.4" stroke-linejoin="round"/>
<polyline points="243.2,234 243.5,234.3 244,234.1 244.4,234.1 244.7,234.2 245.2,234.1 245.4,234.7 245.7,234.8 246.1,234.7 246.3,234.4 246.6,234 247.1,234.4 247.5,234.4 247.7,234.1 248,233.9 248.3,233.5 248.6,233.4 248.9,233.2 249.2,233 249.7,233.3 250.2,233.6 251,233.5 250.6,232.7 250.1,232.5 249.7,232.2 250,231.8 250.2,231.3 249.7,231.2 249.4,231.1 249.1,230.7 248.7,230.9 248.3,231.2 247.9,231 247.6,231.2 247.3,231.5 246.8,231.2 246.5,231.6 246.3,232.2 245.9,232.1 245.4,232 244.9,231.7 244.3,231.7 244.1,232.3 244.2,232.8 243.8,233 243.8,233.6 243.7,234" fill="none" stroke="#333" stroke-width="0.4" stroke-linejoin="round"/>
<polyline points="236.9,229.4 236.9,229.8 237.3,230.4 237.2,230.7 237.3,231.2 236.7,231.2 236.1,231.3 236,231.7 235.2,231.6 234.9,231.9 235.3,232.4 235,232.5 234.6,232.6 234.7,233.4 234.6,233.8 234.2,233.8 233.9,233.9 233.5,233.9 232.8,233.5 232.7,234 232.5,234.2 232,234.1 231.9,234.7 231.5,234.9 231.3,235.1 230.9,235.1 230.6,235.5 230.1,235.4 229.8,235.5 229.4,235.5 229.1,235.8 228.9,236.3 228.5,236.1 228.4,236.9 227.8,236.2 227.3,235.7 227.3,236.7 227.1,237.2 226.8,237.6 226.5,237.6 226,237.5 225.6,237.4 225.3,237.5 224.9,237.6 224.7,237.9 224.4,238.1 224,238.1 223.8,238.7 223.5,238.9 223,238.4 222.5,238.1 222.3,238.6 221.9,238.5" fill="none" stroke="#444" stroke-width="0.4" stroke-linejoin="round"/>
<polyline points="240.2,337.9 242.5,338.8 243.3,339.9 241.1,341.5 240.1,340.2 240.2,337.9" fill="none" stroke="#444" stroke-width="0.4" stroke-linejoin="round"/>
<polyline points="238,335.8 239.9,336.3 238.8,337 238,335.8" fill="none" stroke="#444" stroke-width="0.4" stroke-linejoin="round"/>
<polyline points="233.4,334 235.1,334.8 234,334.8 233.4,334" fill="none" stroke="#444" stroke-width="0.4" stroke-linejoin="round"/>
<polyline points="229.2,332.3 230.6,332.3 230,333.2 229.2,332.3" fill="none" stroke="#444" stroke-width="0.4" stroke-linejoin="round"/>
<polyline points="332.5,256.8 375.4,256.8" fill="none" stroke="#999" stroke-width="0.5" stroke-linejoin="round"/>
<polyline points="282.3,210.3 282.3,224.9" fill="none" stroke="#666" stroke-width="0.4" stroke-linejoin="round"/>
<polyline points="349.8,303.1 356.5,302.7 366.7,306.7 374.9,306.7" fill="none" stroke="#555" stroke-width="0.45" stroke-linejoin="round"/>
<polygon points="290.5,214.4 324.3,239.9 307.4,254.3 273.5,231.4" fill="none" stroke="#222" stroke-width="0.85"/>
<polygon points="324.1,256.2 341.6,256.2 341.6,273.7 324.1,273.7" fill="none" stroke="#222" stroke-width="0.85"/>
<polygon points="228.6,324.7 256.9,324.7 256.9,344.7 228.6,344.7" fill="none" stroke="#222" stroke-width="0.85"/>
</g>
<rect x="200.4" y="211.7" width="169.4" height="140.9" fill="none" stroke="#555" stroke-width="0.9"/>
<text x="198.1" y="340.4" font-size="5.6" font-family='"Liberation Serif", serif' text-anchor="end" fill="#333">20°N</text>
<text x="198.1" y="312.2" font-size="5.6" font-family='"Liberation Serif", serif' text-anchor="end" fill="#333">30°N</text>
<text x="198.1" y="284" font-size="5.6" font-family='"Liberation Serif", serif' text-anchor="end" fill="#333">40°N</text>
<text x="198.1" y="255.9" font-size="5.6" font-family='"Liberation Serif", serif' text-anchor="end" fill="#333">50°N</text>
<text x="198.1" y="227.7" font-size="5.6" font-family='"Liberation Serif", serif' text-anchor="end" fill="#333">60°N</text>
<text x="200.5" y="358.2" font-size="5.4" font-family='"Liberation Serif", serif' text-anchor="middle" fill="#333" letter-spacing="0.28">170°W</text>
<text x="228.8" y="358.2" font-size="5.4" font-family='"Liberation Serif", serif' text-anchor="middle" fill="#333" letter-spacing="0.28">160°W</text>
<text x="257" y="358.2" font-size="5.4" font-family='"Liberation Serif", serif' text-anchor="middle" fill="#333" letter-spacing="0.28">150°W</text>
<text x="285.2" y="358.2" font-size="5.4" font-family='"Liberation Serif", serif' text-anchor="middle" fill="#333" letter-spacing="0.28">140°W</text>
<text x="313.5" y="358.2" font-size="5.4" font-family='"Liberation Serif", serif' text-anchor="middle" fill="#333" letter-spacing="0.28">130°W</text>
<text x="341.7" y="358.2" font-size="5.4" font-family='"Liberation Serif", serif' text-anchor="middle" fill="#333" letter-spacing="0.28">120°W</text>
<text x="369.9" y="358.2" font-size="5.4" font-family='"Liberation Serif", serif' text-anchor="middle" fill="#333" letter-spacing="0.28">110°W</text>
<text x="285.1" y="210.8" font-size="6.6" font-family='"Liberation Serif", serif' text-anchor="middle" fill="#111">Historical trend of other Pacific AR related precipitation</text>
<text x="19.4" y="24.8" font-size="14.5" font-family='"Liberation Serif", serif' text-anchor="start" fill="#000" font-weight="bold">a</text>
<text x="205.6" y="24.8" font-size="14.5" font-family='"Liberation Serif", serif' text-anchor="start" fill="#000" font-weight="bold">b</text>
<text x="19" y="228.9" font-size="14.5" font-family='"Liberation Serif", serif' text-anchor="start" fill="#000" font-weight="bold">d</text>
<text x="205.6" y="227.6" font-size="14.5" font-family='"Liberation Serif", serif' text-anchor="start" fill="#000" font-weight="bold">e</text>
<rect x="19.7" y="157.9" width="22.1" height="3.8" fill="#3a70e8"/>
<rect x="41.5" y="157.9" width="22.1" height="3.8" fill="#12b0e0"/>
<rect x="63.2" y="157.9" width="22.1" height="3.8" fill="#40e0c8"/>
<rect x="85" y="157.9" width="22.1" height="3.8" fill="#a8e888"/>
<rect x="106.7" y="157.9" width="22.1" height="3.8" fill="#f0b868"/>
<rect x="128.5" y="157.9" width="22.1" height="3.8" fill="#f88040"/>
<rect x="150.2" y="157.9" width="22.1" height="3.8" fill="#f02818"/>
<text x="30.6" y="169.3" font-size="6.4" font-family='"Liberation Serif", serif' text-anchor="middle" fill="#111">1</text>
<text x="52.3" y="169.3" font-size="6.4" font-family='"Liberation Serif", serif' text-anchor="middle" fill="#111">1.5</text>
<text x="74.1" y="169.3" font-size="6.4" font-family='"Liberation Serif", serif' text-anchor="middle" fill="#111">2</text>
<text x="95.9" y="169.3" font-size="6.4" font-family='"Liberation Serif", serif' text-anchor="middle" fill="#111">2.5</text>
<text x="117.6" y="169.3" font-size="6.4" font-family='"Liberation Serif", serif' text-anchor="middle" fill="#111">3</text>
<text x="139.4" y="169.3" font-size="6.4" font-family='"Liberation Serif", serif' text-anchor="middle" fill="#111">3.5</text>
<text x="161.1" y="169.3" font-size="6.4" font-family='"Liberation Serif", serif' text-anchor="middle" fill="#111">4</text>
<text x="92.5" y="175.6" font-size="6.7" font-family='"Liberation Serif", serif' text-anchor="middle" fill="#111">&quot;Pineapple express&quot; AR climatology (contour)</text>
<rect x="205.1" y="157.9" width="22.1" height="3.8" fill="#3a70e8"/>
<rect x="226.9" y="157.9" width="22.1" height="3.8" fill="#12b0e0"/>
<rect x="248.7" y="157.9" width="22.1" height="3.8" fill="#40e0c8"/>
<rect x="270.5" y="157.9" width="22.1" height="3.8" fill="#a8e888"/>
<rect x="292.3" y="157.9" width="22.1" height="3.8" fill="#f0b868"/>
<rect x="314.1" y="157.9" width="22.1" height="3.8" fill="#f88040"/>
<rect x="335.9" y="157.9" width="22.1" height="3.8" fill="#f02818"/>
<text x="216" y="169.3" font-size="6.4" font-family='"Liberation Serif", serif' text-anchor="middle" fill="#111">5</text>
<text x="237.8" y="169.3" font-size="6.4" font-family='"Liberation Serif", serif' text-anchor="middle" fill="#111">9</text>
<text x="259.6" y="169.3" font-size="6.4" font-family='"Liberation Serif", serif' text-anchor="middle" fill="#111">13</text>
<text x="281.4" y="169.3" font-size="6.4" font-family='"Liberation Serif", serif' text-anchor="middle" fill="#111">17</text>
<text x="303.2" y="169.3" font-size="6.4" font-family='"Liberation Serif", serif' text-anchor="middle" fill="#111">21</text>
<text x="325" y="169.3" font-size="6.4" font-family='"Liberation Serif", serif' text-anchor="middle" fill="#111">25</text>
<text x="346.8" y="169.3" font-size="6.4" font-family='"Liberation Serif", serif' text-anchor="middle" fill="#111">29</text>
<text x="288" y="175.6" font-size="6.7" font-family='"Liberation Serif", serif' text-anchor="middle" fill="#111">Other Pacific AR climatology (contour)</text>
<polygon points="50.7,181.4 64,178.8 64,184" fill="#313695"/>
<polygon points="338.5,181.4 326,178.8 326,184" fill="#d42f28"/>
<rect x="63.5" y="178.8" width="16.7" height="5.2" fill="#313695"/>
<rect x="79.9" y="178.8" width="16.7" height="5.2" fill="#3d5ba7"/>
<rect x="96.4" y="178.8" width="16.7" height="5.2" fill="#4d7fb9"/>
<rect x="112.8" y="178.8" width="16.7" height="5.2" fill="#74add1"/>
<rect x="129.2" y="178.8" width="16.7" height="5.2" fill="#9ccde4"/>
<rect x="145.7" y="178.8" width="16.7" height="5.2" fill="#c4e4ef"/>
<rect x="162.1" y="178.8" width="16.7" height="5.2" fill="#e4f4ec"/>
<rect x="178.6" y="178.8" width="16.7" height="5.2" fill="#ffffff"/>
<rect x="195" y="178.8" width="16.7" height="5.2" fill="#ffffff"/>
<rect x="211.4" y="178.8" width="16.7" height="5.2" fill="#f7f8c9"/>
<rect x="227.9" y="178.8" width="16.7" height="5.2" fill="#fee79a"/>
<rect x="244.3" y="178.8" width="16.7" height="5.2" fill="#fdc676"/>
<rect x="260.8" y="178.8" width="16.7" height="5.2" fill="#fca85e"/>
<rect x="277.2" y="178.8" width="16.7" height="5.2" fill="#f67f4b"/>
<rect x="293.6" y="178.8" width="16.7" height="5.2" fill="#e7573a"/>
<rect x="310.1" y="178.8" width="16.7" height="5.2" fill="#d42f28"/>
<rect x="63.5" y="178.8" width="263" height="5.2" fill="none" stroke="#ddd" stroke-width="0.3"/>
<line x1="63.5" y1="182.8" x2="63.5" y2="184" stroke="#333" stroke-width="0.4"/>
<text x="63.5" y="189.9" font-size="5.9" font-family='"Liberation Serif", serif' text-anchor="middle" fill="#222">−1.2</text>
<line x1="96.4" y1="182.8" x2="96.4" y2="184" stroke="#333" stroke-width="0.4"/>
<text x="96.4" y="189.9" font-size="5.9" font-family='"Liberation Serif", serif' text-anchor="middle" fill="#222">−0.9</text>
<line x1="129.2" y1="182.8" x2="129.2" y2="184" stroke="#333" stroke-width="0.4"/>
<text x="129.2" y="189.9" font-size="5.9" font-family='"Liberation Serif", serif' text-anchor="middle" fill="#222">−0.6</text>
<line x1="162.1" y1="182.8" x2="162.1" y2="184" stroke="#333" stroke-width="0.4"/>
<text x="162.1" y="189.9" font-size="5.9" font-family='"Liberation Serif", serif' text-anchor="middle" fill="#222">−0.3</text>
<line x1="195" y1="182.8" x2="195" y2="184" stroke="#333" stroke-width="0.4"/>
<text x="195" y="189.9" font-size="5.9" font-family='"Liberation Serif", serif' text-anchor="middle" fill="#222">0.0</text>
<line x1="227.9" y1="182.8" x2="227.9" y2="184" stroke="#333" stroke-width="0.4"/>
<text x="227.9" y="189.9" font-size="5.9" font-family='"Liberation Serif", serif' text-anchor="middle" fill="#222">0.3</text>
<line x1="260.8" y1="182.8" x2="260.8" y2="184" stroke="#333" stroke-width="0.4"/>
<text x="260.8" y="189.9" font-size="5.9" font-family='"Liberation Serif", serif' text-anchor="middle" fill="#222">0.6</text>
<line x1="293.6" y1="182.8" x2="293.6" y2="184" stroke="#333" stroke-width="0.4"/>
<text x="293.6" y="189.9" font-size="5.9" font-family='"Liberation Serif", serif' text-anchor="middle" fill="#222">0.9</text>
<line x1="326.5" y1="182.8" x2="326.5" y2="184" stroke="#333" stroke-width="0.4"/>
<text x="326.5" y="189.9" font-size="5.9" font-family='"Liberation Serif", serif' text-anchor="middle" fill="#222">1.2</text>
<text x="195.1" y="195.4" font-size="6.0" font-family='"Liberation Serif", serif' text-anchor="middle" fill="#222">AR trend (% per decade)</text>
<polygon points="33.2,367.6 47.3,364.7 47.3,370.5" fill="#5556a5"/>
<polygon points="338.9,367.6 325.3,364.7 325.3,370.5" fill="#a50f45"/>
<rect x="46.8" y="364.7" width="15.8" height="5.8" fill="#5556a5"/>
<rect x="62.3" y="364.7" width="15.8" height="5.8" fill="#3a88bc"/>
<rect x="77.8" y="364.7" width="15.8" height="5.8" fill="#4ea8b0"/>
<rect x="93.3" y="364.7" width="15.8" height="5.8" fill="#6ec4a6"/>
<rect x="108.8" y="364.7" width="15.8" height="5.8" fill="#a0d8a4"/>
<rect x="124.3" y="364.7" width="15.8" height="5.8" fill="#c8e8a0"/>
<rect x="139.8" y="364.7" width="15.8" height="5.8" fill="#e4f3a0"/>
<rect x="155.3" y="364.7" width="15.8" height="5.8" fill="#f7fabb"/>
<rect x="170.8" y="364.7" width="15.8" height="5.8" fill="#ffffff"/>
<rect x="186.3" y="364.7" width="15.8" height="5.8" fill="#ffffff"/>
<rect x="201.8" y="364.7" width="15.8" height="5.8" fill="#fee99a"/>
<rect x="217.3" y="364.7" width="15.8" height="5.8" fill="#fdd680"/>
<rect x="232.8" y="364.7" width="15.8" height="5.8" fill="#fdb96a"/>
<rect x="248.3" y="364.7" width="15.8" height="5.8" fill="#fa9858"/>
<rect x="263.8" y="364.7" width="15.8" height="5.8" fill="#f37148"/>
<rect x="279.3" y="364.7" width="15.8" height="5.8" fill="#df504a"/>
<rect x="294.8" y="364.7" width="15.8" height="5.8" fill="#c7344b"/>
<rect x="310.3" y="364.7" width="15.8" height="5.8" fill="#a50f45"/>
<rect x="46.8" y="364.7" width="279" height="5.8" fill="none" stroke="#ddd" stroke-width="0.3"/>
<line x1="62.3" y1="369.3" x2="62.3" y2="370.5" stroke="#333" stroke-width="0.4"/>
<text x="62.3" y="376.2" font-size="5.9" font-family='"Liberation Serif", serif' text-anchor="middle" fill="#222">−24</text>
<line x1="93.3" y1="369.3" x2="93.3" y2="370.5" stroke="#333" stroke-width="0.4"/>
<text x="93.3" y="376.2" font-size="5.9" font-family='"Liberation Serif", serif' text-anchor="middle" fill="#222">−18</text>
<line x1="124.3" y1="369.3" x2="124.3" y2="370.5" stroke="#333" stroke-width="0.4"/>
<text x="124.3" y="376.2" font-size="5.9" font-family='"Liberation Serif", serif' text-anchor="middle" fill="#222">−12</text>
<line x1="155.3" y1="369.3" x2="155.3" y2="370.5" stroke="#333" stroke-width="0.4"/>
<text x="155.3" y="376.2" font-size="5.9" font-family='"Liberation Serif", serif' text-anchor="middle" fill="#222">−6</text>
<line x1="186.3" y1="369.3" x2="186.3" y2="370.5" stroke="#333" stroke-width="0.4"/>
<text x="186.3" y="376.2" font-size="5.9" font-family='"Liberation Serif", serif' text-anchor="middle" fill="#222">0</text>
<line x1="217.3" y1="369.3" x2="217.3" y2="370.5" stroke="#333" stroke-width="0.4"/>
<text x="217.3" y="376.2" font-size="5.9" font-family='"Liberation Serif", serif' text-anchor="middle" fill="#222">6</text>
<line x1="248.3" y1="369.3" x2="248.3" y2="370.5" stroke="#333" stroke-width="0.4"/>
<text x="248.3" y="376.2" font-size="5.9" font-family='"Liberation Serif", serif' text-anchor="middle" fill="#222">12</text>
<line x1="279.3" y1="369.3" x2="279.3" y2="370.5" stroke="#333" stroke-width="0.4"/>
<text x="279.3" y="376.2" font-size="5.9" font-family='"Liberation Serif", serif' text-anchor="middle" fill="#222">18</text>
<line x1="310.3" y1="369.3" x2="310.3" y2="370.5" stroke="#333" stroke-width="0.4"/>
<text x="310.3" y="376.2" font-size="5.9" font-family='"Liberation Serif", serif' text-anchor="middle" fill="#222">24</text>
<text x="186.1" y="382.6" font-size="6.8" font-family='"Liberation Serif", serif' text-anchor="middle" fill="#222">precipitation trend (mm per decade)</text>
<path d="M419.4 11.3V149.3M451.6 11.3V149.3M483.8 11.3V149.3M516 11.3V149.3M548.2 11.3V149.3M580.3 11.3V149.3M612.5 11.3V149.3M644.7 11.3V149.3" stroke="#ececec" stroke-width="0.7" fill="none"/>
<path d="M413.4 45.8H657.6M413.4 80.3H657.6M413.4 114.8H657.6" stroke="#dedede" stroke-width="0.7" fill="none"/>
<polyline points="419.4,100.3 422.6,17.6 425.8,135.5 429.1,87.2 432.3,52 435.5,107.2 438.7,149.3 441.9,66.5 445.2,94.1 448.4,17.6 451.6,142.4 454.8,148.6 458,142.4 461.2,135.5 464.5,128.6 467.7,128.6 470.9,114.8 474.1,92.7 477.3,32 480.6,59.6 483.8,114.8 487,45.8 490.2,80.3 493.4,101 496.7,94.1 499.9,107.9 503.1,135.5 506.3,142.4 509.5,94.1 512.8,142.4 516,149.3 519.2,80.3 522.4,101 525.6,45.8 528.8,114.8 532.1,135.5 535.3,135.5 538.5,149.3 541.7,149.3 544.9,149.3 548.2,114.1 551.4,121.7 554.6,135.5 557.8,121.7 561,121.7 564.3,101 567.5,114.8 570.7,101 573.9,101 577.1,142.4 580.3,149.3 583.6,128.6 586.8,135.5 590,114.8 593.2,58.9 596.4,149.3 599.7,128.6 602.9,101 606.1,142.4 609.3,135.5 612.5,107.2 615.8,32 619,149.3 622.2,114.1 625.4,66.5 628.6,87.2 631.9,88.6 635.1,70 638.3,114.1 641.5,128.6 644.7,141 647.9,135.5 651.2,149.3" fill="none" stroke="#f03a3a" stroke-width="0.85" stroke-linejoin="round" stroke-linecap="butt" stroke-dasharray="0.85 1.3" opacity="0.7"/>
<polyline points="419.4,105.6 422.6,98.3 425.8,78 429.1,52.3 432.3,93.9 435.5,102.9 438.7,54.8 441.9,110.2 445.2,63.8 448.4,85.2 451.6,71.1 454.8,50 458,96.2 461.2,80.3 464.5,89.3 467.7,92.1 470.9,73.4 474.1,61.7 477.3,91.6 480.6,112.1 483.8,71.1 487,80.3 490.2,57.1 493.4,102.4 496.7,47.9 499.9,66.3 503.1,71.1 506.3,98.3 509.5,91.6 512.8,102.4 516,63.8 519.2,98.3 522.4,91.6 525.6,75.7 528.8,63.8 532.1,128.6 535.3,63.8 538.5,71.1 541.7,71.1 544.9,66.3 548.2,96.2 551.4,93.9 554.6,77.6 557.8,107.5 561,82.6 564.3,89.5 567.5,80.8 570.7,73.4 573.9,75.7 577.1,31.8 580.3,66.1 583.6,84.5 586.8,78 590,71.1 593.2,89.3 596.4,78 599.7,78 602.9,59.4 606.1,80.3 609.3,102.9 612.5,80.3 615.8,82.6 619,71.1 622.2,107.5 625.4,100.8 628.6,75.3 631.9,62.6 635.1,89.3 638.3,73.7 641.5,73.4 644.7,83.5 647.9,50.4 651.2,86.3" fill="none" stroke="#1c1c78" stroke-width="0.85" stroke-linejoin="round" stroke-linecap="butt" stroke-dasharray="0.85 1.3" opacity="0.7"/>
<g fill="#f04848"><rect x="418.4" y="99.4" width="1.9" height="1.9"/><rect x="421.7" y="16.6" width="1.9" height="1.9"/><rect x="424.9" y="134.6" width="1.9" height="1.9"/><rect x="428.1" y="86.3" width="1.9" height="1.9"/><rect x="431.3" y="51.1" width="1.9" height="1.9"/><rect x="434.5" y="106.3" width="1.9" height="1.9"/><rect x="437.8" y="148.4" width="1.9" height="1.9"/><rect x="441" y="65.6" width="1.9" height="1.9"/><rect x="444.2" y="93.2" width="1.9" height="1.9"/><rect x="447.4" y="16.6" width="1.9" height="1.9"/><rect x="450.6" y="141.5" width="1.9" height="1.9"/><rect x="453.9" y="147.7" width="1.9" height="1.9"/><rect x="457.1" y="141.5" width="1.9" height="1.9"/><rect x="460.3" y="134.6" width="1.9" height="1.9"/><rect x="463.5" y="127.7" width="1.9" height="1.9"/><rect x="466.7" y="127.7" width="1.9" height="1.9"/><rect x="470" y="113.9" width="1.9" height="1.9"/><rect x="473.2" y="91.8" width="1.9" height="1.9"/><rect x="476.4" y="31.1" width="1.9" height="1.9"/><rect x="479.6" y="58.7" width="1.9" height="1.9"/><rect x="482.8" y="113.9" width="1.9" height="1.9"/><rect x="486" y="44.9" width="1.9" height="1.9"/><rect x="489.3" y="79.4" width="1.9" height="1.9"/><rect x="492.5" y="100.1" width="1.9" height="1.9"/><rect x="495.7" y="93.2" width="1.9" height="1.9"/><rect x="498.9" y="107" width="1.9" height="1.9"/><rect x="502.1" y="134.6" width="1.9" height="1.9"/><rect x="505.4" y="141.5" width="1.9" height="1.9"/><rect x="508.6" y="93.2" width="1.9" height="1.9"/><rect x="511.8" y="141.5" width="1.9" height="1.9"/><rect x="515" y="148.4" width="1.9" height="1.9"/><rect x="518.2" y="79.4" width="1.9" height="1.9"/><rect x="521.5" y="100.1" width="1.9" height="1.9"/><rect x="524.7" y="44.9" width="1.9" height="1.9"/><rect x="527.9" y="113.9" width="1.9" height="1.9"/><rect x="531.1" y="134.6" width="1.9" height="1.9"/><rect x="534.3" y="134.6" width="1.9" height="1.9"/><rect x="537.6" y="148.4" width="1.9" height="1.9"/><rect x="540.8" y="148.4" width="1.9" height="1.9"/><rect x="544" y="148.4" width="1.9" height="1.9"/><rect x="547.2" y="113.2" width="1.9" height="1.9"/><rect x="550.4" y="120.8" width="1.9" height="1.9"/><rect x="553.6" y="134.6" width="1.9" height="1.9"/><rect x="556.9" y="120.8" width="1.9" height="1.9"/><rect x="560.1" y="120.8" width="1.9" height="1.9"/><rect x="563.3" y="100.1" width="1.9" height="1.9"/><rect x="566.5" y="113.9" width="1.9" height="1.9"/><rect x="569.7" y="100.1" width="1.9" height="1.9"/><rect x="573" y="100.1" width="1.9" height="1.9"/><rect x="576.2" y="141.5" width="1.9" height="1.9"/><rect x="579.4" y="148.4" width="1.9" height="1.9"/><rect x="582.6" y="127.7" width="1.9" height="1.9"/><rect x="585.8" y="134.6" width="1.9" height="1.9"/><rect x="589.1" y="113.9" width="1.9" height="1.9"/><rect x="592.3" y="58" width="1.9" height="1.9"/><rect x="595.5" y="148.4" width="1.9" height="1.9"/><rect x="598.7" y="127.7" width="1.9" height="1.9"/><rect x="601.9" y="100.1" width="1.9" height="1.9"/><rect x="605.2" y="141.5" width="1.9" height="1.9"/><rect x="608.4" y="134.6" width="1.9" height="1.9"/><rect x="611.6" y="106.3" width="1.9" height="1.9"/><rect x="614.8" y="31.1" width="1.9" height="1.9"/><rect x="618" y="148.4" width="1.9" height="1.9"/><rect x="621.2" y="113.2" width="1.9" height="1.9"/><rect x="624.5" y="65.6" width="1.9" height="1.9"/><rect x="627.7" y="86.3" width="1.9" height="1.9"/><rect x="630.9" y="87.7" width="1.9" height="1.9"/><rect x="634.1" y="69" width="1.9" height="1.9"/><rect x="637.3" y="113.2" width="1.9" height="1.9"/><rect x="640.6" y="127.7" width="1.9" height="1.9"/><rect x="643.8" y="140.1" width="1.9" height="1.9"/><rect x="647" y="134.6" width="1.9" height="1.9"/><rect x="650.2" y="148.4" width="1.9" height="1.9"/></g>
<g fill="#1a1a6e"><rect x="418.4" y="104.7" width="1.9" height="1.9"/><rect x="421.7" y="97.3" width="1.9" height="1.9"/><rect x="424.9" y="77.1" width="1.9" height="1.9"/><rect x="428.1" y="51.3" width="1.9" height="1.9"/><rect x="431.3" y="92.9" width="1.9" height="1.9"/><rect x="434.5" y="101.9" width="1.9" height="1.9"/><rect x="437.8" y="53.9" width="1.9" height="1.9"/><rect x="441" y="109.3" width="1.9" height="1.9"/><rect x="444.2" y="62.8" width="1.9" height="1.9"/><rect x="447.4" y="84.2" width="1.9" height="1.9"/><rect x="450.6" y="70.2" width="1.9" height="1.9"/><rect x="453.9" y="49" width="1.9" height="1.9"/><rect x="457.1" y="95.2" width="1.9" height="1.9"/><rect x="460.3" y="79.4" width="1.9" height="1.9"/><rect x="463.5" y="88.3" width="1.9" height="1.9"/><rect x="466.7" y="91.1" width="1.9" height="1.9"/><rect x="470" y="72.5" width="1.9" height="1.9"/><rect x="473.2" y="60.8" width="1.9" height="1.9"/><rect x="476.4" y="90.6" width="1.9" height="1.9"/><rect x="479.6" y="111.1" width="1.9" height="1.9"/><rect x="482.8" y="70.2" width="1.9" height="1.9"/><rect x="486" y="79.4" width="1.9" height="1.9"/><rect x="489.3" y="56.2" width="1.9" height="1.9"/><rect x="492.5" y="101.4" width="1.9" height="1.9"/><rect x="495.7" y="47" width="1.9" height="1.9"/><rect x="498.9" y="65.4" width="1.9" height="1.9"/><rect x="502.1" y="70.2" width="1.9" height="1.9"/><rect x="505.4" y="97.3" width="1.9" height="1.9"/><rect x="508.6" y="90.6" width="1.9" height="1.9"/><rect x="511.8" y="101.4" width="1.9" height="1.9"/><rect x="515" y="62.8" width="1.9" height="1.9"/><rect x="518.2" y="97.3" width="1.9" height="1.9"/><rect x="521.5" y="90.6" width="1.9" height="1.9"/><rect x="524.7" y="74.8" width="1.9" height="1.9"/><rect x="527.9" y="62.8" width="1.9" height="1.9"/><rect x="531.1" y="127.7" width="1.9" height="1.9"/><rect x="534.3" y="62.8" width="1.9" height="1.9"/><rect x="537.6" y="70.2" width="1.9" height="1.9"/><rect x="540.8" y="70.2" width="1.9" height="1.9"/><rect x="544" y="65.4" width="1.9" height="1.9"/><rect x="547.2" y="95.2" width="1.9" height="1.9"/><rect x="550.4" y="92.9" width="1.9" height="1.9"/><rect x="553.6" y="76.6" width="1.9" height="1.9"/><rect x="556.9" y="106.5" width="1.9" height="1.9"/><rect x="560.1" y="81.7" width="1.9" height="1.9"/><rect x="563.3" y="88.6" width="1.9" height="1.9"/><rect x="566.5" y="79.8" width="1.9" height="1.9"/><rect x="569.7" y="72.5" width="1.9" height="1.9"/><rect x="573" y="74.8" width="1.9" height="1.9"/><rect x="576.2" y="30.9" width="1.9" height="1.9"/><rect x="579.4" y="65.1" width="1.9" height="1.9"/><rect x="582.6" y="83.5" width="1.9" height="1.9"/><rect x="585.8" y="77.1" width="1.9" height="1.9"/><rect x="589.1" y="70.2" width="1.9" height="1.9"/><rect x="592.3" y="88.3" width="1.9" height="1.9"/><rect x="595.5" y="77.1" width="1.9" height="1.9"/><rect x="598.7" y="77.1" width="1.9" height="1.9"/><rect x="601.9" y="58.5" width="1.9" height="1.9"/><rect x="605.2" y="79.4" width="1.9" height="1.9"/><rect x="608.4" y="101.9" width="1.9" height="1.9"/><rect x="611.6" y="79.4" width="1.9" height="1.9"/><rect x="614.8" y="81.7" width="1.9" height="1.9"/><rect x="618" y="70.2" width="1.9" height="1.9"/><rect x="621.2" y="106.5" width="1.9" height="1.9"/><rect x="624.5" y="99.8" width="1.9" height="1.9"/><rect x="627.7" y="74.3" width="1.9" height="1.9"/><rect x="630.9" y="61.7" width="1.9" height="1.9"/><rect x="634.1" y="88.3" width="1.9" height="1.9"/><rect x="637.3" y="72.7" width="1.9" height="1.9"/><rect x="640.6" y="72.5" width="1.9" height="1.9"/><rect x="643.8" y="82.6" width="1.9" height="1.9"/><rect x="647" y="49.5" width="1.9" height="1.9"/><rect x="650.2" y="85.4" width="1.9" height="1.9"/></g>
<polyline points="419.4,96.9 651.2,121.4" fill="none" stroke="#f03c3c" stroke-width="1.6" stroke-linejoin="round" stroke-linecap="round"/>
<polyline points="419.4,82.4 651.2,79.4" fill="none" stroke="#1a1a6e" stroke-width="1.6" stroke-linejoin="round" stroke-linecap="butt" stroke-dasharray="5 2.3"/>
<polyline points="419,85.2 423.7,89.2 427.2,88 429.5,93.9 433,90.4 436.5,97.4 439.6,82.2 442.4,88 444.7,99.7 447,104.4 449.4,106.3 451.7,105 455.2,113.7 458.3,123 461,135.2 464.6,128.9 468,116 470.4,99.7 473.2,96.2 476.3,85.7 479.8,79.9 482,75.9 488,75.9 491.4,83.4 495,90.4 498.4,99.7 502,106.7 505.5,120.7 508.5,122.6 512,113.7 515.5,105.6 519,100.2 522.5,103.2 526,102.5 529.5,105.6 533,117.2 536.5,127.8 540,132.4 544.7,135.9 549.4,133.6 552.9,127.8 556.4,118.4 559.9,112.6 563.4,109.1 566.9,110.2 570.4,113.7 573.9,118.4 577.4,123.1 580.4,127.9 583.5,124 586.1,129.2 589.5,125.3 593.4,120.6 597.3,120.1 600.6,118 603.8,115 607.7,113.6 611.6,111 615.5,104.5 619.4,98 621.9,92.9 625.1,88.4 627.7,98 631,94.2 634.4,99.4 637.5,109.7 641.4,116.2 645.3,125.3 647.9,131.8 651,137" fill="none" stroke="#f03c3c" stroke-width="1.3" stroke-linejoin="round" stroke-linecap="round"/>
<polyline points="419,85.2 422.5,86.9 426,89.2 429.5,84.5 433,83.4 436.5,81.5 440,82.2 443.5,79.9 447,76.8 450.5,78.2 454,76.8 457.6,80.6 461,78.7 464.6,80.6 468,82.2 471.6,82.2 475,83.4 478.6,81.5 482,79.9 485.6,81.5 489,77.5 493.3,72.1 496.1,74.5 499.6,76.4 503.1,80.6 506.6,78.2 509,82.2 512,86.9 515.5,84.5 519,87.6 522.5,83.4 526,78.7 529.5,79.9 533,81 536.5,76.8 540,79.9 544.7,76.8 548.2,82.2 551.7,84.5 555.2,87.6 558.3,89.9 562.2,86.9 565.7,82.2 569.3,74 572.8,72.1 576.3,69.8 579.8,68.2 583.3,70.5 586.8,72.1 590.3,76.8 593.8,75.9 597.3,77.5 601.2,79.1 606.4,79.1 610.3,78.1 614.2,81.2 618,87.7 622,88.4 625.8,82.5 629.7,81.2 633.6,83.8 637.5,79.1 640.1,75.5 644,78.1 647.9,76.8 651,75.2" fill="none" stroke="#1a1a6e" stroke-width="1.5" stroke-linejoin="round" stroke-linecap="round"/>
<rect x="413.4" y="11.3" width="244.2" height="138" fill="none" stroke="#2a2a2a" stroke-width="1.15"/>
<path d="M414.3 245.9H658.6M414.3 280.4H658.6M414.3 314.9H658.6" stroke="#dedede" stroke-width="0.7" fill="none"/>
<polyline points="420.4,296.9 423.6,281.1 426.8,349.3 430,245.3 433.3,226 436.5,337.6 439.7,349.3 442.9,287.3 446.1,301.1 449.3,254.2 452.6,342.4 455.8,349.3 459,349.3 462.2,342.4 465.4,341.7 468.6,331.4 471.9,339 475.1,308 478.3,257 481.5,321.7 484.7,324.5 487.9,216.3 491.2,258.4 494.4,294.2 497.6,211.5 500.8,308 504,347.2 507.2,347.2 510.4,324.5 513.7,308 516.9,314.9 520.1,245.9 523.3,272.8 526.5,323.8 529.7,314.9 533,349.3 536.2,349.3 539.4,328.6 542.6,321.7 545.8,342.4 549,337.6 552.3,307.3 555.5,328.6 558.7,345.9 561.9,317.6 565.1,299.7 568.3,338.3 571.6,332.1 574.8,308.6 578,341.7 581.2,337.6 584.4,345.9 587.6,349.3 590.8,342.4 594.1,316.2 597.3,349.3 600.5,335.5 603.7,341.7 606.9,345.9 610.1,328.6 613.4,336.2 616.6,219.8 619.8,328.6 623,336.2 626.2,250.1 629.4,279.7 632.7,294.9 635.9,321.7 639.1,308 642.3,339 645.5,344.5 648.7,335.5 652,345.9" fill="none" stroke="#f03a3a" stroke-width="0.85" stroke-linejoin="round" stroke-linecap="butt" stroke-dasharray="0.85 1.3" opacity="0.7"/>
<polyline points="420.4,232.9 423.6,267 426.8,297.6 430,306.9 433.3,288.3 436.5,279 439.7,263.9 442.9,287.3 446.1,297.6 449.3,279 452.6,300.4 455.8,317.3 459,297.6 462.2,321.7 465.4,304.5 468.6,274.5 471.9,297.6 475.1,287.3 478.3,321.4 481.5,257 484.7,301.8 487.9,283.8 491.2,287.3 494.4,307.6 497.6,292.1 500.8,246.6 504,254.6 507.2,313.5 510.4,276.3 513.7,342.4 516.9,287.3 520.1,305.9 523.3,253.5 526.5,272.1 529.7,305.5 533,290.7 536.2,313.5 539.4,304.2 542.6,280.1 545.8,287.3 549,310.7 552.3,321.7 555.5,308.6 558.7,308.6 561.9,275.6 565.1,287.3 568.3,258.4 571.6,211.8 574.8,263.2 578,237 581.2,267.3 584.4,347.2 587.6,285.6 590.8,287.3 594.1,283.8 597.3,310 600.5,265.9 603.7,299.3 606.9,226 610.1,293.8 613.4,320.7 616.6,271.1 619.8,287.3 623,283.5 626.2,325.5 629.4,287.3 632.7,220.1 635.9,266.3 639.1,287.3 642.3,301.1 645.5,327.9 648.7,281.8 652,296.6" fill="none" stroke="#1c1c78" stroke-width="0.85" stroke-linejoin="round" stroke-linecap="butt" stroke-dasharray="0.85 1.3" opacity="0.7"/>
<g fill="#f04848"><rect x="419.4" y="296" width="1.9" height="1.9"/><rect x="422.7" y="280.1" width="1.9" height="1.9"/><rect x="425.9" y="348.4" width="1.9" height="1.9"/><rect x="429.1" y="244.3" width="1.9" height="1.9"/><rect x="432.3" y="225" width="1.9" height="1.9"/><rect x="435.5" y="336.6" width="1.9" height="1.9"/><rect x="438.7" y="348.4" width="1.9" height="1.9"/><rect x="442" y="286.3" width="1.9" height="1.9"/><rect x="445.2" y="300.1" width="1.9" height="1.9"/><rect x="448.4" y="253.3" width="1.9" height="1.9"/><rect x="451.6" y="341.5" width="1.9" height="1.9"/><rect x="454.8" y="348.4" width="1.9" height="1.9"/><rect x="458" y="348.4" width="1.9" height="1.9"/><rect x="461.3" y="341.5" width="1.9" height="1.9"/><rect x="464.5" y="340.8" width="1.9" height="1.9"/><rect x="467.7" y="330.4" width="1.9" height="1.9"/><rect x="470.9" y="338" width="1.9" height="1.9"/><rect x="474.1" y="307" width="1.9" height="1.9"/><rect x="477.3" y="256" width="1.9" height="1.9"/><rect x="480.6" y="320.8" width="1.9" height="1.9"/><rect x="483.8" y="323.5" width="1.9" height="1.9"/><rect x="487" y="215.4" width="1.9" height="1.9"/><rect x="490.2" y="257.4" width="1.9" height="1.9"/><rect x="493.4" y="293.2" width="1.9" height="1.9"/><rect x="496.6" y="210.6" width="1.9" height="1.9"/><rect x="499.8" y="307" width="1.9" height="1.9"/><rect x="503.1" y="346.3" width="1.9" height="1.9"/><rect x="506.3" y="346.3" width="1.9" height="1.9"/><rect x="509.5" y="323.5" width="1.9" height="1.9"/><rect x="512.7" y="307" width="1.9" height="1.9"/><rect x="515.9" y="313.9" width="1.9" height="1.9"/><rect x="519.1" y="245" width="1.9" height="1.9"/><rect x="522.4" y="271.9" width="1.9" height="1.9"/><rect x="525.6" y="322.9" width="1.9" height="1.9"/><rect x="528.8" y="313.9" width="1.9" height="1.9"/><rect x="532" y="348.4" width="1.9" height="1.9"/><rect x="535.2" y="348.4" width="1.9" height="1.9"/><rect x="538.4" y="327.7" width="1.9" height="1.9"/><rect x="541.7" y="320.8" width="1.9" height="1.9"/><rect x="544.9" y="341.5" width="1.9" height="1.9"/><rect x="548.1" y="336.6" width="1.9" height="1.9"/><rect x="551.3" y="306.3" width="1.9" height="1.9"/><rect x="554.5" y="327.7" width="1.9" height="1.9"/><rect x="557.7" y="344.9" width="1.9" height="1.9"/><rect x="561" y="316.7" width="1.9" height="1.9"/><rect x="564.2" y="298.7" width="1.9" height="1.9"/><rect x="567.4" y="337.3" width="1.9" height="1.9"/><rect x="570.6" y="331.1" width="1.9" height="1.9"/><rect x="573.8" y="307.7" width="1.9" height="1.9"/><rect x="577" y="340.8" width="1.9" height="1.9"/><rect x="580.2" y="336.6" width="1.9" height="1.9"/><rect x="583.5" y="344.9" width="1.9" height="1.9"/><rect x="586.7" y="348.4" width="1.9" height="1.9"/><rect x="589.9" y="341.5" width="1.9" height="1.9"/><rect x="593.1" y="315.3" width="1.9" height="1.9"/><rect x="596.3" y="348.4" width="1.9" height="1.9"/><rect x="599.5" y="334.6" width="1.9" height="1.9"/><rect x="602.8" y="340.8" width="1.9" height="1.9"/><rect x="606" y="344.9" width="1.9" height="1.9"/><rect x="609.2" y="327.7" width="1.9" height="1.9"/><rect x="612.4" y="335.3" width="1.9" height="1.9"/><rect x="615.6" y="218.8" width="1.9" height="1.9"/><rect x="618.8" y="327.7" width="1.9" height="1.9"/><rect x="622.1" y="335.3" width="1.9" height="1.9"/><rect x="625.3" y="249.1" width="1.9" height="1.9"/><rect x="628.5" y="278.8" width="1.9" height="1.9"/><rect x="631.7" y="293.9" width="1.9" height="1.9"/><rect x="634.9" y="320.8" width="1.9" height="1.9"/><rect x="638.1" y="307" width="1.9" height="1.9"/><rect x="641.4" y="338" width="1.9" height="1.9"/><rect x="644.6" y="343.5" width="1.9" height="1.9"/><rect x="647.8" y="334.6" width="1.9" height="1.9"/><rect x="651" y="344.9" width="1.9" height="1.9"/></g>
<g fill="#1a1a6e"><rect x="419.4" y="231.9" width="1.9" height="1.9"/><rect x="422.7" y="266" width="1.9" height="1.9"/><rect x="425.9" y="296.7" width="1.9" height="1.9"/><rect x="429.1" y="306" width="1.9" height="1.9"/><rect x="432.3" y="287.4" width="1.9" height="1.9"/><rect x="435.5" y="278.1" width="1.9" height="1.9"/><rect x="438.7" y="262.9" width="1.9" height="1.9"/><rect x="442" y="286.3" width="1.9" height="1.9"/><rect x="445.2" y="296.7" width="1.9" height="1.9"/><rect x="448.4" y="278.1" width="1.9" height="1.9"/><rect x="451.6" y="299.4" width="1.9" height="1.9"/><rect x="454.8" y="316.3" width="1.9" height="1.9"/><rect x="458" y="296.7" width="1.9" height="1.9"/><rect x="461.3" y="320.8" width="1.9" height="1.9"/><rect x="464.5" y="303.6" width="1.9" height="1.9"/><rect x="467.7" y="273.6" width="1.9" height="1.9"/><rect x="470.9" y="296.7" width="1.9" height="1.9"/><rect x="474.1" y="286.3" width="1.9" height="1.9"/><rect x="477.3" y="320.4" width="1.9" height="1.9"/><rect x="480.6" y="256" width="1.9" height="1.9"/><rect x="483.8" y="300.8" width="1.9" height="1.9"/><rect x="487" y="282.9" width="1.9" height="1.9"/><rect x="490.2" y="286.3" width="1.9" height="1.9"/><rect x="493.4" y="306.7" width="1.9" height="1.9"/><rect x="496.6" y="291.2" width="1.9" height="1.9"/><rect x="499.8" y="245.7" width="1.9" height="1.9"/><rect x="503.1" y="253.6" width="1.9" height="1.9"/><rect x="506.3" y="312.5" width="1.9" height="1.9"/><rect x="509.5" y="275.3" width="1.9" height="1.9"/><rect x="512.7" y="341.5" width="1.9" height="1.9"/><rect x="515.9" y="286.3" width="1.9" height="1.9"/><rect x="519.1" y="304.9" width="1.9" height="1.9"/><rect x="522.4" y="252.6" width="1.9" height="1.9"/><rect x="525.6" y="271.2" width="1.9" height="1.9"/><rect x="528.8" y="304.6" width="1.9" height="1.9"/><rect x="532" y="289.8" width="1.9" height="1.9"/><rect x="535.2" y="312.5" width="1.9" height="1.9"/><rect x="538.4" y="303.2" width="1.9" height="1.9"/><rect x="541.7" y="279.1" width="1.9" height="1.9"/><rect x="544.9" y="286.3" width="1.9" height="1.9"/><rect x="548.1" y="309.8" width="1.9" height="1.9"/><rect x="551.3" y="320.8" width="1.9" height="1.9"/><rect x="554.5" y="307.7" width="1.9" height="1.9"/><rect x="557.7" y="307.7" width="1.9" height="1.9"/><rect x="561" y="274.6" width="1.9" height="1.9"/><rect x="564.2" y="286.3" width="1.9" height="1.9"/><rect x="567.4" y="257.4" width="1.9" height="1.9"/><rect x="570.6" y="210.9" width="1.9" height="1.9"/><rect x="573.8" y="262.2" width="1.9" height="1.9"/><rect x="577" y="236" width="1.9" height="1.9"/><rect x="580.2" y="266.4" width="1.9" height="1.9"/><rect x="583.5" y="346.3" width="1.9" height="1.9"/><rect x="586.7" y="284.6" width="1.9" height="1.9"/><rect x="589.9" y="286.3" width="1.9" height="1.9"/><rect x="593.1" y="282.9" width="1.9" height="1.9"/><rect x="596.3" y="309.1" width="1.9" height="1.9"/><rect x="599.5" y="265" width="1.9" height="1.9"/><rect x="602.8" y="298.4" width="1.9" height="1.9"/><rect x="606" y="225" width="1.9" height="1.9"/><rect x="609.2" y="292.9" width="1.9" height="1.9"/><rect x="612.4" y="319.8" width="1.9" height="1.9"/><rect x="615.6" y="270.1" width="1.9" height="1.9"/><rect x="618.8" y="286.3" width="1.9" height="1.9"/><rect x="622.1" y="282.6" width="1.9" height="1.9"/><rect x="625.3" y="324.6" width="1.9" height="1.9"/><rect x="628.5" y="286.3" width="1.9" height="1.9"/><rect x="631.7" y="219.2" width="1.9" height="1.9"/><rect x="634.9" y="265.3" width="1.9" height="1.9"/><rect x="638.1" y="286.3" width="1.9" height="1.9"/><rect x="641.4" y="300.1" width="1.9" height="1.9"/><rect x="644.6" y="327" width="1.9" height="1.9"/><rect x="647.8" y="280.8" width="1.9" height="1.9"/><rect x="651" y="295.6" width="1.9" height="1.9"/></g>
<polyline points="420.4,303.2 651.8,332.6" fill="none" stroke="#f03c3c" stroke-width="1.6" stroke-linejoin="round" stroke-linecap="round"/>
<polyline points="420.4,285.4 651.8,292.1" fill="none" stroke="#1a1a6e" stroke-width="1.6" stroke-linejoin="round" stroke-linecap="butt" stroke-dasharray="5 2.3"/>
<polyline points="419.8,296.8 423.7,282.5 426.3,289 430.2,299.4 435.4,300.6 439.3,289 443.2,304.5 447.1,320.1 452.3,322.7 456.2,327.9 460,335.7 462.6,341.4 466.5,334.4 470.4,318.8 474.3,313.6 478.2,292.9 482.1,278.6 487.3,264.3 491.2,270.8 495.1,277.3 500.3,282.5 504.2,301.9 508.1,312.3 510.2,325.3 514.1,316.2 519.3,312.3 524.5,316.2 529.7,317.5 533.6,333.1 537.5,340.9 542.7,341.4 547.9,340.9 551.8,342.2 555.6,333.1 559.5,327.9 564.7,326.6 569.9,326.6 573.9,327.9 577.8,335.7 581.7,337 585.6,338.3 589.5,342.2 593.4,342.2 598.6,341.4 603.2,340.9 606.4,327.9 610.3,326.6 612.9,320.1 616.2,311 619.4,303.2 623.2,295.5 625.8,291.6 628.4,299.4 631,304.5 634.9,304 637.5,308.4 640.1,320.1 644,330.5 647.9,339.6 651.8,343.5" fill="none" stroke="#f03c3c" stroke-width="1.3" stroke-linejoin="round" stroke-linecap="round"/>
<polyline points="419.8,270.3 423.7,273.9 427.6,273.4 430.7,277.3 434.1,282.5 438,285.1 443.2,285.8 448.4,287.7 452.3,295.5 456.2,296.8 460,295.5 464,296.2 467.8,295.5 471.7,293.6 475.6,289 479.5,286.4 483.4,285.1 487.3,286.4 491.2,282.5 495.1,281.7 499,283.8 502.9,286.4 506.8,287.7 508.9,288.4 512.8,291.6 516.7,289 520.6,291.6 524.5,289.5 528.4,291.6 532.3,289 536.2,292.9 540.1,298.1 544,301.9 547.9,303.2 551.8,300.6 555.6,298.1 559.5,291.6 563.4,279.9 567.3,270.8 570,264.3 573.9,272.1 577.8,274.7 581.7,283.8 585.6,289 589.5,291.6 593.4,298.1 596,283.8 599.9,281.2 603.8,283.8 610.3,281.2 614.2,283.8 619.4,304.5 623.2,292.9 625.8,287.7 629.7,292.9 633.6,294.2 637,298.1 640.1,292.9 642.7,290.3 645.3,295.5 647.9,301.9 651.8,296.8" fill="none" stroke="#1a1a6e" stroke-width="1.5" stroke-linejoin="round" stroke-linecap="round"/>
<rect x="414.3" y="211.5" width="244.3" height="137.8" fill="none" stroke="#2a2a2a" stroke-width="1.15"/>
<text x="410" y="152.2" font-size="8.9" font-family='"Liberation Serif", serif' text-anchor="end" fill="#ec3838">0</text>
<line x1="411.6" y1="149.3" x2="413.4" y2="149.3" stroke="#444" stroke-width="0.6"/>
<text x="410" y="117.7" font-size="8.9" font-family='"Liberation Serif", serif' text-anchor="end" fill="#ec3838">5</text>
<line x1="411.6" y1="114.8" x2="413.4" y2="114.8" stroke="#444" stroke-width="0.6"/>
<text x="410" y="83.2" font-size="8.9" font-family='"Liberation Serif", serif' text-anchor="end" fill="#ec3838">10</text>
<line x1="411.6" y1="80.3" x2="413.4" y2="80.3" stroke="#444" stroke-width="0.6"/>
<text x="410" y="48.7" font-size="8.9" font-family='"Liberation Serif", serif' text-anchor="end" fill="#ec3838">15</text>
<line x1="411.6" y1="45.8" x2="413.4" y2="45.8" stroke="#444" stroke-width="0.6"/>
<text x="410" y="14.2" font-size="8.9" font-family='"Liberation Serif", serif' text-anchor="end" fill="#ec3838">20</text>
<line x1="411.6" y1="11.3" x2="413.4" y2="11.3" stroke="#444" stroke-width="0.6"/>
<text x="660.6" y="152.2" font-size="8.9" font-family='"Liberation Serif", serif' text-anchor="start" fill="#2a2a80">15</text>
<line x1="657.6" y1="149.3" x2="659.4" y2="149.3" stroke="#444" stroke-width="0.6"/>
<text x="660.6" y="117.7" font-size="8.9" font-family='"Liberation Serif", serif' text-anchor="start" fill="#2a2a80">30</text>
<line x1="657.6" y1="114.8" x2="659.4" y2="114.8" stroke="#444" stroke-width="0.6"/>
<text x="660.6" y="83.2" font-size="8.9" font-family='"Liberation Serif", serif' text-anchor="start" fill="#2a2a80">45</text>
<line x1="657.6" y1="80.3" x2="659.4" y2="80.3" stroke="#444" stroke-width="0.6"/>
<text x="660.6" y="48.7" font-size="8.9" font-family='"Liberation Serif", serif' text-anchor="start" fill="#2a2a80">60</text>
<line x1="657.6" y1="45.8" x2="659.4" y2="45.8" stroke="#444" stroke-width="0.6"/>
<text x="660.6" y="14.2" font-size="8.9" font-family='"Liberation Serif", serif' text-anchor="start" fill="#2a2a80">75</text>
<line x1="657.6" y1="11.3" x2="659.4" y2="11.3" stroke="#444" stroke-width="0.6"/>
<text x="419.4" y="157.6" font-size="8.6" font-family='"Liberation Serif", serif' text-anchor="middle" fill="#222">1950</text>
<line x1="419.4" y1="149.3" x2="419.4" y2="151.3" stroke="#222" stroke-width="0.6"/>
<text x="451.6" y="157.6" font-size="8.6" font-family='"Liberation Serif", serif' text-anchor="middle" fill="#222">1960</text>
<line x1="451.6" y1="149.3" x2="451.6" y2="151.3" stroke="#222" stroke-width="0.6"/>
<text x="483.8" y="157.6" font-size="8.6" font-family='"Liberation Serif", serif' text-anchor="middle" fill="#222">1970</text>
<line x1="483.8" y1="149.3" x2="483.8" y2="151.3" stroke="#222" stroke-width="0.6"/>
<text x="516" y="157.6" font-size="8.6" font-family='"Liberation Serif", serif' text-anchor="middle" fill="#222">1980</text>
<line x1="516" y1="149.3" x2="516" y2="151.3" stroke="#222" stroke-width="0.6"/>
<text x="548.2" y="157.6" font-size="8.6" font-family='"Liberation Serif", serif' text-anchor="middle" fill="#222">1990</text>
<line x1="548.2" y1="149.3" x2="548.2" y2="151.3" stroke="#222" stroke-width="0.6"/>
<text x="580.3" y="157.6" font-size="8.6" font-family='"Liberation Serif", serif' text-anchor="middle" fill="#222">2000</text>
<line x1="580.3" y1="149.3" x2="580.3" y2="151.3" stroke="#222" stroke-width="0.6"/>
<text x="612.5" y="157.6" font-size="8.6" font-family='"Liberation Serif", serif' text-anchor="middle" fill="#222">2010</text>
<line x1="612.5" y1="149.3" x2="612.5" y2="151.3" stroke="#222" stroke-width="0.6"/>
<text x="644.7" y="157.6" font-size="8.6" font-family='"Liberation Serif", serif' text-anchor="middle" fill="#222">2020</text>
<line x1="644.7" y1="149.3" x2="644.7" y2="151.3" stroke="#222" stroke-width="0.6"/>
<text x="397.6" y="80.5" font-size="10.4" font-family='"Liberation Serif", serif' text-anchor="middle" fill="#f03c3c" font-weight="bold" transform="rotate(-90 397.6 80.5)">Pineapple express AR days</text>
<text x="679.2" y="80.3" font-size="9.9" font-family='"Liberation Serif", serif' text-anchor="middle" fill="#1a1a6e" font-weight="bold" transform="rotate(-90 679.2 80.3)">Other AR days</text>
<text x="535.2" y="8.6" font-size="12.45" font-family='"Liberation Serif", serif' text-anchor="middle" fill="#222">Pacific Northwest</text>
<text x="414.6" y="6.9" font-size="10.5" font-family='"Liberation Sans", sans-serif' text-anchor="start" fill="#000" font-weight="bold">c</text>
<text x="410.9" y="352.2" font-size="8.9" font-family='"Liberation Serif", serif' text-anchor="end" fill="#ec3838">0</text>
<line x1="412.5" y1="349.3" x2="414.3" y2="349.3" stroke="#444" stroke-width="0.6"/>
<text x="410.9" y="317.8" font-size="8.9" font-family='"Liberation Serif", serif' text-anchor="end" fill="#ec3838">50</text>
<line x1="412.5" y1="314.9" x2="414.3" y2="314.9" stroke="#444" stroke-width="0.6"/>
<text x="410.9" y="283.3" font-size="8.9" font-family='"Liberation Serif", serif' text-anchor="end" fill="#ec3838">100</text>
<line x1="412.5" y1="280.4" x2="414.3" y2="280.4" stroke="#444" stroke-width="0.6"/>
<text x="410.9" y="248.8" font-size="8.9" font-family='"Liberation Serif", serif' text-anchor="end" fill="#ec3838">150</text>
<line x1="412.5" y1="245.9" x2="414.3" y2="245.9" stroke="#444" stroke-width="0.6"/>
<text x="410.9" y="214.4" font-size="8.9" font-family='"Liberation Serif", serif' text-anchor="end" fill="#ec3838">200</text>
<line x1="412.5" y1="211.5" x2="414.3" y2="211.5" stroke="#444" stroke-width="0.6"/>
<text x="661.6" y="352.2" font-size="8.9" font-family='"Liberation Serif", serif' text-anchor="start" fill="#2a2a80">150</text>
<line x1="658.6" y1="349.3" x2="660.4" y2="349.3" stroke="#444" stroke-width="0.6"/>
<text x="661.6" y="317.8" font-size="8.9" font-family='"Liberation Serif", serif' text-anchor="start" fill="#2a2a80">250</text>
<line x1="658.6" y1="314.9" x2="660.4" y2="314.9" stroke="#444" stroke-width="0.6"/>
<text x="661.6" y="283.3" font-size="8.9" font-family='"Liberation Serif", serif' text-anchor="start" fill="#2a2a80">350</text>
<line x1="658.6" y1="280.4" x2="660.4" y2="280.4" stroke="#444" stroke-width="0.6"/>
<text x="661.6" y="248.8" font-size="8.9" font-family='"Liberation Serif", serif' text-anchor="start" fill="#2a2a80">450</text>
<line x1="658.6" y1="245.9" x2="660.4" y2="245.9" stroke="#444" stroke-width="0.6"/>
<text x="661.6" y="214.4" font-size="8.9" font-family='"Liberation Serif", serif' text-anchor="start" fill="#2a2a80">550</text>
<line x1="658.6" y1="211.5" x2="660.4" y2="211.5" stroke="#444" stroke-width="0.6"/>
<text x="420.4" y="357.6" font-size="8.6" font-family='"Liberation Serif", serif' text-anchor="middle" fill="#222">1950</text>
<line x1="420.4" y1="349.3" x2="420.4" y2="351.3" stroke="#222" stroke-width="0.6"/>
<text x="452.6" y="357.6" font-size="8.6" font-family='"Liberation Serif", serif' text-anchor="middle" fill="#222">1960</text>
<line x1="452.6" y1="349.3" x2="452.6" y2="351.3" stroke="#222" stroke-width="0.6"/>
<text x="484.7" y="357.6" font-size="8.6" font-family='"Liberation Serif", serif' text-anchor="middle" fill="#222">1970</text>
<line x1="484.7" y1="349.3" x2="484.7" y2="351.3" stroke="#222" stroke-width="0.6"/>
<text x="516.9" y="357.6" font-size="8.6" font-family='"Liberation Serif", serif' text-anchor="middle" fill="#222">1980</text>
<line x1="516.9" y1="349.3" x2="516.9" y2="351.3" stroke="#222" stroke-width="0.6"/>
<text x="549" y="357.6" font-size="8.6" font-family='"Liberation Serif", serif' text-anchor="middle" fill="#222">1990</text>
<line x1="549" y1="349.3" x2="549" y2="351.3" stroke="#222" stroke-width="0.6"/>
<text x="581.2" y="357.6" font-size="8.6" font-family='"Liberation Serif", serif' text-anchor="middle" fill="#222">2000</text>
<line x1="581.2" y1="349.3" x2="581.2" y2="351.3" stroke="#222" stroke-width="0.6"/>
<text x="613.4" y="357.6" font-size="8.6" font-family='"Liberation Serif", serif' text-anchor="middle" fill="#222">2010</text>
<line x1="613.4" y1="349.3" x2="613.4" y2="351.3" stroke="#222" stroke-width="0.6"/>
<text x="645.5" y="357.6" font-size="8.6" font-family='"Liberation Serif", serif' text-anchor="middle" fill="#222">2020</text>
<line x1="645.5" y1="349.3" x2="645.5" y2="351.3" stroke="#222" stroke-width="0.6"/>
<text x="383.3" y="281.5" font-size="10.4" font-family='"Liberation Serif", serif' text-anchor="middle" fill="#f03c3c" font-weight="bold" transform="rotate(-90 383.3 281.5)">Pineapple express</text>
<text x="391.4" y="279" font-size="10.4" font-family='"Liberation Serif", serif' text-anchor="middle" fill="#f03c3c" font-weight="bold" transform="rotate(-90 391.4 279)">precipitation (mm)</text>
<text x="683.2" y="279" font-size="10.3" font-family='"Liberation Serif", serif' text-anchor="middle" fill="#1a1a6e" font-weight="bold" transform="rotate(-90 683.2 279)">Other AR precipitation (mm)</text>
<text x="535.8" y="208.9" font-size="12.45" font-family='"Liberation Serif", serif' text-anchor="middle" fill="#222">Pacific Northwest</text>
<text x="421.5" y="206.7" font-size="13.5" font-family='"Liberation Serif", serif' text-anchor="start" fill="#000" font-weight="bold">f</text>
<rect x="422.4" y="163.5" width="227.9" height="22.5" rx="1.5" fill="#fff" stroke="#ddd" stroke-width="0.6"/>
<line x1="424.4" y1="169.4" x2="439.8" y2="169.4" stroke="#f05050" stroke-width="1.2"/>
<line x1="424.4" y1="179.8" x2="439.8" y2="179.8" stroke="#5a5a98" stroke-width="1.2"/>
<text x="444.8" y="172.3" font-size="7.95" font-family='"Liberation Sans", sans-serif' text-anchor="start" fill="#262626">Pineapple express AR days (slope: -0.5 days per decade)</text>
<text x="444.8" y="182.7" font-size="7.95" font-family='"Liberation Sans", sans-serif' text-anchor="start" fill="#262626">other AR days (slope: 0.2 days per decade)</text>
<rect x="435.3" y="361.4" width="204.2" height="22.8" rx="1.5" fill="#fff" stroke="#ddd" stroke-width="0.6"/>
<line x1="438.2" y1="367.3" x2="453.4" y2="367.3" stroke="#f04646" stroke-width="1.2"/>
<line x1="438.2" y1="377.8" x2="453.4" y2="377.8" stroke="#22226e" stroke-width="1.2"/>
<text x="459.2" y="370.2" font-size="9.35" font-family='"Liberation Serif", serif' text-anchor="start" fill="#262626">Pineapple-related (slope: -5.9 mm per decade)</text>
<text x="459.2" y="380.7" font-size="9.35" font-family='"Liberation Serif", serif' text-anchor="start" fill="#262626">Other AR-related (slope: -13.8 mm per decade)</text></svg>
</body></html>
